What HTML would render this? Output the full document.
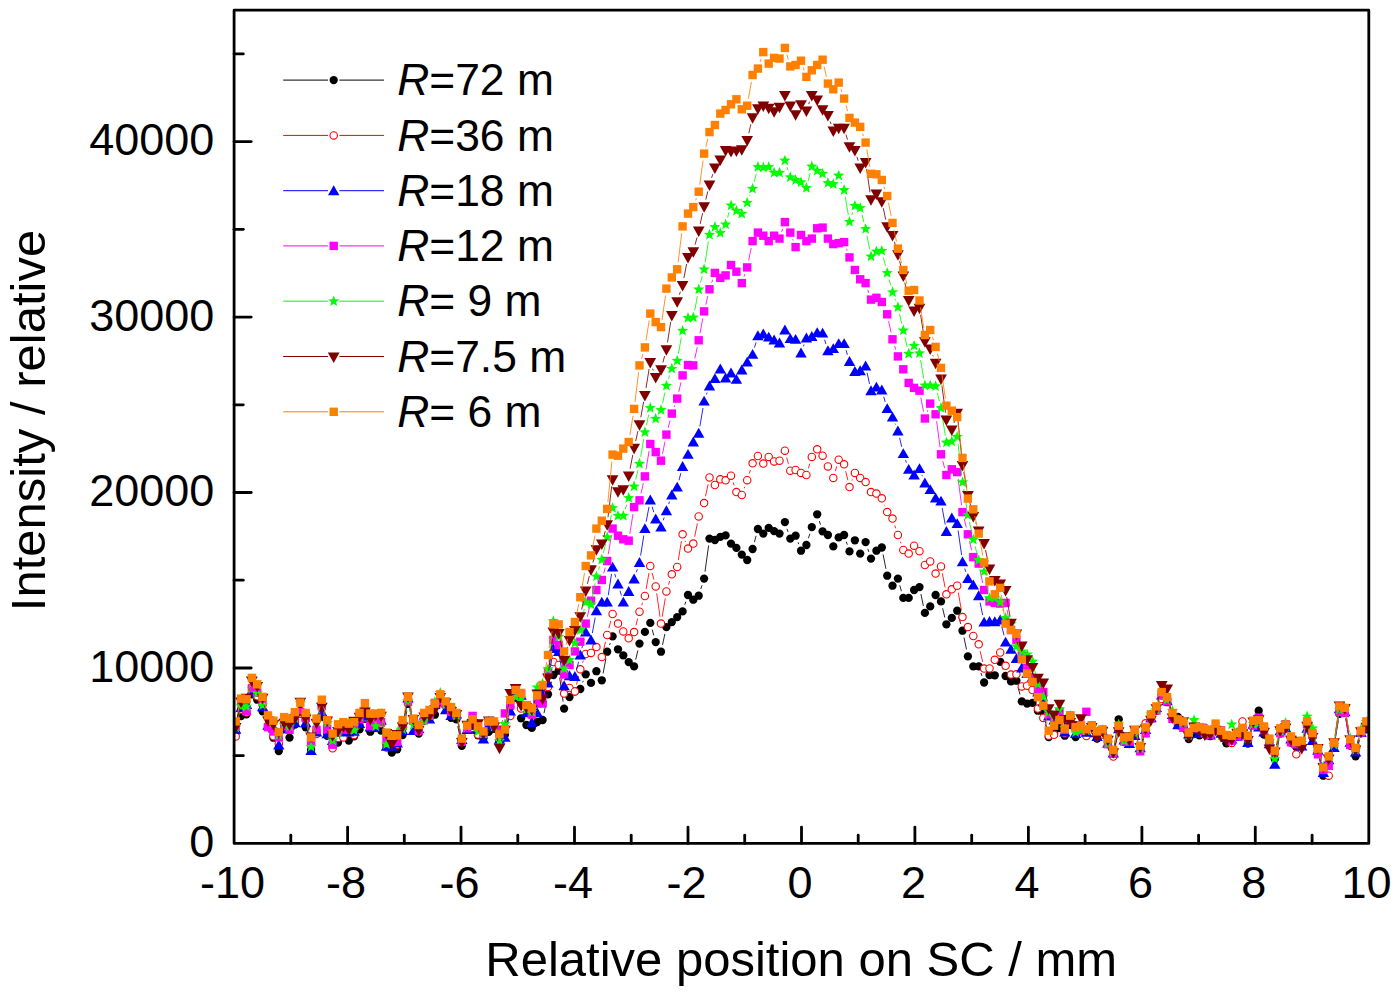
<!DOCTYPE html>
<html><head><meta charset="utf-8"><title>Intensity profiles</title>
<style>html,body{margin:0;padding:0;background:#fff;}svg{display:block}text{font-family:"Liberation Sans",sans-serif;fill:#000}</style></head><body>
<svg width="1400" height="994" viewBox="0 0 1400 994">
<rect width="1400" height="994" fill="#fff"/>
<defs><clipPath id="cp"><rect x="234.1" y="10.2" width="1134.7" height="833.2"/></clipPath></defs>
<g clip-path="url(#cp)">
<path d="M237.8 726.4L239 722.7M248.3 707.5L250 701M265 717.9L265.6 719.3M280.4 744.3L282.5 735.2M302.8 719.9L303.2 720.8M307.3 734.2L309.5 743.2M313 743.3L314.5 737.8M318.9 724.5L319.4 723.4M323.8 723.6L325.3 729.1M383.6 737.1L384 738.1M399.7 742.7L400.1 741.6M403.8 728.2L406.8 710.7M410.2 710.5L411.1 713.1M415.9 726.3L416.2 727.1M457.8 726.1L460.4 738.9M463.9 739.1L465.2 734.7M506.2 727.9L508.9 714M517.4 704.5L519.3 711.5M544 713.1L546.5 701.2M549.9 687.6L551.5 681.7M559.7 677.6L563.1 701.7M582.7 682.4L583.3 680.9M603.1 673.4L605.9 658.6M609.5 645.1L610.3 643M635.7 659.6L637.9 650.4M652.2 629.6L653.8 635.4M662.5 644.9L664.9 633.9M684.8 604.7L685.8 601.7M700.8 589L702 585.3M705 571.7L708.6 545.5M754.4 542.2L756.1 535.8M787 528.8L788.1 531.9M798 542.3L798.7 544.1M808.4 538.3L809.8 533.8M819.3 521L820.5 524.7M846.3 541.7L847.3 544.7M867.8 548.8L868.8 551.9M883.1 554.4L885.9 568.8M899.8 585.3L901.4 591.2M920.9 594L923.4 606M942.6 608.2L944.8 617.5M959 617.5L960.7 623.9M964 637.6L966.5 649.5M980.9 673L981.9 675.9M1002.7 668.3L1003.1 669.5M1018.1 687.5L1020 694.6M1044.8 718.8L1047.2 730.3M1114.4 744.7L1117.5 726.2M1120.3 726.1L1122.5 735.3M1137.4 741.7L1137.7 742.6M1142.3 742.4L1143.5 738.8M1148.1 725.5L1148.5 724.3M1158.5 704.2L1159.6 701M1169.3 708.8L1170.3 712M1249.6 736.7L1251.5 729.2M1260.2 717.5L1262.5 727.8M1271.5 748L1272.8 752.3M1276.2 752.2L1278.8 740.2M1288.1 735.1L1288.5 736.1M1303.6 737.5L1305.2 731.9M1314.9 743.9L1315.5 745.8M1319.5 759.2L1321.7 768.9M1330.7 756.7L1332 752.3M1335.2 738.7L1338.3 720.7M1345.9 718.7L1349.1 738.7M1357.2 749.5L1359.4 740.1" stroke="#000000" stroke-width="0.85" fill="none"/>
<g>
<circle cx="235.7" cy="733.1" r="4.15" fill="#000000"/>
<circle cx="241.1" cy="716" r="4.15" fill="#000000"/>
<circle cx="246.5" cy="714.3" r="4.15" fill="#000000"/>
<circle cx="251.9" cy="694.3" r="4.15" fill="#000000"/>
<circle cx="257.2" cy="699.7" r="4.15" fill="#000000"/>
<circle cx="262.6" cy="711.3" r="4.15" fill="#000000"/>
<circle cx="268" cy="725.9" r="4.15" fill="#000000"/>
<circle cx="273.4" cy="737.7" r="4.15" fill="#000000"/>
<circle cx="278.8" cy="751.1" r="4.15" fill="#000000"/>
<circle cx="284.2" cy="728.4" r="4.15" fill="#000000"/>
<circle cx="289.5" cy="737.6" r="4.15" fill="#000000"/>
<circle cx="294.9" cy="724.5" r="4.15" fill="#000000"/>
<circle cx="300.3" cy="713.4" r="4.15" fill="#000000"/>
<circle cx="305.7" cy="727.3" r="4.15" fill="#000000"/>
<circle cx="311.1" cy="750" r="4.15" fill="#000000"/>
<circle cx="316.5" cy="731.1" r="4.15" fill="#000000"/>
<circle cx="321.8" cy="716.9" r="4.15" fill="#000000"/>
<circle cx="327.2" cy="735.8" r="4.15" fill="#000000"/>
<circle cx="332.6" cy="745.8" r="4.15" fill="#000000"/>
<circle cx="338" cy="742.5" r="4.15" fill="#000000"/>
<circle cx="343.4" cy="735.6" r="4.15" fill="#000000"/>
<circle cx="348.8" cy="740.5" r="4.15" fill="#000000"/>
<circle cx="354.1" cy="736.4" r="4.15" fill="#000000"/>
<circle cx="359.5" cy="729.4" r="4.15" fill="#000000"/>
<circle cx="364.9" cy="718.9" r="4.15" fill="#000000"/>
<circle cx="370.3" cy="731.7" r="4.15" fill="#000000"/>
<circle cx="375.7" cy="726.3" r="4.15" fill="#000000"/>
<circle cx="381.1" cy="730.6" r="4.15" fill="#000000"/>
<circle cx="386.5" cy="744.7" r="4.15" fill="#000000"/>
<circle cx="391.8" cy="752.5" r="4.15" fill="#000000"/>
<circle cx="397.2" cy="749.3" r="4.15" fill="#000000"/>
<circle cx="402.6" cy="735.1" r="4.15" fill="#000000"/>
<circle cx="408" cy="703.8" r="4.15" fill="#000000"/>
<circle cx="413.4" cy="719.8" r="4.15" fill="#000000"/>
<circle cx="418.8" cy="733.6" r="4.15" fill="#000000"/>
<circle cx="424.1" cy="720.5" r="4.15" fill="#000000"/>
<circle cx="429.5" cy="713.8" r="4.15" fill="#000000"/>
<circle cx="434.9" cy="714.7" r="4.15" fill="#000000"/>
<circle cx="440.3" cy="701.4" r="4.15" fill="#000000"/>
<circle cx="445.7" cy="705.7" r="4.15" fill="#000000"/>
<circle cx="451.1" cy="717.9" r="4.15" fill="#000000"/>
<circle cx="456.4" cy="719.3" r="4.15" fill="#000000"/>
<circle cx="461.8" cy="745.8" r="4.15" fill="#000000"/>
<circle cx="467.2" cy="728" r="4.15" fill="#000000"/>
<circle cx="472.6" cy="728.9" r="4.15" fill="#000000"/>
<circle cx="478" cy="735.3" r="4.15" fill="#000000"/>
<circle cx="483.4" cy="738.3" r="4.15" fill="#000000"/>
<circle cx="488.7" cy="731.9" r="4.15" fill="#000000"/>
<circle cx="494.1" cy="728.8" r="4.15" fill="#000000"/>
<circle cx="499.5" cy="741.1" r="4.15" fill="#000000"/>
<circle cx="504.9" cy="734.8" r="4.15" fill="#000000"/>
<circle cx="510.3" cy="707.1" r="4.15" fill="#000000"/>
<circle cx="515.7" cy="697.8" r="4.15" fill="#000000"/>
<circle cx="521.1" cy="718.3" r="4.15" fill="#000000"/>
<circle cx="526.4" cy="725" r="4.15" fill="#000000"/>
<circle cx="531.8" cy="727.9" r="4.15" fill="#000000"/>
<circle cx="537.2" cy="722" r="4.15" fill="#000000"/>
<circle cx="542.6" cy="720" r="4.15" fill="#000000"/>
<circle cx="548" cy="694.3" r="4.15" fill="#000000"/>
<circle cx="553.4" cy="675" r="4.15" fill="#000000"/>
<circle cx="558.7" cy="670.7" r="4.15" fill="#000000"/>
<circle cx="564.1" cy="708.6" r="4.15" fill="#000000"/>
<circle cx="569.5" cy="697.1" r="4.15" fill="#000000"/>
<circle cx="574.9" cy="691.4" r="4.15" fill="#000000"/>
<circle cx="580.3" cy="689" r="4.15" fill="#000000"/>
<circle cx="585.7" cy="674.3" r="4.15" fill="#000000"/>
<circle cx="591" cy="682.9" r="4.15" fill="#000000"/>
<circle cx="596.4" cy="671.2" r="4.15" fill="#000000"/>
<circle cx="601.8" cy="680.3" r="4.15" fill="#000000"/>
<circle cx="607.2" cy="651.7" r="4.15" fill="#000000"/>
<circle cx="612.6" cy="636.4" r="4.15" fill="#000000"/>
<circle cx="618" cy="649.3" r="4.15" fill="#000000"/>
<circle cx="623.3" cy="655.4" r="4.15" fill="#000000"/>
<circle cx="628.7" cy="662.1" r="4.15" fill="#000000"/>
<circle cx="634.1" cy="666.4" r="4.15" fill="#000000"/>
<circle cx="639.5" cy="643.6" r="4.15" fill="#000000"/>
<circle cx="644.9" cy="631.9" r="4.15" fill="#000000"/>
<circle cx="650.3" cy="622.9" r="4.15" fill="#000000"/>
<circle cx="655.7" cy="642.1" r="4.15" fill="#000000"/>
<circle cx="661" cy="651.7" r="4.15" fill="#000000"/>
<circle cx="666.4" cy="627.1" r="4.15" fill="#000000"/>
<circle cx="671.8" cy="622.1" r="4.15" fill="#000000"/>
<circle cx="677.2" cy="617.1" r="4.15" fill="#000000"/>
<circle cx="682.6" cy="611.4" r="4.15" fill="#000000"/>
<circle cx="688" cy="595" r="4.15" fill="#000000"/>
<circle cx="693.3" cy="599.7" r="4.15" fill="#000000"/>
<circle cx="698.7" cy="595.7" r="4.15" fill="#000000"/>
<circle cx="704.1" cy="578.6" r="4.15" fill="#000000"/>
<circle cx="709.5" cy="538.6" r="4.15" fill="#000000"/>
<circle cx="714.9" cy="540" r="4.15" fill="#000000"/>
<circle cx="720.3" cy="536.9" r="4.15" fill="#000000"/>
<circle cx="725.6" cy="535.4" r="4.15" fill="#000000"/>
<circle cx="731" cy="543.6" r="4.15" fill="#000000"/>
<circle cx="736.4" cy="547.9" r="4.15" fill="#000000"/>
<circle cx="741.8" cy="554.6" r="4.15" fill="#000000"/>
<circle cx="747.2" cy="560" r="4.15" fill="#000000"/>
<circle cx="752.6" cy="549" r="4.15" fill="#000000"/>
<circle cx="757.9" cy="529" r="4.15" fill="#000000"/>
<circle cx="763.3" cy="533.6" r="4.15" fill="#000000"/>
<circle cx="768.7" cy="527.9" r="4.15" fill="#000000"/>
<circle cx="774.1" cy="531.1" r="4.15" fill="#000000"/>
<circle cx="779.5" cy="533.6" r="4.15" fill="#000000"/>
<circle cx="784.9" cy="522.1" r="4.15" fill="#000000"/>
<circle cx="790.3" cy="538.6" r="4.15" fill="#000000"/>
<circle cx="795.6" cy="535.7" r="4.15" fill="#000000"/>
<circle cx="801" cy="550.7" r="4.15" fill="#000000"/>
<circle cx="806.4" cy="545" r="4.15" fill="#000000"/>
<circle cx="811.8" cy="527.1" r="4.15" fill="#000000"/>
<circle cx="817.2" cy="514.3" r="4.15" fill="#000000"/>
<circle cx="822.6" cy="531.4" r="4.15" fill="#000000"/>
<circle cx="827.9" cy="535" r="4.15" fill="#000000"/>
<circle cx="833.3" cy="546.4" r="4.15" fill="#000000"/>
<circle cx="838.7" cy="537.4" r="4.15" fill="#000000"/>
<circle cx="844.1" cy="535" r="4.15" fill="#000000"/>
<circle cx="849.5" cy="551.4" r="4.15" fill="#000000"/>
<circle cx="854.9" cy="540.3" r="4.15" fill="#000000"/>
<circle cx="860.2" cy="553.6" r="4.15" fill="#000000"/>
<circle cx="865.6" cy="542.1" r="4.15" fill="#000000"/>
<circle cx="871" cy="558.6" r="4.15" fill="#000000"/>
<circle cx="876.4" cy="550.7" r="4.15" fill="#000000"/>
<circle cx="881.8" cy="547.5" r="4.15" fill="#000000"/>
<circle cx="887.2" cy="575.7" r="4.15" fill="#000000"/>
<circle cx="892.5" cy="585.7" r="4.15" fill="#000000"/>
<circle cx="897.9" cy="578.6" r="4.15" fill="#000000"/>
<circle cx="903.3" cy="597.9" r="4.15" fill="#000000"/>
<circle cx="908.7" cy="597.9" r="4.15" fill="#000000"/>
<circle cx="914.1" cy="590" r="4.15" fill="#000000"/>
<circle cx="919.5" cy="587.1" r="4.15" fill="#000000"/>
<circle cx="924.9" cy="612.9" r="4.15" fill="#000000"/>
<circle cx="930.2" cy="606.4" r="4.15" fill="#000000"/>
<circle cx="935.6" cy="595" r="4.15" fill="#000000"/>
<circle cx="941" cy="601.4" r="4.15" fill="#000000"/>
<circle cx="946.4" cy="624.3" r="4.15" fill="#000000"/>
<circle cx="951.8" cy="617.9" r="4.15" fill="#000000"/>
<circle cx="957.2" cy="610.7" r="4.15" fill="#000000"/>
<circle cx="962.5" cy="630.7" r="4.15" fill="#000000"/>
<circle cx="967.9" cy="656.4" r="4.15" fill="#000000"/>
<circle cx="973.3" cy="666.4" r="4.15" fill="#000000"/>
<circle cx="978.7" cy="666.4" r="4.15" fill="#000000"/>
<circle cx="984.1" cy="682.5" r="4.15" fill="#000000"/>
<circle cx="989.5" cy="675" r="4.15" fill="#000000"/>
<circle cx="994.8" cy="675.3" r="4.15" fill="#000000"/>
<circle cx="1000.2" cy="661.8" r="4.15" fill="#000000"/>
<circle cx="1005.6" cy="676" r="4.15" fill="#000000"/>
<circle cx="1011" cy="681.4" r="4.15" fill="#000000"/>
<circle cx="1016.4" cy="680.7" r="4.15" fill="#000000"/>
<circle cx="1021.8" cy="701.4" r="4.15" fill="#000000"/>
<circle cx="1027.1" cy="703.6" r="4.15" fill="#000000"/>
<circle cx="1032.5" cy="702.9" r="4.15" fill="#000000"/>
<circle cx="1037.9" cy="710.7" r="4.15" fill="#000000"/>
<circle cx="1043.3" cy="712" r="4.15" fill="#000000"/>
<circle cx="1048.7" cy="737.1" r="4.15" fill="#000000"/>
<circle cx="1054.1" cy="732.9" r="4.15" fill="#000000"/>
<circle cx="1059.5" cy="728" r="4.15" fill="#000000"/>
<circle cx="1064.8" cy="735.7" r="4.15" fill="#000000"/>
<circle cx="1070.2" cy="725" r="4.15" fill="#000000"/>
<circle cx="1075.6" cy="737.1" r="4.15" fill="#000000"/>
<circle cx="1081" cy="727.1" r="4.15" fill="#000000"/>
<circle cx="1086.4" cy="732" r="4.15" fill="#000000"/>
<circle cx="1091.8" cy="733.2" r="4.15" fill="#000000"/>
<circle cx="1097.1" cy="738.5" r="4.15" fill="#000000"/>
<circle cx="1102.5" cy="732.6" r="4.15" fill="#000000"/>
<circle cx="1107.9" cy="739" r="4.15" fill="#000000"/>
<circle cx="1113.3" cy="751.6" r="4.15" fill="#000000"/>
<circle cx="1118.7" cy="719.3" r="4.15" fill="#000000"/>
<circle cx="1124.1" cy="742.1" r="4.15" fill="#000000"/>
<circle cx="1129.4" cy="736.7" r="4.15" fill="#000000"/>
<circle cx="1134.8" cy="735.2" r="4.15" fill="#000000"/>
<circle cx="1140.2" cy="749.1" r="4.15" fill="#000000"/>
<circle cx="1145.6" cy="732.1" r="4.15" fill="#000000"/>
<circle cx="1151" cy="717.8" r="4.15" fill="#000000"/>
<circle cx="1156.4" cy="710.8" r="4.15" fill="#000000"/>
<circle cx="1161.7" cy="694.4" r="4.15" fill="#000000"/>
<circle cx="1167.1" cy="702.2" r="4.15" fill="#000000"/>
<circle cx="1172.5" cy="718.6" r="4.15" fill="#000000"/>
<circle cx="1177.9" cy="717" r="4.15" fill="#000000"/>
<circle cx="1183.3" cy="727.9" r="4.15" fill="#000000"/>
<circle cx="1188.7" cy="739" r="4.15" fill="#000000"/>
<circle cx="1194.1" cy="733.2" r="4.15" fill="#000000"/>
<circle cx="1199.4" cy="735.4" r="4.15" fill="#000000"/>
<circle cx="1204.8" cy="734.4" r="4.15" fill="#000000"/>
<circle cx="1210.2" cy="736" r="4.15" fill="#000000"/>
<circle cx="1215.6" cy="729.1" r="4.15" fill="#000000"/>
<circle cx="1221" cy="734.2" r="4.15" fill="#000000"/>
<circle cx="1226.4" cy="743.3" r="4.15" fill="#000000"/>
<circle cx="1231.7" cy="739.3" r="4.15" fill="#000000"/>
<circle cx="1237.1" cy="736.6" r="4.15" fill="#000000"/>
<circle cx="1242.5" cy="734.6" r="4.15" fill="#000000"/>
<circle cx="1247.9" cy="743.5" r="4.15" fill="#000000"/>
<circle cx="1253.3" cy="722.5" r="4.15" fill="#000000"/>
<circle cx="1258.7" cy="710.7" r="4.15" fill="#000000"/>
<circle cx="1264" cy="734.6" r="4.15" fill="#000000"/>
<circle cx="1269.4" cy="741.3" r="4.15" fill="#000000"/>
<circle cx="1274.8" cy="759" r="4.15" fill="#000000"/>
<circle cx="1280.2" cy="733.4" r="4.15" fill="#000000"/>
<circle cx="1285.6" cy="728.5" r="4.15" fill="#000000"/>
<circle cx="1291" cy="742.6" r="4.15" fill="#000000"/>
<circle cx="1296.3" cy="747" r="4.15" fill="#000000"/>
<circle cx="1301.7" cy="744.3" r="4.15" fill="#000000"/>
<circle cx="1307.1" cy="725.2" r="4.15" fill="#000000"/>
<circle cx="1312.5" cy="737.3" r="4.15" fill="#000000"/>
<circle cx="1317.9" cy="752.4" r="4.15" fill="#000000"/>
<circle cx="1323.3" cy="775.7" r="4.15" fill="#000000"/>
<circle cx="1328.7" cy="763.4" r="4.15" fill="#000000"/>
<circle cx="1334" cy="745.6" r="4.15" fill="#000000"/>
<circle cx="1339.4" cy="713.8" r="4.15" fill="#000000"/>
<circle cx="1344.8" cy="711.8" r="4.15" fill="#000000"/>
<circle cx="1350.2" cy="745.6" r="4.15" fill="#000000"/>
<circle cx="1355.6" cy="756.3" r="4.15" fill="#000000"/>
<circle cx="1361" cy="733.3" r="4.15" fill="#000000"/>
<circle cx="1366.3" cy="729.3" r="4.15" fill="#000000"/>
</g>
<path d="M237.1 729.6L239.7 716.5M247.9 705.6L250.4 694M264.4 711.6L266.2 718.7M280.4 736.7L282.6 727.2M307.1 726.3L309.6 738.3M317.9 727.2L320.4 714.7M323.3 714.7L325.8 727.1M329.7 740.5L330.1 741.7M382.6 730.4L384.9 740.6M399.4 738.2L400.5 734.7M403.9 721.1L406.7 706.6M409.6 706.6L411.7 715M421.3 725.3L421.6 724.5M457.9 721.9L460.3 732.7M496.6 728.7L497 729.8M507.3 723.9L507.8 722.6M511.7 709.2L514.2 697.5M517.7 697.4L519 701.8M539.4 696.5L540.4 693.7M549.4 680.2L551.9 668.8M560 671.9L562.8 686.7M576.5 684.6L578.6 676.1M582.6 662.7L583.3 660.6M603.5 650.3L605.5 641.8M608.9 628.2L610.8 620.8M635.9 625.3L637.7 618.5M641.8 605.1L642.6 602.6M646.1 589.1L649 572.9M652.1 572.8L653.9 579.6M656.7 593.3L660 616.7M662.2 616.7L665.3 598.3M668.5 584.7L669.7 581M678.3 560.1L681.4 541.2M685 540.9L685.5 542M694.7 536.7L697.4 523.3M705.5 496.2L708.1 484.3M733.2 482.4L734.2 485.4M744.2 488.4L744.8 486.8M749.3 473.5L750.4 470M786.7 457.5L788.4 463.9M808.4 468.3L809.8 463.6M835.3 471.2L836.7 466.4M845.7 471.1L847.9 480.3M852 480.6L852.4 479.4M884.3 504.8L884.6 505.6M894.7 525.3L895.7 528.3M900.3 541.6L901 543.4M922 557.7L922.3 558.5M942.3 573.3L945.1 587.4M958.3 592.6L961.4 610.2M980.2 651.1L982.6 661.8M1034.5 696.7L1036 701.9M1045.3 724.6L1046.7 729M1056.4 728.2L1057.1 726.3M1067 726.8L1068 723.6M1110 746.5L1111.2 750M1114.7 749.8L1117.3 737.2M1141.8 739.5L1144 730.1M1169.4 705.9L1170.3 708.5M1239.5 729.8L1240.1 728M1244.5 728.1L1245.9 732.6M1250.3 732.7L1250.8 731.4M1266.3 736.1L1267.2 738.9M1276.7 746.5L1278.3 740.4M1287.7 732.5L1288.8 736.1M1303.9 734.7L1304.9 731.4M1314.9 741.6L1315.5 743.1M1319.6 756.4L1321.5 763.7M1329.8 768.8L1332.9 750.5M1335.1 736.7L1338.4 715.2M1345.9 718.1L1349.1 738.2M1357.6 742.6L1358.9 738.5" stroke="#ff0000" stroke-width="0.85" fill="none"/>
<g>
<circle cx="235.7" cy="736.5" r="3.7" fill="#fff" stroke="#ff0000" stroke-width="1.1"/>
<circle cx="241.1" cy="709.6" r="3.7" fill="#fff" stroke="#ff0000" stroke-width="1.1"/>
<circle cx="246.5" cy="712.4" r="3.7" fill="#fff" stroke="#ff0000" stroke-width="1.1"/>
<circle cx="251.9" cy="687.2" r="3.7" fill="#fff" stroke="#ff0000" stroke-width="1.1"/>
<circle cx="257.2" cy="696.3" r="3.7" fill="#fff" stroke="#ff0000" stroke-width="1.1"/>
<circle cx="262.6" cy="704.8" r="3.7" fill="#fff" stroke="#ff0000" stroke-width="1.1"/>
<circle cx="268" cy="725.4" r="3.7" fill="#fff" stroke="#ff0000" stroke-width="1.1"/>
<circle cx="273.4" cy="736.2" r="3.7" fill="#fff" stroke="#ff0000" stroke-width="1.1"/>
<circle cx="278.8" cy="743.5" r="3.7" fill="#fff" stroke="#ff0000" stroke-width="1.1"/>
<circle cx="284.2" cy="720.3" r="3.7" fill="#fff" stroke="#ff0000" stroke-width="1.1"/>
<circle cx="289.5" cy="729.3" r="3.7" fill="#fff" stroke="#ff0000" stroke-width="1.1"/>
<circle cx="294.9" cy="722" r="3.7" fill="#fff" stroke="#ff0000" stroke-width="1.1"/>
<circle cx="300.3" cy="713.8" r="3.7" fill="#fff" stroke="#ff0000" stroke-width="1.1"/>
<circle cx="305.7" cy="719.4" r="3.7" fill="#fff" stroke="#ff0000" stroke-width="1.1"/>
<circle cx="311.1" cy="745.1" r="3.7" fill="#fff" stroke="#ff0000" stroke-width="1.1"/>
<circle cx="316.5" cy="734.1" r="3.7" fill="#fff" stroke="#ff0000" stroke-width="1.1"/>
<circle cx="321.8" cy="707.8" r="3.7" fill="#fff" stroke="#ff0000" stroke-width="1.1"/>
<circle cx="327.2" cy="734" r="3.7" fill="#fff" stroke="#ff0000" stroke-width="1.1"/>
<circle cx="332.6" cy="748.3" r="3.7" fill="#fff" stroke="#ff0000" stroke-width="1.1"/>
<circle cx="338" cy="737.9" r="3.7" fill="#fff" stroke="#ff0000" stroke-width="1.1"/>
<circle cx="343.4" cy="737.4" r="3.7" fill="#fff" stroke="#ff0000" stroke-width="1.1"/>
<circle cx="348.8" cy="731.6" r="3.7" fill="#fff" stroke="#ff0000" stroke-width="1.1"/>
<circle cx="354.1" cy="735" r="3.7" fill="#fff" stroke="#ff0000" stroke-width="1.1"/>
<circle cx="359.5" cy="724.2" r="3.7" fill="#fff" stroke="#ff0000" stroke-width="1.1"/>
<circle cx="364.9" cy="717.9" r="3.7" fill="#fff" stroke="#ff0000" stroke-width="1.1"/>
<circle cx="370.3" cy="727.6" r="3.7" fill="#fff" stroke="#ff0000" stroke-width="1.1"/>
<circle cx="375.7" cy="728" r="3.7" fill="#fff" stroke="#ff0000" stroke-width="1.1"/>
<circle cx="381.1" cy="723.5" r="3.7" fill="#fff" stroke="#ff0000" stroke-width="1.1"/>
<circle cx="386.5" cy="747.4" r="3.7" fill="#fff" stroke="#ff0000" stroke-width="1.1"/>
<circle cx="391.8" cy="746.6" r="3.7" fill="#fff" stroke="#ff0000" stroke-width="1.1"/>
<circle cx="397.2" cy="744.8" r="3.7" fill="#fff" stroke="#ff0000" stroke-width="1.1"/>
<circle cx="402.6" cy="728" r="3.7" fill="#fff" stroke="#ff0000" stroke-width="1.1"/>
<circle cx="408" cy="699.8" r="3.7" fill="#fff" stroke="#ff0000" stroke-width="1.1"/>
<circle cx="413.4" cy="721.8" r="3.7" fill="#fff" stroke="#ff0000" stroke-width="1.1"/>
<circle cx="418.8" cy="731.8" r="3.7" fill="#fff" stroke="#ff0000" stroke-width="1.1"/>
<circle cx="424.1" cy="718" r="3.7" fill="#fff" stroke="#ff0000" stroke-width="1.1"/>
<circle cx="429.5" cy="715.7" r="3.7" fill="#fff" stroke="#ff0000" stroke-width="1.1"/>
<circle cx="434.9" cy="705.9" r="3.7" fill="#fff" stroke="#ff0000" stroke-width="1.1"/>
<circle cx="440.3" cy="703.2" r="3.7" fill="#fff" stroke="#ff0000" stroke-width="1.1"/>
<circle cx="445.7" cy="702.5" r="3.7" fill="#fff" stroke="#ff0000" stroke-width="1.1"/>
<circle cx="451.1" cy="714.1" r="3.7" fill="#fff" stroke="#ff0000" stroke-width="1.1"/>
<circle cx="456.4" cy="715.1" r="3.7" fill="#fff" stroke="#ff0000" stroke-width="1.1"/>
<circle cx="461.8" cy="739.6" r="3.7" fill="#fff" stroke="#ff0000" stroke-width="1.1"/>
<circle cx="467.2" cy="728.6" r="3.7" fill="#fff" stroke="#ff0000" stroke-width="1.1"/>
<circle cx="472.6" cy="727.9" r="3.7" fill="#fff" stroke="#ff0000" stroke-width="1.1"/>
<circle cx="478" cy="734.5" r="3.7" fill="#fff" stroke="#ff0000" stroke-width="1.1"/>
<circle cx="483.4" cy="733.7" r="3.7" fill="#fff" stroke="#ff0000" stroke-width="1.1"/>
<circle cx="488.7" cy="725.7" r="3.7" fill="#fff" stroke="#ff0000" stroke-width="1.1"/>
<circle cx="494.1" cy="722.1" r="3.7" fill="#fff" stroke="#ff0000" stroke-width="1.1"/>
<circle cx="499.5" cy="736.3" r="3.7" fill="#fff" stroke="#ff0000" stroke-width="1.1"/>
<circle cx="504.9" cy="730.5" r="3.7" fill="#fff" stroke="#ff0000" stroke-width="1.1"/>
<circle cx="510.3" cy="716" r="3.7" fill="#fff" stroke="#ff0000" stroke-width="1.1"/>
<circle cx="515.7" cy="690.7" r="3.7" fill="#fff" stroke="#ff0000" stroke-width="1.1"/>
<circle cx="521.1" cy="708.5" r="3.7" fill="#fff" stroke="#ff0000" stroke-width="1.1"/>
<circle cx="526.4" cy="705.6" r="3.7" fill="#fff" stroke="#ff0000" stroke-width="1.1"/>
<circle cx="531.8" cy="715.5" r="3.7" fill="#fff" stroke="#ff0000" stroke-width="1.1"/>
<circle cx="537.2" cy="703.2" r="3.7" fill="#fff" stroke="#ff0000" stroke-width="1.1"/>
<circle cx="542.6" cy="687.1" r="3.7" fill="#fff" stroke="#ff0000" stroke-width="1.1"/>
<circle cx="548" cy="687" r="3.7" fill="#fff" stroke="#ff0000" stroke-width="1.1"/>
<circle cx="553.4" cy="662" r="3.7" fill="#fff" stroke="#ff0000" stroke-width="1.1"/>
<circle cx="558.7" cy="665" r="3.7" fill="#fff" stroke="#ff0000" stroke-width="1.1"/>
<circle cx="564.1" cy="693.6" r="3.7" fill="#fff" stroke="#ff0000" stroke-width="1.1"/>
<circle cx="569.5" cy="688" r="3.7" fill="#fff" stroke="#ff0000" stroke-width="1.1"/>
<circle cx="574.9" cy="691.4" r="3.7" fill="#fff" stroke="#ff0000" stroke-width="1.1"/>
<circle cx="580.3" cy="669.3" r="3.7" fill="#fff" stroke="#ff0000" stroke-width="1.1"/>
<circle cx="585.7" cy="654" r="3.7" fill="#fff" stroke="#ff0000" stroke-width="1.1"/>
<circle cx="591" cy="652.9" r="3.7" fill="#fff" stroke="#ff0000" stroke-width="1.1"/>
<circle cx="596.4" cy="647.1" r="3.7" fill="#fff" stroke="#ff0000" stroke-width="1.1"/>
<circle cx="601.8" cy="657.1" r="3.7" fill="#fff" stroke="#ff0000" stroke-width="1.1"/>
<circle cx="607.2" cy="635" r="3.7" fill="#fff" stroke="#ff0000" stroke-width="1.1"/>
<circle cx="612.6" cy="614" r="3.7" fill="#fff" stroke="#ff0000" stroke-width="1.1"/>
<circle cx="618" cy="623.6" r="3.7" fill="#fff" stroke="#ff0000" stroke-width="1.1"/>
<circle cx="623.3" cy="631.4" r="3.7" fill="#fff" stroke="#ff0000" stroke-width="1.1"/>
<circle cx="628.7" cy="638.3" r="3.7" fill="#fff" stroke="#ff0000" stroke-width="1.1"/>
<circle cx="634.1" cy="632.1" r="3.7" fill="#fff" stroke="#ff0000" stroke-width="1.1"/>
<circle cx="639.5" cy="611.7" r="3.7" fill="#fff" stroke="#ff0000" stroke-width="1.1"/>
<circle cx="644.9" cy="596" r="3.7" fill="#fff" stroke="#ff0000" stroke-width="1.1"/>
<circle cx="650.3" cy="566" r="3.7" fill="#fff" stroke="#ff0000" stroke-width="1.1"/>
<circle cx="655.7" cy="586.4" r="3.7" fill="#fff" stroke="#ff0000" stroke-width="1.1"/>
<circle cx="661" cy="623.6" r="3.7" fill="#fff" stroke="#ff0000" stroke-width="1.1"/>
<circle cx="666.4" cy="591.4" r="3.7" fill="#fff" stroke="#ff0000" stroke-width="1.1"/>
<circle cx="671.8" cy="574.3" r="3.7" fill="#fff" stroke="#ff0000" stroke-width="1.1"/>
<circle cx="677.2" cy="567" r="3.7" fill="#fff" stroke="#ff0000" stroke-width="1.1"/>
<circle cx="682.6" cy="534.3" r="3.7" fill="#fff" stroke="#ff0000" stroke-width="1.1"/>
<circle cx="688" cy="548.6" r="3.7" fill="#fff" stroke="#ff0000" stroke-width="1.1"/>
<circle cx="693.3" cy="543.6" r="3.7" fill="#fff" stroke="#ff0000" stroke-width="1.1"/>
<circle cx="698.7" cy="516.4" r="3.7" fill="#fff" stroke="#ff0000" stroke-width="1.1"/>
<circle cx="704.1" cy="503.1" r="3.7" fill="#fff" stroke="#ff0000" stroke-width="1.1"/>
<circle cx="709.5" cy="477.4" r="3.7" fill="#fff" stroke="#ff0000" stroke-width="1.1"/>
<circle cx="714.9" cy="485" r="3.7" fill="#fff" stroke="#ff0000" stroke-width="1.1"/>
<circle cx="720.3" cy="479.3" r="3.7" fill="#fff" stroke="#ff0000" stroke-width="1.1"/>
<circle cx="725.6" cy="480.3" r="3.7" fill="#fff" stroke="#ff0000" stroke-width="1.1"/>
<circle cx="731" cy="475.7" r="3.7" fill="#fff" stroke="#ff0000" stroke-width="1.1"/>
<circle cx="736.4" cy="492.1" r="3.7" fill="#fff" stroke="#ff0000" stroke-width="1.1"/>
<circle cx="741.8" cy="495" r="3.7" fill="#fff" stroke="#ff0000" stroke-width="1.1"/>
<circle cx="747.2" cy="480.2" r="3.7" fill="#fff" stroke="#ff0000" stroke-width="1.1"/>
<circle cx="752.6" cy="463.3" r="3.7" fill="#fff" stroke="#ff0000" stroke-width="1.1"/>
<circle cx="757.9" cy="456" r="3.7" fill="#fff" stroke="#ff0000" stroke-width="1.1"/>
<circle cx="763.3" cy="463.6" r="3.7" fill="#fff" stroke="#ff0000" stroke-width="1.1"/>
<circle cx="768.7" cy="456.9" r="3.7" fill="#fff" stroke="#ff0000" stroke-width="1.1"/>
<circle cx="774.1" cy="461.4" r="3.7" fill="#fff" stroke="#ff0000" stroke-width="1.1"/>
<circle cx="779.5" cy="460.7" r="3.7" fill="#fff" stroke="#ff0000" stroke-width="1.1"/>
<circle cx="784.9" cy="450.7" r="3.7" fill="#fff" stroke="#ff0000" stroke-width="1.1"/>
<circle cx="790.3" cy="470.7" r="3.7" fill="#fff" stroke="#ff0000" stroke-width="1.1"/>
<circle cx="795.6" cy="470" r="3.7" fill="#fff" stroke="#ff0000" stroke-width="1.1"/>
<circle cx="801" cy="472.9" r="3.7" fill="#fff" stroke="#ff0000" stroke-width="1.1"/>
<circle cx="806.4" cy="475" r="3.7" fill="#fff" stroke="#ff0000" stroke-width="1.1"/>
<circle cx="811.8" cy="456.9" r="3.7" fill="#fff" stroke="#ff0000" stroke-width="1.1"/>
<circle cx="817.2" cy="449.3" r="3.7" fill="#fff" stroke="#ff0000" stroke-width="1.1"/>
<circle cx="822.6" cy="455.7" r="3.7" fill="#fff" stroke="#ff0000" stroke-width="1.1"/>
<circle cx="827.9" cy="466.4" r="3.7" fill="#fff" stroke="#ff0000" stroke-width="1.1"/>
<circle cx="833.3" cy="477.9" r="3.7" fill="#fff" stroke="#ff0000" stroke-width="1.1"/>
<circle cx="838.7" cy="459.7" r="3.7" fill="#fff" stroke="#ff0000" stroke-width="1.1"/>
<circle cx="844.1" cy="464.3" r="3.7" fill="#fff" stroke="#ff0000" stroke-width="1.1"/>
<circle cx="849.5" cy="487.1" r="3.7" fill="#fff" stroke="#ff0000" stroke-width="1.1"/>
<circle cx="854.9" cy="472.9" r="3.7" fill="#fff" stroke="#ff0000" stroke-width="1.1"/>
<circle cx="860.2" cy="477.9" r="3.7" fill="#fff" stroke="#ff0000" stroke-width="1.1"/>
<circle cx="865.6" cy="482.1" r="3.7" fill="#fff" stroke="#ff0000" stroke-width="1.1"/>
<circle cx="871" cy="492.1" r="3.7" fill="#fff" stroke="#ff0000" stroke-width="1.1"/>
<circle cx="876.4" cy="493.6" r="3.7" fill="#fff" stroke="#ff0000" stroke-width="1.1"/>
<circle cx="881.8" cy="498.3" r="3.7" fill="#fff" stroke="#ff0000" stroke-width="1.1"/>
<circle cx="887.2" cy="512.1" r="3.7" fill="#fff" stroke="#ff0000" stroke-width="1.1"/>
<circle cx="892.5" cy="518.6" r="3.7" fill="#fff" stroke="#ff0000" stroke-width="1.1"/>
<circle cx="897.9" cy="535" r="3.7" fill="#fff" stroke="#ff0000" stroke-width="1.1"/>
<circle cx="903.3" cy="550" r="3.7" fill="#fff" stroke="#ff0000" stroke-width="1.1"/>
<circle cx="908.7" cy="553.6" r="3.7" fill="#fff" stroke="#ff0000" stroke-width="1.1"/>
<circle cx="914.1" cy="545.7" r="3.7" fill="#fff" stroke="#ff0000" stroke-width="1.1"/>
<circle cx="919.5" cy="551.2" r="3.7" fill="#fff" stroke="#ff0000" stroke-width="1.1"/>
<circle cx="924.9" cy="565" r="3.7" fill="#fff" stroke="#ff0000" stroke-width="1.1"/>
<circle cx="930.2" cy="561.4" r="3.7" fill="#fff" stroke="#ff0000" stroke-width="1.1"/>
<circle cx="935.6" cy="573.6" r="3.7" fill="#fff" stroke="#ff0000" stroke-width="1.1"/>
<circle cx="941" cy="566.4" r="3.7" fill="#fff" stroke="#ff0000" stroke-width="1.1"/>
<circle cx="946.4" cy="594.3" r="3.7" fill="#fff" stroke="#ff0000" stroke-width="1.1"/>
<circle cx="951.8" cy="589.3" r="3.7" fill="#fff" stroke="#ff0000" stroke-width="1.1"/>
<circle cx="957.2" cy="585.7" r="3.7" fill="#fff" stroke="#ff0000" stroke-width="1.1"/>
<circle cx="962.5" cy="617.1" r="3.7" fill="#fff" stroke="#ff0000" stroke-width="1.1"/>
<circle cx="967.9" cy="627.1" r="3.7" fill="#fff" stroke="#ff0000" stroke-width="1.1"/>
<circle cx="973.3" cy="636" r="3.7" fill="#fff" stroke="#ff0000" stroke-width="1.1"/>
<circle cx="978.7" cy="644.3" r="3.7" fill="#fff" stroke="#ff0000" stroke-width="1.1"/>
<circle cx="984.1" cy="668.6" r="3.7" fill="#fff" stroke="#ff0000" stroke-width="1.1"/>
<circle cx="989.5" cy="668.4" r="3.7" fill="#fff" stroke="#ff0000" stroke-width="1.1"/>
<circle cx="994.8" cy="659.8" r="3.7" fill="#fff" stroke="#ff0000" stroke-width="1.1"/>
<circle cx="1000.2" cy="652.5" r="3.7" fill="#fff" stroke="#ff0000" stroke-width="1.1"/>
<circle cx="1005.6" cy="665.8" r="3.7" fill="#fff" stroke="#ff0000" stroke-width="1.1"/>
<circle cx="1011" cy="674.6" r="3.7" fill="#fff" stroke="#ff0000" stroke-width="1.1"/>
<circle cx="1016.4" cy="674.3" r="3.7" fill="#fff" stroke="#ff0000" stroke-width="1.1"/>
<circle cx="1021.8" cy="686.4" r="3.7" fill="#fff" stroke="#ff0000" stroke-width="1.1"/>
<circle cx="1027.1" cy="685.7" r="3.7" fill="#fff" stroke="#ff0000" stroke-width="1.1"/>
<circle cx="1032.5" cy="690" r="3.7" fill="#fff" stroke="#ff0000" stroke-width="1.1"/>
<circle cx="1037.9" cy="708.6" r="3.7" fill="#fff" stroke="#ff0000" stroke-width="1.1"/>
<circle cx="1043.3" cy="717.9" r="3.7" fill="#fff" stroke="#ff0000" stroke-width="1.1"/>
<circle cx="1048.7" cy="735.7" r="3.7" fill="#fff" stroke="#ff0000" stroke-width="1.1"/>
<circle cx="1054.1" cy="734.8" r="3.7" fill="#fff" stroke="#ff0000" stroke-width="1.1"/>
<circle cx="1059.5" cy="719.7" r="3.7" fill="#fff" stroke="#ff0000" stroke-width="1.1"/>
<circle cx="1064.8" cy="733.4" r="3.7" fill="#fff" stroke="#ff0000" stroke-width="1.1"/>
<circle cx="1070.2" cy="717" r="3.7" fill="#fff" stroke="#ff0000" stroke-width="1.1"/>
<circle cx="1075.6" cy="727.8" r="3.7" fill="#fff" stroke="#ff0000" stroke-width="1.1"/>
<circle cx="1081" cy="731.3" r="3.7" fill="#fff" stroke="#ff0000" stroke-width="1.1"/>
<circle cx="1086.4" cy="736.1" r="3.7" fill="#fff" stroke="#ff0000" stroke-width="1.1"/>
<circle cx="1091.8" cy="732.2" r="3.7" fill="#fff" stroke="#ff0000" stroke-width="1.1"/>
<circle cx="1097.1" cy="735.2" r="3.7" fill="#fff" stroke="#ff0000" stroke-width="1.1"/>
<circle cx="1102.5" cy="734.4" r="3.7" fill="#fff" stroke="#ff0000" stroke-width="1.1"/>
<circle cx="1107.9" cy="739.8" r="3.7" fill="#fff" stroke="#ff0000" stroke-width="1.1"/>
<circle cx="1113.3" cy="756.6" r="3.7" fill="#fff" stroke="#ff0000" stroke-width="1.1"/>
<circle cx="1118.7" cy="730.3" r="3.7" fill="#fff" stroke="#ff0000" stroke-width="1.1"/>
<circle cx="1124.1" cy="741.5" r="3.7" fill="#fff" stroke="#ff0000" stroke-width="1.1"/>
<circle cx="1129.4" cy="744.1" r="3.7" fill="#fff" stroke="#ff0000" stroke-width="1.1"/>
<circle cx="1134.8" cy="734.7" r="3.7" fill="#fff" stroke="#ff0000" stroke-width="1.1"/>
<circle cx="1140.2" cy="746.3" r="3.7" fill="#fff" stroke="#ff0000" stroke-width="1.1"/>
<circle cx="1145.6" cy="723.3" r="3.7" fill="#fff" stroke="#ff0000" stroke-width="1.1"/>
<circle cx="1151" cy="717.5" r="3.7" fill="#fff" stroke="#ff0000" stroke-width="1.1"/>
<circle cx="1156.4" cy="710.5" r="3.7" fill="#fff" stroke="#ff0000" stroke-width="1.1"/>
<circle cx="1161.7" cy="699.1" r="3.7" fill="#fff" stroke="#ff0000" stroke-width="1.1"/>
<circle cx="1167.1" cy="699.2" r="3.7" fill="#fff" stroke="#ff0000" stroke-width="1.1"/>
<circle cx="1172.5" cy="715.2" r="3.7" fill="#fff" stroke="#ff0000" stroke-width="1.1"/>
<circle cx="1177.9" cy="724.5" r="3.7" fill="#fff" stroke="#ff0000" stroke-width="1.1"/>
<circle cx="1183.3" cy="726.9" r="3.7" fill="#fff" stroke="#ff0000" stroke-width="1.1"/>
<circle cx="1188.7" cy="736.1" r="3.7" fill="#fff" stroke="#ff0000" stroke-width="1.1"/>
<circle cx="1194.1" cy="727.3" r="3.7" fill="#fff" stroke="#ff0000" stroke-width="1.1"/>
<circle cx="1199.4" cy="728.4" r="3.7" fill="#fff" stroke="#ff0000" stroke-width="1.1"/>
<circle cx="1204.8" cy="727.7" r="3.7" fill="#fff" stroke="#ff0000" stroke-width="1.1"/>
<circle cx="1210.2" cy="732.1" r="3.7" fill="#fff" stroke="#ff0000" stroke-width="1.1"/>
<circle cx="1215.6" cy="727.7" r="3.7" fill="#fff" stroke="#ff0000" stroke-width="1.1"/>
<circle cx="1221" cy="733.4" r="3.7" fill="#fff" stroke="#ff0000" stroke-width="1.1"/>
<circle cx="1226.4" cy="737" r="3.7" fill="#fff" stroke="#ff0000" stroke-width="1.1"/>
<circle cx="1231.7" cy="742.9" r="3.7" fill="#fff" stroke="#ff0000" stroke-width="1.1"/>
<circle cx="1237.1" cy="736.4" r="3.7" fill="#fff" stroke="#ff0000" stroke-width="1.1"/>
<circle cx="1242.5" cy="721.4" r="3.7" fill="#fff" stroke="#ff0000" stroke-width="1.1"/>
<circle cx="1247.9" cy="739.3" r="3.7" fill="#fff" stroke="#ff0000" stroke-width="1.1"/>
<circle cx="1253.3" cy="724.9" r="3.7" fill="#fff" stroke="#ff0000" stroke-width="1.1"/>
<circle cx="1258.7" cy="721.2" r="3.7" fill="#fff" stroke="#ff0000" stroke-width="1.1"/>
<circle cx="1264" cy="729.5" r="3.7" fill="#fff" stroke="#ff0000" stroke-width="1.1"/>
<circle cx="1269.4" cy="745.6" r="3.7" fill="#fff" stroke="#ff0000" stroke-width="1.1"/>
<circle cx="1274.8" cy="753.2" r="3.7" fill="#fff" stroke="#ff0000" stroke-width="1.1"/>
<circle cx="1280.2" cy="733.6" r="3.7" fill="#fff" stroke="#ff0000" stroke-width="1.1"/>
<circle cx="1285.6" cy="725.8" r="3.7" fill="#fff" stroke="#ff0000" stroke-width="1.1"/>
<circle cx="1291" cy="742.8" r="3.7" fill="#fff" stroke="#ff0000" stroke-width="1.1"/>
<circle cx="1296.3" cy="754.3" r="3.7" fill="#fff" stroke="#ff0000" stroke-width="1.1"/>
<circle cx="1301.7" cy="741.3" r="3.7" fill="#fff" stroke="#ff0000" stroke-width="1.1"/>
<circle cx="1307.1" cy="724.8" r="3.7" fill="#fff" stroke="#ff0000" stroke-width="1.1"/>
<circle cx="1312.5" cy="735.1" r="3.7" fill="#fff" stroke="#ff0000" stroke-width="1.1"/>
<circle cx="1317.9" cy="749.6" r="3.7" fill="#fff" stroke="#ff0000" stroke-width="1.1"/>
<circle cx="1323.3" cy="770.5" r="3.7" fill="#fff" stroke="#ff0000" stroke-width="1.1"/>
<circle cx="1328.7" cy="775.7" r="3.7" fill="#fff" stroke="#ff0000" stroke-width="1.1"/>
<circle cx="1334" cy="743.6" r="3.7" fill="#fff" stroke="#ff0000" stroke-width="1.1"/>
<circle cx="1339.4" cy="708.2" r="3.7" fill="#fff" stroke="#ff0000" stroke-width="1.1"/>
<circle cx="1344.8" cy="711.1" r="3.7" fill="#fff" stroke="#ff0000" stroke-width="1.1"/>
<circle cx="1350.2" cy="745.1" r="3.7" fill="#fff" stroke="#ff0000" stroke-width="1.1"/>
<circle cx="1355.6" cy="749.3" r="3.7" fill="#fff" stroke="#ff0000" stroke-width="1.1"/>
<circle cx="1361" cy="731.8" r="3.7" fill="#fff" stroke="#ff0000" stroke-width="1.1"/>
<circle cx="1366.3" cy="726.4" r="3.7" fill="#fff" stroke="#ff0000" stroke-width="1.1"/>
</g>
<path d="M237.4 722.5L239.4 714.4M249 697.9L249.3 697.1M259.7 698.7L260.2 700.1M264.6 713.4L266.1 718.5M275.5 734.6L276.7 738.4M281 738.4L281.9 735.7M297.4 716.3L297.8 715.4M302.8 715.4L303.2 716.2M307 729.6L309.7 743.6M313 743.7L314.5 738.7M318.3 725.2L320 718.9M323.5 718.9L325.5 727M382.5 727.1L385 739.5M403.7 723.7L406.9 704.8M409.1 704.8L412.2 723.7M432 712.3L432.5 711M457.9 720.9L460.4 732.5M506.3 730.5L508.9 717.9M512.4 704.3L513.6 700.6M523.1 702L524.4 706M539.1 706L540.7 700.1M549.1 676.1L552.3 655.5M559.8 658.3L563 678.8M576.6 669.6L578.6 661.8M581.9 648.2L584.1 638.9M592.3 633.1L595.2 617.6M608.3 595.2L611.5 574M614.7 573.8L615.8 577.3M620 590.7L621.4 595.4M636.3 572.2L637.3 569.2M640.6 555.6L643.8 535.5M646.2 521.7L649 506.9M652.2 506.7L653.7 512.2M663.2 520.4L664.2 517.4M668.7 504.1L669.5 501.6M679 480.3L680.8 473.2M699.9 426.3L703 408M706.5 394.5L707.1 392.6M754.5 347.6L756 342.4M803.4 346.3L804 344.5M824.6 339.8L825.9 344M846.1 350.3L847.4 354.7M867.1 372.8L869.5 383.9M883.7 396.7L885.2 401.9M895.1 423.6L895.4 424.5M899.6 437.8L901.7 446.8M905.6 460.2L906.4 462.7M921.9 475.2L922.4 476.3M942.2 508L945.2 524.5M958.1 530.5L961.6 554.9M964.7 568.5L965.8 571.9M980.1 602.6L982.7 615.2M1001.9 626.8L1004 635.3M1034.9 683.6L1035.6 685.4M1045.8 708.5L1046.2 709.5M1061.7 722.6L1062.6 725.3M1114.8 746.2L1117.2 735.6M1142.2 741L1143.6 736.3M1169.7 707.2L1170 708.1M1249.9 735.6L1251.3 731M1271.2 750.5L1273 757.5M1275.9 757.4L1279.1 737.7M1303.8 739.4L1305.1 734.9M1319.5 757.1L1321.6 765.7M1335 740.5L1338.5 715.6M1346 718.6L1349 735.4M1357.4 745.4L1359.1 739.2" stroke="#0000ff" stroke-width="0.85" fill="none"/>
<g>
<path d="M235.7 723.9L241.4 733.8L230 733.8Z" fill="#0000ff"/>
<path d="M241.1 702.2L246.8 712.1L235.4 712.1Z" fill="#0000ff"/>
<path d="M246.5 699.1L252.2 709L240.8 709Z" fill="#0000ff"/>
<path d="M251.9 685.2L257.6 695.1L246.2 695.1Z" fill="#0000ff"/>
<path d="M257.2 686.8L262.9 696.7L251.5 696.7Z" fill="#0000ff"/>
<path d="M262.6 701.3L268.3 711.2L256.9 711.2Z" fill="#0000ff"/>
<path d="M268 719.8L273.7 729.7L262.3 729.7Z" fill="#0000ff"/>
<path d="M273.4 722.5L279.1 732.4L267.7 732.4Z" fill="#0000ff"/>
<path d="M278.8 739.6L284.5 749.5L273.1 749.5Z" fill="#0000ff"/>
<path d="M284.2 723.6L289.9 733.5L278.5 733.5Z" fill="#0000ff"/>
<path d="M289.5 719.7L295.2 729.6L283.8 729.6Z" fill="#0000ff"/>
<path d="M294.9 717.4L300.6 727.3L289.2 727.3Z" fill="#0000ff"/>
<path d="M300.3 703.4L306 713.3L294.6 713.3Z" fill="#0000ff"/>
<path d="M305.7 717.3L311.4 727.2L300 727.2Z" fill="#0000ff"/>
<path d="M311.1 745L316.8 754.9L305.4 754.9Z" fill="#0000ff"/>
<path d="M316.5 726.6L322.2 736.5L310.8 736.5Z" fill="#0000ff"/>
<path d="M321.8 706.7L327.5 716.6L316.1 716.6Z" fill="#0000ff"/>
<path d="M327.2 728.4L332.9 738.3L321.5 738.3Z" fill="#0000ff"/>
<path d="M332.6 735L338.3 744.9L326.9 744.9Z" fill="#0000ff"/>
<path d="M338 726.6L343.7 736.5L332.3 736.5Z" fill="#0000ff"/>
<path d="M343.4 726.2L349.1 736.1L337.7 736.1Z" fill="#0000ff"/>
<path d="M348.8 726.6L354.5 736.5L343.1 736.5Z" fill="#0000ff"/>
<path d="M354.1 725.8L359.8 735.7L348.4 735.7Z" fill="#0000ff"/>
<path d="M359.5 718.2L365.2 728.1L353.8 728.1Z" fill="#0000ff"/>
<path d="M364.9 710.9L370.6 720.8L359.2 720.8Z" fill="#0000ff"/>
<path d="M370.3 721.6L376 731.5L364.6 731.5Z" fill="#0000ff"/>
<path d="M375.7 722.1L381.4 732L370 732Z" fill="#0000ff"/>
<path d="M381.1 714.8L386.8 724.7L375.4 724.7Z" fill="#0000ff"/>
<path d="M386.5 740.9L392.2 750.8L380.8 750.8Z" fill="#0000ff"/>
<path d="M391.8 740.9L397.5 750.8L386.1 750.8Z" fill="#0000ff"/>
<path d="M397.2 737.7L402.9 747.6L391.5 747.6Z" fill="#0000ff"/>
<path d="M402.6 725.2L408.3 735.1L396.9 735.1Z" fill="#0000ff"/>
<path d="M408 692.5L413.7 702.4L402.3 702.4Z" fill="#0000ff"/>
<path d="M413.4 725.2L419.1 735.1L407.7 735.1Z" fill="#0000ff"/>
<path d="M418.8 723.4L424.5 733.3L413.1 733.3Z" fill="#0000ff"/>
<path d="M424.1 710.4L429.8 720.3L418.4 720.3Z" fill="#0000ff"/>
<path d="M429.5 713.5L435.2 723.4L423.8 723.4Z" fill="#0000ff"/>
<path d="M434.9 699.1L440.6 709L429.2 709Z" fill="#0000ff"/>
<path d="M440.3 692L446 701.9L434.6 701.9Z" fill="#0000ff"/>
<path d="M445.7 704.3L451.4 714.2L440 714.2Z" fill="#0000ff"/>
<path d="M451.1 710.2L456.8 720.1L445.4 720.1Z" fill="#0000ff"/>
<path d="M456.4 708.6L462.1 718.5L450.7 718.5Z" fill="#0000ff"/>
<path d="M461.8 734L467.5 743.9L456.1 743.9Z" fill="#0000ff"/>
<path d="M467.2 724.1L472.9 734L461.5 734Z" fill="#0000ff"/>
<path d="M472.6 720.1L478.3 730L466.9 730Z" fill="#0000ff"/>
<path d="M478 724L483.7 733.9L472.3 733.9Z" fill="#0000ff"/>
<path d="M483.4 733.7L489.1 743.6L477.7 743.6Z" fill="#0000ff"/>
<path d="M488.7 720.2L494.4 730.1L483 730.1Z" fill="#0000ff"/>
<path d="M494.1 721.7L499.8 731.6L488.4 731.6Z" fill="#0000ff"/>
<path d="M499.5 733.9L505.2 743.8L493.8 743.8Z" fill="#0000ff"/>
<path d="M504.9 731.9L510.6 741.8L499.2 741.8Z" fill="#0000ff"/>
<path d="M510.3 705.6L516 715.5L504.6 715.5Z" fill="#0000ff"/>
<path d="M515.7 688.5L521.4 698.4L510 698.4Z" fill="#0000ff"/>
<path d="M521.1 689.9L526.8 699.8L515.4 699.8Z" fill="#0000ff"/>
<path d="M526.4 707.3L532.1 717.2L520.7 717.2Z" fill="#0000ff"/>
<path d="M531.8 717.1L537.5 727L526.1 727Z" fill="#0000ff"/>
<path d="M537.2 707.3L542.9 717.2L531.5 717.2Z" fill="#0000ff"/>
<path d="M542.6 687.9L548.3 697.8L536.9 697.8Z" fill="#0000ff"/>
<path d="M548 677.6L553.7 687.5L542.3 687.5Z" fill="#0000ff"/>
<path d="M553.4 643.2L559.1 653.1L547.7 653.1Z" fill="#0000ff"/>
<path d="M558.7 646L564.4 655.9L553 655.9Z" fill="#0000ff"/>
<path d="M564.1 680.3L569.8 690.2L558.4 690.2Z" fill="#0000ff"/>
<path d="M569.5 670.3L575.2 680.2L563.8 680.2Z" fill="#0000ff"/>
<path d="M574.9 671L580.6 680.9L569.2 680.9Z" fill="#0000ff"/>
<path d="M580.3 649.6L586 659.5L574.6 659.5Z" fill="#0000ff"/>
<path d="M585.7 626.7L591.4 636.6L580 636.6Z" fill="#0000ff"/>
<path d="M591 634.6L596.7 644.5L585.3 644.5Z" fill="#0000ff"/>
<path d="M596.4 605.3L602.1 615.2L590.7 615.2Z" fill="#0000ff"/>
<path d="M601.8 596.7L607.5 606.6L596.1 606.6Z" fill="#0000ff"/>
<path d="M607.2 596.7L612.9 606.6L601.5 606.6Z" fill="#0000ff"/>
<path d="M612.6 561.7L618.3 571.6L606.9 571.6Z" fill="#0000ff"/>
<path d="M618 578.6L623.7 588.5L612.3 588.5Z" fill="#0000ff"/>
<path d="M623.3 596.7L629 606.6L617.6 606.6Z" fill="#0000ff"/>
<path d="M628.7 586L634.4 595.9L623 595.9Z" fill="#0000ff"/>
<path d="M634.1 573.5L639.8 583.4L628.4 583.4Z" fill="#0000ff"/>
<path d="M639.5 557.1L645.2 567L633.8 567Z" fill="#0000ff"/>
<path d="M644.9 523.2L650.6 533.1L639.2 533.1Z" fill="#0000ff"/>
<path d="M650.3 494.6L656 504.5L644.6 504.5Z" fill="#0000ff"/>
<path d="M655.7 513.5L661.4 523.4L650 523.4Z" fill="#0000ff"/>
<path d="M661 521.7L666.7 531.6L655.3 531.6Z" fill="#0000ff"/>
<path d="M666.4 505.3L672.1 515.2L660.7 515.2Z" fill="#0000ff"/>
<path d="M671.8 489.6L677.5 499.5L666.1 499.5Z" fill="#0000ff"/>
<path d="M677.2 481.7L682.9 491.6L671.5 491.6Z" fill="#0000ff"/>
<path d="M682.6 461L688.3 470.9L676.9 470.9Z" fill="#0000ff"/>
<path d="M688 448.9L693.7 458.8L682.3 458.8Z" fill="#0000ff"/>
<path d="M693.3 436.6L699 446.5L687.6 446.5Z" fill="#0000ff"/>
<path d="M698.7 427.8L704.4 437.7L693 437.7Z" fill="#0000ff"/>
<path d="M704.1 395.7L709.8 405.6L698.4 405.6Z" fill="#0000ff"/>
<path d="M709.5 380.6L715.2 390.5L703.8 390.5Z" fill="#0000ff"/>
<path d="M714.9 373.2L720.6 383.1L709.2 383.1Z" fill="#0000ff"/>
<path d="M720.3 363.5L726 373.4L714.6 373.4Z" fill="#0000ff"/>
<path d="M725.6 372.5L731.3 382.4L719.9 382.4Z" fill="#0000ff"/>
<path d="M731 367.5L736.7 377.4L725.3 377.4Z" fill="#0000ff"/>
<path d="M736.4 373.9L742.1 383.8L730.7 383.8Z" fill="#0000ff"/>
<path d="M741.8 364.6L747.5 374.5L736.1 374.5Z" fill="#0000ff"/>
<path d="M747.2 356.7L752.9 366.6L741.5 366.6Z" fill="#0000ff"/>
<path d="M752.6 348.9L758.3 358.8L746.9 358.8Z" fill="#0000ff"/>
<path d="M757.9 330.3L763.6 340.2L752.2 340.2Z" fill="#0000ff"/>
<path d="M763.3 328.6L769 338.5L757.6 338.5Z" fill="#0000ff"/>
<path d="M768.7 331.7L774.4 341.6L763 341.6Z" fill="#0000ff"/>
<path d="M774.1 334.6L779.8 344.5L768.4 344.5Z" fill="#0000ff"/>
<path d="M779.5 337.5L785.2 347.4L773.8 347.4Z" fill="#0000ff"/>
<path d="M784.9 324.6L790.6 334.5L779.2 334.5Z" fill="#0000ff"/>
<path d="M790.3 333.2L796 343.1L784.6 343.1Z" fill="#0000ff"/>
<path d="M795.6 333.9L801.3 343.8L789.9 343.8Z" fill="#0000ff"/>
<path d="M801 347.5L806.7 357.4L795.3 357.4Z" fill="#0000ff"/>
<path d="M806.4 332.5L812.1 342.4L800.7 342.4Z" fill="#0000ff"/>
<path d="M811.8 331L817.5 340.9L806.1 340.9Z" fill="#0000ff"/>
<path d="M817.2 327.2L822.9 337.1L811.5 337.1Z" fill="#0000ff"/>
<path d="M822.6 327.7L828.3 337.6L816.9 337.6Z" fill="#0000ff"/>
<path d="M827.9 345.3L833.6 355.2L822.2 355.2Z" fill="#0000ff"/>
<path d="M833.3 343.2L839 353.1L827.6 353.1Z" fill="#0000ff"/>
<path d="M838.7 338.2L844.4 348.1L833 348.1Z" fill="#0000ff"/>
<path d="M844.1 338.2L849.8 348.1L838.4 348.1Z" fill="#0000ff"/>
<path d="M849.5 356L855.2 365.9L843.8 365.9Z" fill="#0000ff"/>
<path d="M854.9 366L860.6 375.9L849.2 375.9Z" fill="#0000ff"/>
<path d="M860.2 365.3L865.9 375.2L854.5 375.2Z" fill="#0000ff"/>
<path d="M865.6 360.6L871.3 370.5L859.9 370.5Z" fill="#0000ff"/>
<path d="M871 385.3L876.7 395.2L865.3 395.2Z" fill="#0000ff"/>
<path d="M876.4 381.7L882.1 391.6L870.7 391.6Z" fill="#0000ff"/>
<path d="M881.8 384.6L887.5 394.5L876.1 394.5Z" fill="#0000ff"/>
<path d="M887.2 403.2L892.9 413.1L881.5 413.1Z" fill="#0000ff"/>
<path d="M892.5 411.7L898.2 421.6L886.8 421.6Z" fill="#0000ff"/>
<path d="M897.9 425.6L903.6 435.5L892.2 435.5Z" fill="#0000ff"/>
<path d="M903.3 448.2L909 458.1L897.6 458.1Z" fill="#0000ff"/>
<path d="M908.7 463.9L914.4 473.8L903 473.8Z" fill="#0000ff"/>
<path d="M914.1 469.6L919.8 479.5L908.4 479.5Z" fill="#0000ff"/>
<path d="M919.5 463.2L925.2 473.1L913.8 473.1Z" fill="#0000ff"/>
<path d="M924.9 477.5L930.6 487.4L919.2 487.4Z" fill="#0000ff"/>
<path d="M930.2 484.2L935.9 494.1L924.5 494.1Z" fill="#0000ff"/>
<path d="M935.6 492.5L941.3 502.4L929.9 502.4Z" fill="#0000ff"/>
<path d="M941 495.7L946.7 505.6L935.3 505.6Z" fill="#0000ff"/>
<path d="M946.4 526L952.1 535.9L940.7 535.9Z" fill="#0000ff"/>
<path d="M951.8 512.5L957.5 522.4L946.1 522.4Z" fill="#0000ff"/>
<path d="M957.2 518.2L962.9 528.1L951.5 528.1Z" fill="#0000ff"/>
<path d="M962.5 556.4L968.2 566.3L956.8 566.3Z" fill="#0000ff"/>
<path d="M967.9 573.2L973.6 583.1L962.2 583.1Z" fill="#0000ff"/>
<path d="M973.3 579.6L979 589.5L967.6 589.5Z" fill="#0000ff"/>
<path d="M978.7 590.3L984.4 600.2L973 600.2Z" fill="#0000ff"/>
<path d="M984.1 616.7L989.8 626.6L978.4 626.6Z" fill="#0000ff"/>
<path d="M989.5 616L995.2 625.9L983.8 625.9Z" fill="#0000ff"/>
<path d="M994.8 616.3L1000.5 626.2L989.1 626.2Z" fill="#0000ff"/>
<path d="M1000.2 614.6L1005.9 624.5L994.5 624.5Z" fill="#0000ff"/>
<path d="M1005.6 636.7L1011.3 646.6L999.9 646.6Z" fill="#0000ff"/>
<path d="M1011 643.9L1016.7 653.8L1005.3 653.8Z" fill="#0000ff"/>
<path d="M1016.4 653.2L1022.1 663.1L1010.7 663.1Z" fill="#0000ff"/>
<path d="M1021.8 662.5L1027.5 672.4L1016.1 672.4Z" fill="#0000ff"/>
<path d="M1027.1 668.2L1032.8 678.1L1021.4 678.1Z" fill="#0000ff"/>
<path d="M1032.5 671.6L1038.2 681.5L1026.8 681.5Z" fill="#0000ff"/>
<path d="M1037.9 686.6L1043.6 696.5L1032.2 696.5Z" fill="#0000ff"/>
<path d="M1043.3 696.6L1049 706.5L1037.6 706.5Z" fill="#0000ff"/>
<path d="M1048.7 710.6L1054.4 720.5L1043 720.5Z" fill="#0000ff"/>
<path d="M1054.1 714.6L1059.8 724.5L1048.4 724.5Z" fill="#0000ff"/>
<path d="M1059.5 710.6L1065.2 720.5L1053.8 720.5Z" fill="#0000ff"/>
<path d="M1064.8 726.5L1070.5 736.4L1059.1 736.4Z" fill="#0000ff"/>
<path d="M1070.2 716.2L1075.9 726.1L1064.5 726.1Z" fill="#0000ff"/>
<path d="M1075.6 728.2L1081.3 738.1L1069.9 738.1Z" fill="#0000ff"/>
<path d="M1081 723.8L1086.7 733.7L1075.3 733.7Z" fill="#0000ff"/>
<path d="M1086.4 726.9L1092.1 736.8L1080.7 736.8Z" fill="#0000ff"/>
<path d="M1091.8 720.7L1097.5 730.6L1086.1 730.6Z" fill="#0000ff"/>
<path d="M1097.1 731.2L1102.8 741.1L1091.4 741.1Z" fill="#0000ff"/>
<path d="M1102.5 726.2L1108.2 736.1L1096.8 736.1Z" fill="#0000ff"/>
<path d="M1107.9 737.8L1113.6 747.7L1102.2 747.7Z" fill="#0000ff"/>
<path d="M1113.3 747.6L1119 757.5L1107.6 757.5Z" fill="#0000ff"/>
<path d="M1118.7 723.4L1124.4 733.3L1113 733.3Z" fill="#0000ff"/>
<path d="M1124.1 734.6L1129.8 744.5L1118.4 744.5Z" fill="#0000ff"/>
<path d="M1129.4 738.2L1135.1 748.1L1123.7 748.1Z" fill="#0000ff"/>
<path d="M1134.8 730.2L1140.5 740.1L1129.1 740.1Z" fill="#0000ff"/>
<path d="M1140.2 742.4L1145.9 752.3L1134.5 752.3Z" fill="#0000ff"/>
<path d="M1145.6 724.2L1151.3 734.1L1139.9 734.1Z" fill="#0000ff"/>
<path d="M1151 712.4L1156.7 722.3L1145.3 722.3Z" fill="#0000ff"/>
<path d="M1156.4 702.2L1162.1 712.1L1150.7 712.1Z" fill="#0000ff"/>
<path d="M1161.7 689.5L1167.4 699.4L1156 699.4Z" fill="#0000ff"/>
<path d="M1167.1 695.3L1172.8 705.2L1161.4 705.2Z" fill="#0000ff"/>
<path d="M1172.5 709.2L1178.2 719.1L1166.8 719.1Z" fill="#0000ff"/>
<path d="M1177.9 719.3L1183.6 729.2L1172.2 729.2Z" fill="#0000ff"/>
<path d="M1183.3 719.7L1189 729.6L1177.6 729.6Z" fill="#0000ff"/>
<path d="M1188.7 728.5L1194.4 738.4L1183 738.4Z" fill="#0000ff"/>
<path d="M1194.1 724.3L1199.8 734.2L1188.4 734.2Z" fill="#0000ff"/>
<path d="M1199.4 728.1L1205.1 738L1193.7 738Z" fill="#0000ff"/>
<path d="M1204.8 726.4L1210.5 736.3L1199.1 736.3Z" fill="#0000ff"/>
<path d="M1210.2 729.6L1215.9 739.5L1204.5 739.5Z" fill="#0000ff"/>
<path d="M1215.6 721.1L1221.3 731L1209.9 731Z" fill="#0000ff"/>
<path d="M1221 727.8L1226.7 737.7L1215.3 737.7Z" fill="#0000ff"/>
<path d="M1226.4 732L1232.1 741.9L1220.7 741.9Z" fill="#0000ff"/>
<path d="M1231.7 733.7L1237.4 743.6L1226 743.6Z" fill="#0000ff"/>
<path d="M1237.1 730.9L1242.8 740.8L1231.4 740.8Z" fill="#0000ff"/>
<path d="M1242.5 729.4L1248.2 739.3L1236.8 739.3Z" fill="#0000ff"/>
<path d="M1247.9 737L1253.6 746.9L1242.2 746.9Z" fill="#0000ff"/>
<path d="M1253.3 718.8L1259 728.7L1247.6 728.7Z" fill="#0000ff"/>
<path d="M1258.7 721.6L1264.4 731.5L1253 731.5Z" fill="#0000ff"/>
<path d="M1264 726.7L1269.7 736.6L1258.3 736.6Z" fill="#0000ff"/>
<path d="M1269.4 738.3L1275.1 748.2L1263.7 748.2Z" fill="#0000ff"/>
<path d="M1274.8 758.9L1280.5 768.8L1269.1 768.8Z" fill="#0000ff"/>
<path d="M1280.2 725.4L1285.9 735.3L1274.5 735.3Z" fill="#0000ff"/>
<path d="M1285.6 722.4L1291.3 732.3L1279.9 732.3Z" fill="#0000ff"/>
<path d="M1291 733.5L1296.7 743.4L1285.3 743.4Z" fill="#0000ff"/>
<path d="M1296.3 737.5L1302 747.4L1290.6 747.4Z" fill="#0000ff"/>
<path d="M1301.7 740.7L1307.4 750.6L1296 750.6Z" fill="#0000ff"/>
<path d="M1307.1 722.8L1312.8 732.7L1301.4 732.7Z" fill="#0000ff"/>
<path d="M1312.5 735.2L1318.2 745.1L1306.8 745.1Z" fill="#0000ff"/>
<path d="M1317.9 744.9L1323.6 754.8L1312.2 754.8Z" fill="#0000ff"/>
<path d="M1323.3 767.1L1329 777L1317.6 777Z" fill="#0000ff"/>
<path d="M1328.7 754.4L1334.4 764.3L1323 764.3Z" fill="#0000ff"/>
<path d="M1334 742L1339.7 751.9L1328.3 751.9Z" fill="#0000ff"/>
<path d="M1339.4 703.3L1345.1 713.2L1333.7 713.2Z" fill="#0000ff"/>
<path d="M1344.8 706.3L1350.5 716.2L1339.1 716.2Z" fill="#0000ff"/>
<path d="M1350.2 736.9L1355.9 746.8L1344.5 746.8Z" fill="#0000ff"/>
<path d="M1355.6 746.7L1361.3 756.6L1349.9 756.6Z" fill="#0000ff"/>
<path d="M1361 727L1366.7 736.9L1355.3 736.9Z" fill="#0000ff"/>
<path d="M1366.3 723L1372 732.9L1360.6 732.9Z" fill="#0000ff"/>
</g>
<path d="M237.3 719L239.5 709.1M248.1 704.2L250.2 695.1M263.9 705.4L266.7 720.4M307.2 724.8L309.5 734.9M318 723.1L320.3 712.7M323.4 712.7L325.6 722.1M329.5 735.6L330.4 738.1M367.2 717.4L368 719.5M383.2 728.8L384.4 732.6M399.4 735.1L400.4 732.2M404.1 718.7L406.5 708.4M409.9 708.3L411.5 713.9M457.8 721.5L460.5 734.8M501.7 723.3L502.7 720.1M512.6 698.6L513.4 696.1M543.8 696.6L546.8 678.9M549.1 665.1L552.2 646.9M560 651.9L562.9 667.4M582.3 635L583.7 630.3M587.3 616.8L589.4 607.5M603.7 573.3L605.3 567.7M608.3 554.1L611.4 535.5M629.8 533.8L633 514M641 493.5L643.3 483.2M646 469.5L649.1 450.9M662.5 453.8L665 441.5M668.2 427.8L670.1 420.4M674.2 407L674.8 405.2M678.8 391.8L681 382.2M694.8 358.6L697.3 347.1M700 333.4L702.8 318.3M705.8 304.6L707.8 296.1M711.7 282.6L712.7 279.6M744.1 276.5L744.9 274M748.6 260.5L751.2 248M781.7 231.9L782.7 228.8M792.7 239.2L793.2 240.5M846.4 248.7L847.2 250.8M867.8 289.8L868.8 292.9M888.6 321.1L891.1 332.5M894.7 346L895.8 349.7M920.8 397.6L923.5 411.6M927.2 411.9L927.9 410.2M936.6 421.2L940.1 447.4M942.8 461.1L944.6 468.2M958.1 479L961.6 505.2M964.2 518.9L966.3 527.5M969.5 541.1L971.7 550.3M980.1 570.5L982.7 583.1M1007 609.8L1009.6 623.1M1018.7 646.6L1019.5 649.1M1044.9 698.8L1047 707.5M1061.5 718.7L1062.8 723.1M1067.3 723.2L1067.8 722M1082.9 724L1084.5 718.5M1105.1 736.9L1105.4 737.7M1114.7 746.6L1117.2 734.9M1136.6 736.9L1138.5 744.5M1142.2 744.6L1143.6 740.1M1148 726.8L1148.6 725M1158.7 703.8L1159.4 701.9M1169.2 708.1L1170.5 712.2M1266.5 736.6L1266.9 737.6M1276.8 744.5L1278.2 739.9M1287.6 730.9L1289 735.5M1303.7 735.7L1305.1 731M1314.4 741.5L1316 747.5M1320.2 760.9L1321 763.3M1330.3 759.1L1332.4 750.3M1335.2 736.6L1338.2 718.7M1346 719.9L1349 738M1357.8 741.8L1358.7 739.2" stroke="#ff00ff" stroke-width="0.85" fill="none"/>
<g>
<rect x="231.5" y="721.6" width="8.4" height="8.4" fill="#ff00ff"/>
<rect x="236.9" y="698.1" width="8.4" height="8.4" fill="#ff00ff"/>
<rect x="242.3" y="706.9" width="8.4" height="8.4" fill="#ff00ff"/>
<rect x="247.7" y="684.1" width="8.4" height="8.4" fill="#ff00ff"/>
<rect x="253" y="688.4" width="8.4" height="8.4" fill="#ff00ff"/>
<rect x="258.4" y="694.3" width="8.4" height="8.4" fill="#ff00ff"/>
<rect x="263.8" y="723" width="8.4" height="8.4" fill="#ff00ff"/>
<rect x="269.2" y="727.3" width="8.4" height="8.4" fill="#ff00ff"/>
<rect x="274.6" y="733.1" width="8.4" height="8.4" fill="#ff00ff"/>
<rect x="280" y="722" width="8.4" height="8.4" fill="#ff00ff"/>
<rect x="285.3" y="725.6" width="8.4" height="8.4" fill="#ff00ff"/>
<rect x="290.7" y="712.2" width="8.4" height="8.4" fill="#ff00ff"/>
<rect x="296.1" y="707.9" width="8.4" height="8.4" fill="#ff00ff"/>
<rect x="301.5" y="713.8" width="8.4" height="8.4" fill="#ff00ff"/>
<rect x="306.9" y="737.5" width="8.4" height="8.4" fill="#ff00ff"/>
<rect x="312.3" y="725.7" width="8.4" height="8.4" fill="#ff00ff"/>
<rect x="317.6" y="701.7" width="8.4" height="8.4" fill="#ff00ff"/>
<rect x="323" y="724.8" width="8.4" height="8.4" fill="#ff00ff"/>
<rect x="328.4" y="740.5" width="8.4" height="8.4" fill="#ff00ff"/>
<rect x="333.8" y="727.3" width="8.4" height="8.4" fill="#ff00ff"/>
<rect x="339.2" y="725.3" width="8.4" height="8.4" fill="#ff00ff"/>
<rect x="344.6" y="725.6" width="8.4" height="8.4" fill="#ff00ff"/>
<rect x="349.9" y="723.3" width="8.4" height="8.4" fill="#ff00ff"/>
<rect x="355.3" y="714.7" width="8.4" height="8.4" fill="#ff00ff"/>
<rect x="360.7" y="706.6" width="8.4" height="8.4" fill="#ff00ff"/>
<rect x="366.1" y="721.9" width="8.4" height="8.4" fill="#ff00ff"/>
<rect x="371.5" y="716.6" width="8.4" height="8.4" fill="#ff00ff"/>
<rect x="376.9" y="717.9" width="8.4" height="8.4" fill="#ff00ff"/>
<rect x="382.3" y="735.1" width="8.4" height="8.4" fill="#ff00ff"/>
<rect x="387.6" y="737.9" width="8.4" height="8.4" fill="#ff00ff"/>
<rect x="393" y="737.6" width="8.4" height="8.4" fill="#ff00ff"/>
<rect x="398.4" y="721.4" width="8.4" height="8.4" fill="#ff00ff"/>
<rect x="403.8" y="697.3" width="8.4" height="8.4" fill="#ff00ff"/>
<rect x="409.2" y="716.5" width="8.4" height="8.4" fill="#ff00ff"/>
<rect x="414.6" y="726.4" width="8.4" height="8.4" fill="#ff00ff"/>
<rect x="419.9" y="715.9" width="8.4" height="8.4" fill="#ff00ff"/>
<rect x="425.3" y="711.5" width="8.4" height="8.4" fill="#ff00ff"/>
<rect x="430.7" y="698.7" width="8.4" height="8.4" fill="#ff00ff"/>
<rect x="436.1" y="697.9" width="8.4" height="8.4" fill="#ff00ff"/>
<rect x="441.5" y="700" width="8.4" height="8.4" fill="#ff00ff"/>
<rect x="446.9" y="707.6" width="8.4" height="8.4" fill="#ff00ff"/>
<rect x="452.2" y="710.4" width="8.4" height="8.4" fill="#ff00ff"/>
<rect x="457.6" y="737.5" width="8.4" height="8.4" fill="#ff00ff"/>
<rect x="463" y="724" width="8.4" height="8.4" fill="#ff00ff"/>
<rect x="468.4" y="711.7" width="8.4" height="8.4" fill="#ff00ff"/>
<rect x="473.8" y="722.8" width="8.4" height="8.4" fill="#ff00ff"/>
<rect x="479.2" y="729.6" width="8.4" height="8.4" fill="#ff00ff"/>
<rect x="484.5" y="717.2" width="8.4" height="8.4" fill="#ff00ff"/>
<rect x="489.9" y="720.1" width="8.4" height="8.4" fill="#ff00ff"/>
<rect x="495.3" y="725.8" width="8.4" height="8.4" fill="#ff00ff"/>
<rect x="500.7" y="709.2" width="8.4" height="8.4" fill="#ff00ff"/>
<rect x="506.1" y="701" width="8.4" height="8.4" fill="#ff00ff"/>
<rect x="511.5" y="685.3" width="8.4" height="8.4" fill="#ff00ff"/>
<rect x="516.9" y="690" width="8.4" height="8.4" fill="#ff00ff"/>
<rect x="522.2" y="701" width="8.4" height="8.4" fill="#ff00ff"/>
<rect x="527.6" y="710.2" width="8.4" height="8.4" fill="#ff00ff"/>
<rect x="533" y="699.2" width="8.4" height="8.4" fill="#ff00ff"/>
<rect x="538.4" y="699.3" width="8.4" height="8.4" fill="#ff00ff"/>
<rect x="543.8" y="667.8" width="8.4" height="8.4" fill="#ff00ff"/>
<rect x="549.2" y="635.8" width="8.4" height="8.4" fill="#ff00ff"/>
<rect x="554.5" y="640.8" width="8.4" height="8.4" fill="#ff00ff"/>
<rect x="559.9" y="670.1" width="8.4" height="8.4" fill="#ff00ff"/>
<rect x="565.3" y="660.8" width="8.4" height="8.4" fill="#ff00ff"/>
<rect x="570.7" y="647.2" width="8.4" height="8.4" fill="#ff00ff"/>
<rect x="576.1" y="637.5" width="8.4" height="8.4" fill="#ff00ff"/>
<rect x="581.5" y="619.4" width="8.4" height="8.4" fill="#ff00ff"/>
<rect x="586.8" y="596.5" width="8.4" height="8.4" fill="#ff00ff"/>
<rect x="592.2" y="585.8" width="8.4" height="8.4" fill="#ff00ff"/>
<rect x="597.6" y="575.8" width="8.4" height="8.4" fill="#ff00ff"/>
<rect x="603" y="556.8" width="8.4" height="8.4" fill="#ff00ff"/>
<rect x="608.4" y="524.4" width="8.4" height="8.4" fill="#ff00ff"/>
<rect x="613.8" y="531.5" width="8.4" height="8.4" fill="#ff00ff"/>
<rect x="619.1" y="535.1" width="8.4" height="8.4" fill="#ff00ff"/>
<rect x="624.5" y="536.5" width="8.4" height="8.4" fill="#ff00ff"/>
<rect x="629.9" y="502.9" width="8.4" height="8.4" fill="#ff00ff"/>
<rect x="635.3" y="496.1" width="8.4" height="8.4" fill="#ff00ff"/>
<rect x="640.7" y="472.2" width="8.4" height="8.4" fill="#ff00ff"/>
<rect x="646.1" y="439.8" width="8.4" height="8.4" fill="#ff00ff"/>
<rect x="651.5" y="447.9" width="8.4" height="8.4" fill="#ff00ff"/>
<rect x="656.8" y="456.5" width="8.4" height="8.4" fill="#ff00ff"/>
<rect x="662.2" y="430.4" width="8.4" height="8.4" fill="#ff00ff"/>
<rect x="667.6" y="409.4" width="8.4" height="8.4" fill="#ff00ff"/>
<rect x="673" y="394.4" width="8.4" height="8.4" fill="#ff00ff"/>
<rect x="678.4" y="371.2" width="8.4" height="8.4" fill="#ff00ff"/>
<rect x="683.8" y="360.8" width="8.4" height="8.4" fill="#ff00ff"/>
<rect x="689.1" y="361.2" width="8.4" height="8.4" fill="#ff00ff"/>
<rect x="694.5" y="336.1" width="8.4" height="8.4" fill="#ff00ff"/>
<rect x="699.9" y="307.2" width="8.4" height="8.4" fill="#ff00ff"/>
<rect x="705.3" y="285.1" width="8.4" height="8.4" fill="#ff00ff"/>
<rect x="710.7" y="268.7" width="8.4" height="8.4" fill="#ff00ff"/>
<rect x="716.1" y="273.7" width="8.4" height="8.4" fill="#ff00ff"/>
<rect x="721.4" y="271.2" width="8.4" height="8.4" fill="#ff00ff"/>
<rect x="726.8" y="260.8" width="8.4" height="8.4" fill="#ff00ff"/>
<rect x="732.2" y="267.5" width="8.4" height="8.4" fill="#ff00ff"/>
<rect x="737.6" y="278.9" width="8.4" height="8.4" fill="#ff00ff"/>
<rect x="743" y="263.2" width="8.4" height="8.4" fill="#ff00ff"/>
<rect x="748.4" y="236.9" width="8.4" height="8.4" fill="#ff00ff"/>
<rect x="753.7" y="228.4" width="8.4" height="8.4" fill="#ff00ff"/>
<rect x="759.1" y="231.5" width="8.4" height="8.4" fill="#ff00ff"/>
<rect x="764.5" y="236.9" width="8.4" height="8.4" fill="#ff00ff"/>
<rect x="769.9" y="231.5" width="8.4" height="8.4" fill="#ff00ff"/>
<rect x="775.3" y="234.4" width="8.4" height="8.4" fill="#ff00ff"/>
<rect x="780.7" y="217.9" width="8.4" height="8.4" fill="#ff00ff"/>
<rect x="786.1" y="228.4" width="8.4" height="8.4" fill="#ff00ff"/>
<rect x="791.4" y="242.9" width="8.4" height="8.4" fill="#ff00ff"/>
<rect x="796.8" y="230.8" width="8.4" height="8.4" fill="#ff00ff"/>
<rect x="802.2" y="236.9" width="8.4" height="8.4" fill="#ff00ff"/>
<rect x="807.6" y="234.4" width="8.4" height="8.4" fill="#ff00ff"/>
<rect x="813" y="224.1" width="8.4" height="8.4" fill="#ff00ff"/>
<rect x="818.4" y="223.4" width="8.4" height="8.4" fill="#ff00ff"/>
<rect x="823.7" y="234.4" width="8.4" height="8.4" fill="#ff00ff"/>
<rect x="829.1" y="239.9" width="8.4" height="8.4" fill="#ff00ff"/>
<rect x="834.5" y="238.9" width="8.4" height="8.4" fill="#ff00ff"/>
<rect x="839.9" y="237.9" width="8.4" height="8.4" fill="#ff00ff"/>
<rect x="845.3" y="253.2" width="8.4" height="8.4" fill="#ff00ff"/>
<rect x="850.7" y="265.8" width="8.4" height="8.4" fill="#ff00ff"/>
<rect x="856" y="275.1" width="8.4" height="8.4" fill="#ff00ff"/>
<rect x="861.4" y="278.9" width="8.4" height="8.4" fill="#ff00ff"/>
<rect x="866.8" y="295.4" width="8.4" height="8.4" fill="#ff00ff"/>
<rect x="872.2" y="293.6" width="8.4" height="8.4" fill="#ff00ff"/>
<rect x="877.6" y="297.8" width="8.4" height="8.4" fill="#ff00ff"/>
<rect x="883" y="310.1" width="8.4" height="8.4" fill="#ff00ff"/>
<rect x="888.3" y="335.1" width="8.4" height="8.4" fill="#ff00ff"/>
<rect x="893.7" y="352.2" width="8.4" height="8.4" fill="#ff00ff"/>
<rect x="899.1" y="365.1" width="8.4" height="8.4" fill="#ff00ff"/>
<rect x="904.5" y="378.7" width="8.4" height="8.4" fill="#ff00ff"/>
<rect x="909.9" y="383.7" width="8.4" height="8.4" fill="#ff00ff"/>
<rect x="915.3" y="386.5" width="8.4" height="8.4" fill="#ff00ff"/>
<rect x="920.7" y="414.3" width="8.4" height="8.4" fill="#ff00ff"/>
<rect x="926" y="399.4" width="8.4" height="8.4" fill="#ff00ff"/>
<rect x="931.4" y="410.1" width="8.4" height="8.4" fill="#ff00ff"/>
<rect x="936.8" y="450.1" width="8.4" height="8.4" fill="#ff00ff"/>
<rect x="942.2" y="470.8" width="8.4" height="8.4" fill="#ff00ff"/>
<rect x="947.6" y="465.1" width="8.4" height="8.4" fill="#ff00ff"/>
<rect x="953" y="467.9" width="8.4" height="8.4" fill="#ff00ff"/>
<rect x="958.3" y="507.9" width="8.4" height="8.4" fill="#ff00ff"/>
<rect x="963.7" y="530.1" width="8.4" height="8.4" fill="#ff00ff"/>
<rect x="969.1" y="552.9" width="8.4" height="8.4" fill="#ff00ff"/>
<rect x="974.5" y="559.4" width="8.4" height="8.4" fill="#ff00ff"/>
<rect x="979.9" y="585.8" width="8.4" height="8.4" fill="#ff00ff"/>
<rect x="985.3" y="597.2" width="8.4" height="8.4" fill="#ff00ff"/>
<rect x="990.6" y="598.7" width="8.4" height="8.4" fill="#ff00ff"/>
<rect x="996" y="599.4" width="8.4" height="8.4" fill="#ff00ff"/>
<rect x="1001.4" y="598.7" width="8.4" height="8.4" fill="#ff00ff"/>
<rect x="1006.8" y="625.8" width="8.4" height="8.4" fill="#ff00ff"/>
<rect x="1012.2" y="635.8" width="8.4" height="8.4" fill="#ff00ff"/>
<rect x="1017.6" y="651.5" width="8.4" height="8.4" fill="#ff00ff"/>
<rect x="1022.9" y="663.8" width="8.4" height="8.4" fill="#ff00ff"/>
<rect x="1028.3" y="673.8" width="8.4" height="8.4" fill="#ff00ff"/>
<rect x="1033.7" y="684.5" width="8.4" height="8.4" fill="#ff00ff"/>
<rect x="1039.1" y="687.8" width="8.4" height="8.4" fill="#ff00ff"/>
<rect x="1044.5" y="710.1" width="8.4" height="8.4" fill="#ff00ff"/>
<rect x="1049.9" y="713.8" width="8.4" height="8.4" fill="#ff00ff"/>
<rect x="1055.3" y="707.8" width="8.4" height="8.4" fill="#ff00ff"/>
<rect x="1060.6" y="725.6" width="8.4" height="8.4" fill="#ff00ff"/>
<rect x="1066" y="711.3" width="8.4" height="8.4" fill="#ff00ff"/>
<rect x="1071.4" y="724.1" width="8.4" height="8.4" fill="#ff00ff"/>
<rect x="1076.8" y="726.5" width="8.4" height="8.4" fill="#ff00ff"/>
<rect x="1082.2" y="707.6" width="8.4" height="8.4" fill="#ff00ff"/>
<rect x="1087.6" y="721.2" width="8.4" height="8.4" fill="#ff00ff"/>
<rect x="1092.9" y="728.4" width="8.4" height="8.4" fill="#ff00ff"/>
<rect x="1098.3" y="726.2" width="8.4" height="8.4" fill="#ff00ff"/>
<rect x="1103.7" y="740" width="8.4" height="8.4" fill="#ff00ff"/>
<rect x="1109.1" y="749.3" width="8.4" height="8.4" fill="#ff00ff"/>
<rect x="1114.5" y="723.8" width="8.4" height="8.4" fill="#ff00ff"/>
<rect x="1119.9" y="737.3" width="8.4" height="8.4" fill="#ff00ff"/>
<rect x="1125.2" y="737.4" width="8.4" height="8.4" fill="#ff00ff"/>
<rect x="1130.6" y="726" width="8.4" height="8.4" fill="#ff00ff"/>
<rect x="1136" y="747.1" width="8.4" height="8.4" fill="#ff00ff"/>
<rect x="1141.4" y="729.2" width="8.4" height="8.4" fill="#ff00ff"/>
<rect x="1146.8" y="714.2" width="8.4" height="8.4" fill="#ff00ff"/>
<rect x="1152.2" y="706.2" width="8.4" height="8.4" fill="#ff00ff"/>
<rect x="1157.5" y="691.1" width="8.4" height="8.4" fill="#ff00ff"/>
<rect x="1162.9" y="697.2" width="8.4" height="8.4" fill="#ff00ff"/>
<rect x="1168.3" y="714.7" width="8.4" height="8.4" fill="#ff00ff"/>
<rect x="1173.7" y="715.4" width="8.4" height="8.4" fill="#ff00ff"/>
<rect x="1179.1" y="723.4" width="8.4" height="8.4" fill="#ff00ff"/>
<rect x="1184.5" y="728.2" width="8.4" height="8.4" fill="#ff00ff"/>
<rect x="1189.9" y="724.1" width="8.4" height="8.4" fill="#ff00ff"/>
<rect x="1195.2" y="723.1" width="8.4" height="8.4" fill="#ff00ff"/>
<rect x="1200.6" y="729" width="8.4" height="8.4" fill="#ff00ff"/>
<rect x="1206" y="730.5" width="8.4" height="8.4" fill="#ff00ff"/>
<rect x="1211.4" y="725.5" width="8.4" height="8.4" fill="#ff00ff"/>
<rect x="1216.8" y="726.1" width="8.4" height="8.4" fill="#ff00ff"/>
<rect x="1222.2" y="731.1" width="8.4" height="8.4" fill="#ff00ff"/>
<rect x="1227.5" y="736.5" width="8.4" height="8.4" fill="#ff00ff"/>
<rect x="1232.9" y="732.1" width="8.4" height="8.4" fill="#ff00ff"/>
<rect x="1238.3" y="724.6" width="8.4" height="8.4" fill="#ff00ff"/>
<rect x="1243.7" y="733.3" width="8.4" height="8.4" fill="#ff00ff"/>
<rect x="1249.1" y="721.4" width="8.4" height="8.4" fill="#ff00ff"/>
<rect x="1254.5" y="713.4" width="8.4" height="8.4" fill="#ff00ff"/>
<rect x="1259.8" y="725.9" width="8.4" height="8.4" fill="#ff00ff"/>
<rect x="1265.2" y="740" width="8.4" height="8.4" fill="#ff00ff"/>
<rect x="1270.6" y="747" width="8.4" height="8.4" fill="#ff00ff"/>
<rect x="1276" y="729" width="8.4" height="8.4" fill="#ff00ff"/>
<rect x="1281.4" y="720" width="8.4" height="8.4" fill="#ff00ff"/>
<rect x="1286.8" y="738" width="8.4" height="8.4" fill="#ff00ff"/>
<rect x="1292.1" y="740.1" width="8.4" height="8.4" fill="#ff00ff"/>
<rect x="1297.5" y="738.2" width="8.4" height="8.4" fill="#ff00ff"/>
<rect x="1302.9" y="720.1" width="8.4" height="8.4" fill="#ff00ff"/>
<rect x="1308.3" y="730.5" width="8.4" height="8.4" fill="#ff00ff"/>
<rect x="1313.7" y="750.1" width="8.4" height="8.4" fill="#ff00ff"/>
<rect x="1319.1" y="765.7" width="8.4" height="8.4" fill="#ff00ff"/>
<rect x="1324.5" y="761.7" width="8.4" height="8.4" fill="#ff00ff"/>
<rect x="1329.8" y="739.3" width="8.4" height="8.4" fill="#ff00ff"/>
<rect x="1335.2" y="707.6" width="8.4" height="8.4" fill="#ff00ff"/>
<rect x="1340.6" y="708.8" width="8.4" height="8.4" fill="#ff00ff"/>
<rect x="1346" y="740.7" width="8.4" height="8.4" fill="#ff00ff"/>
<rect x="1351.4" y="744.2" width="8.4" height="8.4" fill="#ff00ff"/>
<rect x="1356.8" y="728.4" width="8.4" height="8.4" fill="#ff00ff"/>
<rect x="1362.1" y="723" width="8.4" height="8.4" fill="#ff00ff"/>
</g>
<path d="M237.4 720.7L239.4 713M247.8 699.6L250.5 685.5M254.3 685.2L254.8 686.7M297.3 711.6L297.9 709.7M306.9 722.2L309.9 739.8M312.5 739.9L315 728.5M318.6 715L319.7 711.7M323.9 711.7L325.2 715.9M329.3 729.3L330.6 733.6M382.3 720.5L385.2 737.3M403.9 722.2L406.6 708.3M409.6 708.3L411.8 718M458 722.4L460.3 732.4M464.2 732.6L464.9 730.7M496.6 733.1L497 734.3M501.6 734.2L502.8 730.7M506.3 717.1L508.9 704.9M533.3 704.9L535.7 694.1M545 677.1L545.6 675.6M548.8 662L552.6 628M555.6 627.6L556.5 630M559.9 643.5L563 661.7M571.6 653.3L572.8 649.6M581.6 623.1L584.3 609M592.4 597.4L595.1 583.3M598.6 569.7L599.7 566.3M603.4 552.8L605.6 543.9M608.5 530.2L611.3 514.8M625.4 509L626.7 504.6M635.7 479.6L637.9 470.4M640.7 456.7L643.7 439M646.4 425.3L648.7 414.7M662.6 403.2L664.9 392.5M668.5 379L669.7 375.3M678.4 353.8L681.3 337.6M694.7 310.5L697.4 296.2M700.5 282.5L702.3 276.1M705.2 262.4L708.4 241.5M727.6 217.6L729.1 212.1M749.7 196.1L750.1 195.1M754.2 181.8L756.3 173.7M787 167.2L788.1 170.4M808.1 181.1L810.1 173.2M841.1 182.1L841.7 183.4M845.3 196.9L848.3 214.8M851.7 215.1L852.6 212.3M862 214.7L863.9 222.1M867 235.8L869.7 249.5M883.4 257.5L885.5 266.1M889.1 279.6L890.7 285.4M894.9 298.7L895.6 300.5M899.5 313.9L901.7 323.5M904.9 337.1L907.1 346.8M920.6 360L923.7 378.5M937.3 392.9L939.3 401.1M942.1 414.8L945.3 435.6M958 443.7L961.7 475.1M963.7 489L966.8 508.1M969.4 521.8L971.8 532.7M975.1 546.3L976.9 553.2M985.5 578.3L988.1 591M1002.5 608.7L1003.4 611.3M1012.6 630.8L1014.7 639.6M1034.2 668.2L1036.3 677.2M1045.7 703.6L1046.3 705.4M1061.4 715.7L1062.9 720.9M1072.4 722.4L1073.4 725.4M1114.7 744.6L1117.3 731.2M1120.8 731L1121.9 734.2M1137.2 740L1137.8 741.8M1142 741.6L1143.8 734.7M1158.4 703.1L1159.7 698.9M1191 728.5L1191.7 726.6M1250.3 732L1250.9 730.4M1271.5 747.7L1272.8 751.9M1276.1 751.7L1278.9 737.6M1288 729.4L1288.6 730.9M1303.1 735.9L1305.7 723.3M1314.3 735.1L1316.1 742.1M1319.9 755.5L1321.2 759.6M1335.1 737.8L1338.4 716.5M1346 714.7L1349 731.2M1357.3 743.1L1359.2 736.1" stroke="#00ff00" stroke-width="0.85" fill="none"/>
<g>
<polygon points="235.7,721.7 237.2,725.6 241.3,725.8 238.1,728.4 239.2,732.4 235.7,730.1 232.2,732.4 233.3,728.4 230.1,725.8 234.2,725.6" fill="#00ff00"/>
<polygon points="241.1,700.5 242.6,704.3 246.7,704.5 243.5,707.1 244.6,711.1 241.1,708.9 237.6,711.1 238.7,707.1 235.5,704.5 239.6,704.3" fill="#00ff00"/>
<polygon points="246.5,700.7 247.9,704.5 252.1,704.7 248.8,707.3 249.9,711.3 246.5,709.1 243,711.3 244.1,707.3 240.9,704.7 245,704.5" fill="#00ff00"/>
<polygon points="251.9,672.9 253.3,676.7 257.5,676.9 254.2,679.5 255.3,683.5 251.9,681.3 248.4,683.5 249.5,679.5 246.2,676.9 250.4,676.7" fill="#00ff00"/>
<polygon points="257.2,687.5 258.7,691.4 262.8,691.6 259.6,694.2 260.7,698.2 257.2,695.9 253.8,698.2 254.9,694.2 251.6,691.6 255.8,691.4" fill="#00ff00"/>
<polygon points="262.6,699.3 264.1,703.2 268.2,703.4 265,706 266.1,710 262.6,707.7 259.2,710 260.2,706 257,703.4 261.2,703.2" fill="#00ff00"/>
<polygon points="268,712.3 269.5,716.2 273.6,716.4 270.4,719 271.5,723 268,720.7 264.5,723 265.6,719 262.4,716.4 266.5,716.2" fill="#00ff00"/>
<polygon points="273.4,717.2 274.9,721 279,721.2 275.8,723.8 276.9,727.8 273.4,725.6 269.9,727.8 271,723.8 267.8,721.2 271.9,721" fill="#00ff00"/>
<polygon points="278.8,729.3 280.2,733.2 284.4,733.4 281.1,736 282.2,740 278.8,737.7 275.3,740 276.4,736 273.2,733.4 277.3,733.2" fill="#00ff00"/>
<polygon points="284.2,718.7 285.6,722.6 289.8,722.8 286.5,725.4 287.6,729.4 284.2,727.1 280.7,729.4 281.8,725.4 278.5,722.8 282.7,722.6" fill="#00ff00"/>
<polygon points="289.5,720.5 291,724.4 295.2,724.6 291.9,727.1 293,731.1 289.5,728.9 286.1,731.1 287.2,727.1 283.9,724.6 288.1,724.4" fill="#00ff00"/>
<polygon points="294.9,712.4 296.4,716.2 300.5,716.4 297.3,719 298.4,723 294.9,720.8 291.5,723 292.5,719 289.3,716.4 293.5,716.2" fill="#00ff00"/>
<polygon points="300.3,697.3 301.8,701.2 305.9,701.4 302.7,704 303.8,708 300.3,705.7 296.8,708 297.9,704 294.7,701.4 298.8,701.2" fill="#00ff00"/>
<polygon points="305.7,709.5 307.2,713.4 311.3,713.6 308.1,716.2 309.2,720.2 305.7,717.9 302.2,720.2 303.3,716.2 300.1,713.6 304.2,713.4" fill="#00ff00"/>
<polygon points="311.1,740.9 312.5,744.8 316.7,745 313.5,747.6 314.5,751.6 311.1,749.3 307.6,751.6 308.7,747.6 305.5,745 309.6,744.8" fill="#00ff00"/>
<polygon points="316.5,715.9 317.9,719.8 322.1,720 318.8,722.6 319.9,726.6 316.5,724.3 313,726.6 314.1,722.6 310.8,720 315,719.8" fill="#00ff00"/>
<polygon points="321.8,699.3 323.3,703.1 327.5,703.3 324.2,705.9 325.3,709.9 321.8,707.7 318.4,709.9 319.5,705.9 316.2,703.3 320.4,703.1" fill="#00ff00"/>
<polygon points="327.2,716.8 328.7,720.7 332.8,720.9 329.6,723.5 330.7,727.5 327.2,725.2 323.8,727.5 324.9,723.5 321.6,720.9 325.8,720.7" fill="#00ff00"/>
<polygon points="332.6,734.5 334.1,738.4 338.2,738.6 335,741.2 336.1,745.2 332.6,742.9 329.1,745.2 330.2,741.2 327,738.6 331.1,738.4" fill="#00ff00"/>
<polygon points="338,727 339.5,730.9 343.6,731.1 340.4,733.7 341.5,737.7 338,735.4 334.5,737.7 335.6,733.7 332.4,731.1 336.5,730.9" fill="#00ff00"/>
<polygon points="343.4,720.1 344.8,723.9 349,724.1 345.8,726.7 346.8,730.7 343.4,728.5 339.9,730.7 341,726.7 337.8,724.1 341.9,723.9" fill="#00ff00"/>
<polygon points="348.8,717.2 350.2,721.1 354.4,721.3 351.1,723.9 352.2,727.9 348.8,725.6 345.3,727.9 346.4,723.9 343.2,721.3 347.3,721.1" fill="#00ff00"/>
<polygon points="354.1,724.4 355.6,728.2 359.8,728.4 356.5,731 357.6,735 354.1,732.8 350.7,735 351.8,731 348.5,728.4 352.7,728.2" fill="#00ff00"/>
<polygon points="359.5,710.6 361,714.5 365.1,714.7 361.9,717.3 363,721.3 359.5,719 356.1,721.3 357.2,717.3 353.9,714.7 358.1,714.5" fill="#00ff00"/>
<polygon points="364.9,705.2 366.4,709 370.5,709.2 367.3,711.8 368.4,715.8 364.9,713.6 361.4,715.8 362.5,711.8 359.3,709.2 363.4,709" fill="#00ff00"/>
<polygon points="370.3,711.1 371.8,715 375.9,715.2 372.7,717.8 373.8,721.8 370.3,719.5 366.8,721.8 367.9,717.8 364.7,715.2 368.8,715" fill="#00ff00"/>
<polygon points="375.7,720.3 377.2,724.2 381.3,724.4 378.1,727 379.2,731 375.7,728.7 372.2,731 373.3,727 370.1,724.4 374.2,724.2" fill="#00ff00"/>
<polygon points="381.1,707.8 382.5,711.7 386.7,711.9 383.4,714.5 384.5,718.5 381.1,716.2 377.6,718.5 378.7,714.5 375.5,711.9 379.6,711.7" fill="#00ff00"/>
<polygon points="386.5,738.4 387.9,742.2 392.1,742.4 388.8,745 389.9,749 386.5,746.8 383,749 384.1,745 380.8,742.4 385,742.2" fill="#00ff00"/>
<polygon points="391.8,733.7 393.3,737.6 397.4,737.8 394.2,740.4 395.3,744.4 391.8,742.1 388.4,744.4 389.5,740.4 386.2,737.8 390.4,737.6" fill="#00ff00"/>
<polygon points="397.2,726.4 398.7,730.2 402.8,730.4 399.6,733 400.7,737 397.2,734.8 393.8,737 394.8,733 391.6,730.4 395.8,730.2" fill="#00ff00"/>
<polygon points="402.6,723.3 404.1,727.2 408.2,727.4 405,730 406.1,734 402.6,731.7 399.1,734 400.2,730 397,727.4 401.1,727.2" fill="#00ff00"/>
<polygon points="408,695.7 409.5,699.5 413.6,699.7 410.4,702.3 411.5,706.3 408,704.1 404.5,706.3 405.6,702.3 402.4,699.7 406.5,699.5" fill="#00ff00"/>
<polygon points="413.4,719 414.8,722.9 419,723.1 415.7,725.7 416.8,729.7 413.4,727.4 409.9,729.7 411,725.7 407.8,723.1 411.9,722.9" fill="#00ff00"/>
<polygon points="418.8,720.1 420.2,724 424.4,724.2 421.1,726.8 422.2,730.8 418.8,728.5 415.3,730.8 416.4,726.8 413.1,724.2 417.3,724" fill="#00ff00"/>
<polygon points="424.1,714.8 425.6,718.7 429.8,718.9 426.5,721.5 427.6,725.5 424.1,723.2 420.7,725.5 421.8,721.5 418.5,718.9 422.7,718.7" fill="#00ff00"/>
<polygon points="429.5,709.1 431,713 435.1,713.2 431.9,715.8 433,719.8 429.5,717.5 426.1,719.8 427.1,715.8 423.9,713.2 428.1,713" fill="#00ff00"/>
<polygon points="434.9,695.9 436.4,699.8 440.5,700 437.3,702.6 438.4,706.6 434.9,704.3 431.4,706.6 432.5,702.6 429.3,700 433.4,699.8" fill="#00ff00"/>
<polygon points="440.3,687.1 441.8,690.9 445.9,691.1 442.7,693.7 443.8,697.7 440.3,695.5 436.8,697.7 437.9,693.7 434.7,691.1 438.8,690.9" fill="#00ff00"/>
<polygon points="445.7,698.8 447.1,702.7 451.3,702.9 448.1,705.5 449.1,709.5 445.7,707.2 442.2,709.5 443.3,705.5 440.1,702.9 444.2,702.7" fill="#00ff00"/>
<polygon points="451.1,702.1 452.5,706 456.7,706.2 453.4,708.8 454.5,712.8 451.1,710.5 447.6,712.8 448.7,708.8 445.4,706.2 449.6,706" fill="#00ff00"/>
<polygon points="456.4,709.8 457.9,713.6 462.1,713.8 458.8,716.4 459.9,720.4 456.4,718.2 453,720.4 454.1,716.4 450.8,713.8 455,713.6" fill="#00ff00"/>
<polygon points="461.8,733.4 463.3,737.3 467.4,737.5 464.2,740.1 465.3,744.1 461.8,741.8 458.4,744.1 459.5,740.1 456.2,737.5 460.4,737.3" fill="#00ff00"/>
<polygon points="467.2,718.4 468.7,722.2 472.8,722.4 469.6,725 470.7,729 467.2,726.8 463.7,729 464.8,725 461.6,722.4 465.7,722.2" fill="#00ff00"/>
<polygon points="472.6,717.5 474.1,721.3 478.2,721.5 475,724.1 476.1,728.1 472.6,725.9 469.1,728.1 470.2,724.1 467,721.5 471.1,721.3" fill="#00ff00"/>
<polygon points="478,725.6 479.4,729.5 483.6,729.7 480.4,732.3 481.4,736.3 478,734 474.5,736.3 475.6,732.3 472.4,729.7 476.5,729.5" fill="#00ff00"/>
<polygon points="483.4,728.2 484.8,732 489,732.2 485.7,734.8 486.8,738.8 483.4,736.6 479.9,738.8 481,734.8 477.8,732.2 481.9,732" fill="#00ff00"/>
<polygon points="488.7,715.5 490.2,719.4 494.4,719.6 491.1,722.2 492.2,726.2 488.7,723.9 485.3,726.2 486.4,722.2 483.1,719.6 487.3,719.4" fill="#00ff00"/>
<polygon points="494.1,720.8 495.6,724.7 499.7,724.9 496.5,727.5 497.6,731.5 494.1,729.2 490.7,731.5 491.8,727.5 488.5,724.9 492.7,724.7" fill="#00ff00"/>
<polygon points="499.5,735 501,738.9 505.1,739.1 501.9,741.7 503,745.7 499.5,743.4 496,745.7 497.1,741.7 493.9,739.1 498,738.9" fill="#00ff00"/>
<polygon points="504.9,718.2 506.4,722.1 510.5,722.3 507.3,724.9 508.4,728.9 504.9,726.6 501.4,728.9 502.5,724.9 499.3,722.3 503.4,722.1" fill="#00ff00"/>
<polygon points="510.3,692.2 511.8,696.1 515.9,696.3 512.7,698.9 513.8,702.9 510.3,700.6 506.8,702.9 507.9,698.9 504.7,696.3 508.8,696.1" fill="#00ff00"/>
<polygon points="515.7,691.2 517.1,695.1 521.3,695.3 518,697.9 519.1,701.9 515.7,699.6 512.2,701.9 513.3,697.9 510.1,695.3 514.2,695.1" fill="#00ff00"/>
<polygon points="521.1,692.4 522.5,696.3 526.7,696.5 523.4,699.1 524.5,703.1 521.1,700.8 517.6,703.1 518.7,699.1 515.4,696.5 519.6,696.3" fill="#00ff00"/>
<polygon points="526.4,703.5 527.9,707.4 532,707.6 528.8,710.2 529.9,714.2 526.4,711.9 523,714.2 524.1,710.2 520.8,707.6 525,707.4" fill="#00ff00"/>
<polygon points="531.8,705.9 533.3,709.8 537.4,710 534.2,712.6 535.3,716.6 531.8,714.3 528.4,716.6 529.4,712.6 526.2,710 530.4,709.8" fill="#00ff00"/>
<polygon points="537.2,681.5 538.7,685.4 542.8,685.6 539.6,688.2 540.7,692.2 537.2,689.9 533.7,692.2 534.8,688.2 531.6,685.6 535.7,685.4" fill="#00ff00"/>
<polygon points="542.6,677.9 544.1,681.8 548.2,682 545,684.6 546.1,688.6 542.6,686.3 539.1,688.6 540.2,684.6 537,682 541.1,681.8" fill="#00ff00"/>
<polygon points="548,663.2 549.4,667.1 553.6,667.3 550.3,669.9 551.4,673.9 548,671.6 544.5,673.9 545.6,669.9 542.4,667.3 546.5,667.1" fill="#00ff00"/>
<polygon points="553.4,615.2 554.8,619.1 559,619.3 555.7,621.9 556.8,625.9 553.4,623.6 549.9,625.9 551,621.9 547.7,619.3 551.9,619.1" fill="#00ff00"/>
<polygon points="558.7,630.8 560.2,634.7 564.4,634.9 561.1,637.5 562.2,641.5 558.7,639.2 555.3,641.5 556.4,637.5 553.1,634.9 557.3,634.7" fill="#00ff00"/>
<polygon points="564.1,662.8 565.6,666.7 569.7,666.9 566.5,669.5 567.6,673.5 564.1,671.2 560.7,673.5 561.7,669.5 558.5,666.9 562.7,666.7" fill="#00ff00"/>
<polygon points="569.5,654.2 571,658.1 575.1,658.3 571.9,660.9 573,664.9 569.5,662.6 566,664.9 567.1,660.9 563.9,658.3 568,658.1" fill="#00ff00"/>
<polygon points="574.9,637.1 576.4,641 580.5,641.2 577.3,643.8 578.4,647.8 574.9,645.5 571.4,647.8 572.5,643.8 569.3,641.2 573.4,641" fill="#00ff00"/>
<polygon points="580.3,624.2 581.7,628.1 585.9,628.3 582.7,630.9 583.7,634.9 580.3,632.6 576.8,634.9 577.9,630.9 574.7,628.3 578.8,628.1" fill="#00ff00"/>
<polygon points="585.7,596.3 587.1,600.2 591.3,600.4 588,603 589.1,607 585.7,604.7 582.2,607 583.3,603 580,600.4 584.2,600.2" fill="#00ff00"/>
<polygon points="591,598.5 592.5,602.4 596.7,602.6 593.4,605.2 594.5,609.2 591,606.9 587.6,609.2 588.7,605.2 585.4,602.6 589.6,602.4" fill="#00ff00"/>
<polygon points="596.4,570.6 597.9,574.5 602,574.7 598.8,577.3 599.9,581.3 596.4,579 593,581.3 594.1,577.3 590.8,574.7 595,574.5" fill="#00ff00"/>
<polygon points="601.8,553.8 603.3,557.7 607.4,557.9 604.2,560.5 605.3,564.5 601.8,562.2 598.3,564.5 599.4,560.5 596.2,557.9 600.3,557.7" fill="#00ff00"/>
<polygon points="607.2,531.3 608.7,535.2 612.8,535.4 609.6,538 610.7,542 607.2,539.7 603.7,542 604.8,538 601.6,535.4 605.7,535.2" fill="#00ff00"/>
<polygon points="612.6,502.1 614,506 618.2,506.2 615,508.8 616,512.8 612.6,510.5 609.1,512.8 610.2,508.8 607,506.2 611.1,506" fill="#00ff00"/>
<polygon points="618,509.9 619.4,513.8 623.6,514 620.3,516.6 621.4,520.6 618,518.3 614.5,520.6 615.6,516.6 612.4,514 616.5,513.8" fill="#00ff00"/>
<polygon points="623.3,509.9 624.8,513.8 629,514 625.7,516.6 626.8,520.6 623.3,518.3 619.9,520.6 621,516.6 617.7,514 621.9,513.8" fill="#00ff00"/>
<polygon points="628.7,492.1 630.2,496 634.3,496.2 631.1,498.8 632.2,502.8 628.7,500.5 625.3,502.8 626.4,498.8 623.1,496.2 627.3,496" fill="#00ff00"/>
<polygon points="634.1,480.6 635.6,484.5 639.7,484.7 636.5,487.3 637.6,491.3 634.1,489 630.6,491.3 631.7,487.3 628.5,484.7 632.6,484.5" fill="#00ff00"/>
<polygon points="639.5,457.8 641,461.7 645.1,461.9 641.9,464.5 643,468.5 639.5,466.2 636,468.5 637.1,464.5 633.9,461.9 638,461.7" fill="#00ff00"/>
<polygon points="644.9,426.3 646.4,430.2 650.5,430.4 647.3,433 648.4,437 644.9,434.7 641.4,437 642.5,433 639.3,430.4 643.4,430.2" fill="#00ff00"/>
<polygon points="650.3,402.1 651.7,406 655.9,406.2 652.6,408.8 653.7,412.8 650.3,410.5 646.8,412.8 647.9,408.8 644.7,406.2 648.8,406" fill="#00ff00"/>
<polygon points="655.7,412.8 657.1,416.7 661.3,416.9 658,419.5 659.1,423.5 655.7,421.2 652.2,423.5 653.3,419.5 650,416.9 654.2,416.7" fill="#00ff00"/>
<polygon points="661,404.2 662.5,408.1 666.6,408.3 663.4,410.9 664.5,414.9 661,412.6 657.6,414.9 658.7,410.9 655.4,408.3 659.6,408.1" fill="#00ff00"/>
<polygon points="666.4,379.9 667.9,383.8 672,384 668.8,386.6 669.9,390.6 666.4,388.3 663,390.6 664,386.6 660.8,384 665,383.8" fill="#00ff00"/>
<polygon points="671.8,362.8 673.3,366.7 677.4,366.9 674.2,369.5 675.3,373.5 671.8,371.2 668.3,373.5 669.4,369.5 666.2,366.9 670.3,366.7" fill="#00ff00"/>
<polygon points="677.2,354.9 678.7,358.8 682.8,359 679.6,361.6 680.7,365.6 677.2,363.3 673.7,365.6 674.8,361.6 671.6,359 675.7,358.8" fill="#00ff00"/>
<polygon points="682.6,324.9 684,328.8 688.2,329 684.9,331.6 686,335.6 682.6,333.3 679.1,335.6 680.2,331.6 677,329 681.1,328.8" fill="#00ff00"/>
<polygon points="688,312.1 689.4,316 693.6,316.2 690.3,318.8 691.4,322.8 688,320.5 684.5,322.8 685.6,318.8 682.3,316.2 686.5,316" fill="#00ff00"/>
<polygon points="693.3,311.6 694.8,315.5 699,315.7 695.7,318.3 696.8,322.3 693.3,320 689.9,322.3 691,318.3 687.7,315.7 691.9,315.5" fill="#00ff00"/>
<polygon points="698.7,283.5 700.2,287.4 704.3,287.6 701.1,290.2 702.2,294.2 698.7,291.9 695.3,294.2 696.3,290.2 693.1,287.6 697.3,287.4" fill="#00ff00"/>
<polygon points="704.1,263.5 705.6,267.4 709.7,267.6 706.5,270.2 707.6,274.2 704.1,271.9 700.6,274.2 701.7,270.2 698.5,267.6 702.6,267.4" fill="#00ff00"/>
<polygon points="709.5,228.8 711,232.7 715.1,232.9 711.9,235.5 713,239.5 709.5,237.2 706,239.5 707.1,235.5 703.9,232.9 708,232.7" fill="#00ff00"/>
<polygon points="714.9,221.1 716.3,225 720.5,225.2 717.3,227.8 718.3,231.8 714.9,229.5 711.4,231.8 712.5,227.8 709.3,225.2 713.4,225" fill="#00ff00"/>
<polygon points="720.3,227.1 721.7,231 725.9,231.2 722.6,233.8 723.7,237.8 720.3,235.5 716.8,237.8 717.9,233.8 714.6,231.2 718.8,231" fill="#00ff00"/>
<polygon points="725.6,218.5 727.1,222.4 731.3,222.6 728,225.2 729.1,229.2 725.6,226.9 722.2,229.2 723.3,225.2 720,222.6 724.2,222.4" fill="#00ff00"/>
<polygon points="731,199.6 732.5,203.5 736.6,203.7 733.4,206.3 734.5,210.3 731,208 727.6,210.3 728.7,206.3 725.4,203.7 729.6,203.5" fill="#00ff00"/>
<polygon points="736.4,204.9 737.9,208.8 742,209 738.8,211.6 739.9,215.6 736.4,213.3 732.9,215.6 734,211.6 730.8,209 734.9,208.8" fill="#00ff00"/>
<polygon points="741.8,207.8 743.3,211.7 747.4,211.9 744.2,214.5 745.3,218.5 741.8,216.2 738.3,218.5 739.4,214.5 736.2,211.9 740.3,211.7" fill="#00ff00"/>
<polygon points="747.2,196.8 748.6,200.7 752.8,200.9 749.6,203.5 750.6,207.5 747.2,205.2 743.7,207.5 744.8,203.5 741.6,200.9 745.7,200.7" fill="#00ff00"/>
<polygon points="752.6,182.8 754,186.7 758.2,186.9 754.9,189.5 756,193.5 752.6,191.2 749.1,193.5 750.2,189.5 747,186.9 751.1,186.7" fill="#00ff00"/>
<polygon points="757.9,161.1 759.4,165 763.6,165.2 760.3,167.8 761.4,171.8 757.9,169.5 754.5,171.8 755.6,167.8 752.3,165.2 756.5,165" fill="#00ff00"/>
<polygon points="763.3,161.6 764.8,165.5 768.9,165.7 765.7,168.3 766.8,172.3 763.3,170 759.9,172.3 761,168.3 757.7,165.7 761.9,165.5" fill="#00ff00"/>
<polygon points="768.7,161.1 770.2,165 774.3,165.2 771.1,167.8 772.2,171.8 768.7,169.5 765.2,171.8 766.3,167.8 763.1,165.2 767.2,165" fill="#00ff00"/>
<polygon points="774.1,166.8 775.6,170.7 779.7,170.9 776.5,173.5 777.6,177.5 774.1,175.2 770.6,177.5 771.7,173.5 768.5,170.9 772.6,170.7" fill="#00ff00"/>
<polygon points="779.5,166.8 781,170.7 785.1,170.9 781.9,173.5 783,177.5 779.5,175.2 776,177.5 777.1,173.5 773.9,170.9 778,170.7" fill="#00ff00"/>
<polygon points="784.9,154.7 786.3,158.6 790.5,158.8 787.2,161.4 788.3,165.4 784.9,163.1 781.4,165.4 782.5,161.4 779.3,158.8 783.4,158.6" fill="#00ff00"/>
<polygon points="790.3,171.3 791.7,175.2 795.9,175.4 792.6,178 793.7,182 790.3,179.7 786.8,182 787.9,178 784.6,175.4 788.8,175.2" fill="#00ff00"/>
<polygon points="795.6,174.2 797.1,178.1 801.2,178.3 798,180.9 799.1,184.9 795.6,182.6 792.2,184.9 793.3,180.9 790,178.3 794.2,178.1" fill="#00ff00"/>
<polygon points="801,176.3 802.5,180.2 806.6,180.4 803.4,183 804.5,187 801,184.7 797.6,187 798.6,183 795.4,180.4 799.6,180.2" fill="#00ff00"/>
<polygon points="806.4,182.1 807.9,186 812,186.2 808.8,188.8 809.9,192.8 806.4,190.5 802.9,192.8 804,188.8 800.8,186.2 804.9,186" fill="#00ff00"/>
<polygon points="811.8,160.6 813.3,164.5 817.4,164.7 814.2,167.3 815.3,171.3 811.8,169 808.3,171.3 809.4,167.3 806.2,164.7 810.3,164.5" fill="#00ff00"/>
<polygon points="817.2,164.9 818.6,168.8 822.8,169 819.5,171.6 820.6,175.6 817.2,173.3 813.7,175.6 814.8,171.6 811.6,169 815.7,168.8" fill="#00ff00"/>
<polygon points="822.6,167.8 824,171.7 828.2,171.9 824.9,174.5 826,178.5 822.6,176.2 819.1,178.5 820.2,174.5 816.9,171.9 821.1,171.7" fill="#00ff00"/>
<polygon points="827.9,177.1 829.4,181 833.6,181.2 830.3,183.8 831.4,187.8 827.9,185.5 824.5,187.8 825.6,183.8 822.3,181.2 826.5,181" fill="#00ff00"/>
<polygon points="833.3,178.2 834.8,182.1 838.9,182.3 835.7,184.9 836.8,188.9 833.3,186.6 829.9,188.9 830.9,184.9 827.7,182.3 831.9,182.1" fill="#00ff00"/>
<polygon points="838.7,169.7 840.2,173.6 844.3,173.8 841.1,176.4 842.2,180.4 838.7,178.1 835.2,180.4 836.3,176.4 833.1,173.8 837.2,173.6" fill="#00ff00"/>
<polygon points="844.1,184.2 845.6,188.1 849.7,188.3 846.5,190.9 847.6,194.9 844.1,192.6 840.6,194.9 841.7,190.9 838.5,188.3 842.6,188.1" fill="#00ff00"/>
<polygon points="849.5,215.9 850.9,219.8 855.1,220 851.9,222.6 852.9,226.6 849.5,224.3 846,226.6 847.1,222.6 843.9,220 848,219.8" fill="#00ff00"/>
<polygon points="854.9,199.9 856.3,203.8 860.5,204 857.2,206.6 858.3,210.6 854.9,208.3 851.4,210.6 852.5,206.6 849.2,204 853.4,203.8" fill="#00ff00"/>
<polygon points="860.2,202.1 861.7,206 865.9,206.2 862.6,208.8 863.7,212.8 860.2,210.5 856.8,212.8 857.9,208.8 854.6,206.2 858.8,206" fill="#00ff00"/>
<polygon points="865.6,223.1 867.1,227 871.2,227.2 868,229.8 869.1,233.8 865.6,231.5 862.2,233.8 863.3,229.8 860,227.2 864.2,227" fill="#00ff00"/>
<polygon points="871,250.6 872.5,254.5 876.6,254.7 873.4,257.3 874.5,261.3 871,259 867.5,261.3 868.6,257.3 865.4,254.7 869.5,254.5" fill="#00ff00"/>
<polygon points="876.4,245.6 877.9,249.5 882,249.7 878.8,252.3 879.9,256.3 876.4,254 872.9,256.3 874,252.3 870.8,249.7 874.9,249.5" fill="#00ff00"/>
<polygon points="881.8,244.9 883.2,248.8 887.4,249 884.2,251.6 885.2,255.6 881.8,253.3 878.3,255.6 879.4,251.6 876.2,249 880.3,248.8" fill="#00ff00"/>
<polygon points="887.2,267.1 888.6,271 892.8,271.2 889.5,273.8 890.6,277.8 887.2,275.5 883.7,277.8 884.8,273.8 881.6,271.2 885.7,271" fill="#00ff00"/>
<polygon points="892.5,286.3 894,290.2 898.2,290.4 894.9,293 896,297 892.5,294.7 889.1,297 890.2,293 886.9,290.4 891.1,290.2" fill="#00ff00"/>
<polygon points="897.9,301.3 899.4,305.2 903.5,305.4 900.3,308 901.4,312 897.9,309.7 894.5,312 895.6,308 892.3,305.4 896.5,305.2" fill="#00ff00"/>
<polygon points="903.3,324.5 904.8,328.4 908.9,328.6 905.7,331.2 906.8,335.2 903.3,332.9 899.8,335.2 900.9,331.2 897.7,328.6 901.8,328.4" fill="#00ff00"/>
<polygon points="908.7,347.8 910.2,351.7 914.3,351.9 911.1,354.5 912.2,358.5 908.7,356.2 905.2,358.5 906.3,354.5 903.1,351.9 907.2,351.7" fill="#00ff00"/>
<polygon points="914.1,339.9 915.6,343.8 919.7,344 916.5,346.6 917.6,350.6 914.1,348.3 910.6,350.6 911.7,346.6 908.5,344 912.6,343.8" fill="#00ff00"/>
<polygon points="919.5,347.3 920.9,351.2 925.1,351.4 921.8,354 922.9,358 919.5,355.7 916,358 917.1,354 913.9,351.4 918,351.2" fill="#00ff00"/>
<polygon points="924.9,379.6 926.3,383.5 930.5,383.7 927.2,386.3 928.3,390.3 924.9,388 921.4,390.3 922.5,386.3 919.2,383.7 923.4,383.5" fill="#00ff00"/>
<polygon points="930.2,379.6 931.7,383.5 935.8,383.7 932.6,386.3 933.7,390.3 930.2,388 926.8,390.3 927.9,386.3 924.6,383.7 928.8,383.5" fill="#00ff00"/>
<polygon points="935.6,380.3 937.1,384.2 941.2,384.4 938,387 939.1,391 935.6,388.7 932.2,391 933.2,387 930,384.4 934.2,384.2" fill="#00ff00"/>
<polygon points="941,402.1 942.5,406 946.6,406.2 943.4,408.8 944.5,412.8 941,410.5 937.5,412.8 938.6,408.8 935.4,406.2 939.5,406" fill="#00ff00"/>
<polygon points="946.4,436.7 947.9,440.6 952,440.8 948.8,443.4 949.9,447.4 946.4,445.1 942.9,447.4 944,443.4 940.8,440.8 944.9,440.6" fill="#00ff00"/>
<polygon points="951.8,435.6 953.2,439.5 957.4,439.7 954.1,442.3 955.2,446.3 951.8,444 948.3,446.3 949.4,442.3 946.2,439.7 950.3,439.5" fill="#00ff00"/>
<polygon points="957.2,430.9 958.6,434.8 962.8,435 959.5,437.6 960.6,441.6 957.2,439.3 953.7,441.6 954.8,437.6 951.5,435 955.7,434.8" fill="#00ff00"/>
<polygon points="962.5,476.3 964,480.2 968.2,480.4 964.9,483 966,487 962.5,484.7 959.1,487 960.2,483 956.9,480.4 961.1,480.2" fill="#00ff00"/>
<polygon points="967.9,509.2 969.4,513.1 973.5,513.3 970.3,515.9 971.4,519.9 967.9,517.6 964.5,519.9 965.5,515.9 962.3,513.3 966.5,513.1" fill="#00ff00"/>
<polygon points="973.3,533.7 974.8,537.6 978.9,537.8 975.7,540.4 976.8,544.4 973.3,542.1 969.8,544.4 970.9,540.4 967.7,537.8 971.8,537.6" fill="#00ff00"/>
<polygon points="978.7,554.2 980.2,558.1 984.3,558.3 981.1,560.9 982.2,564.9 978.7,562.6 975.2,564.9 976.3,560.9 973.1,558.3 977.2,558.1" fill="#00ff00"/>
<polygon points="984.1,565.6 985.5,569.5 989.7,569.7 986.5,572.3 987.5,576.3 984.1,574 980.6,576.3 981.7,572.3 978.5,569.7 982.6,569.5" fill="#00ff00"/>
<polygon points="989.5,592.1 990.9,596 995.1,596.2 991.8,598.8 992.9,602.8 989.5,600.5 986,602.8 987.1,598.8 983.8,596.2 988,596" fill="#00ff00"/>
<polygon points="994.8,592.1 996.3,596 1000.5,596.2 997.2,598.8 998.3,602.8 994.8,600.5 991.4,602.8 992.5,598.8 989.2,596.2 993.4,596" fill="#00ff00"/>
<polygon points="1000.2,596.3 1001.7,600.2 1005.8,600.4 1002.6,603 1003.7,607 1000.2,604.7 996.8,607 997.9,603 994.6,600.4 998.8,600.2" fill="#00ff00"/>
<polygon points="1005.6,612.1 1007.1,616 1011.2,616.2 1008,618.8 1009.1,622.8 1005.6,620.5 1002.1,622.8 1003.2,618.8 1000,616.2 1004.1,616" fill="#00ff00"/>
<polygon points="1011,618.2 1012.5,622.1 1016.6,622.3 1013.4,624.9 1014.5,628.9 1011,626.6 1007.5,628.9 1008.6,624.9 1005.4,622.3 1009.5,622.1" fill="#00ff00"/>
<polygon points="1016.4,640.6 1017.8,644.5 1022,644.7 1018.8,647.3 1019.8,651.3 1016.4,649 1012.9,651.3 1014,647.3 1010.8,644.7 1014.9,644.5" fill="#00ff00"/>
<polygon points="1021.8,645.6 1023.2,649.5 1027.4,649.7 1024.1,652.3 1025.2,656.3 1021.8,654 1018.3,656.3 1019.4,652.3 1016.2,649.7 1020.3,649.5" fill="#00ff00"/>
<polygon points="1027.1,648.5 1028.6,652.4 1032.8,652.6 1029.5,655.2 1030.6,659.2 1027.1,656.9 1023.7,659.2 1024.8,655.2 1021.5,652.6 1025.7,652.4" fill="#00ff00"/>
<polygon points="1032.5,655.6 1034,659.5 1038.1,659.7 1034.9,662.3 1036,666.3 1032.5,664 1029.1,666.3 1030.2,662.3 1026.9,659.7 1031.1,659.5" fill="#00ff00"/>
<polygon points="1037.9,678.2 1039.4,682.1 1043.5,682.3 1040.3,684.9 1041.4,688.9 1037.9,686.6 1034.4,688.9 1035.5,684.9 1032.3,682.3 1036.4,682.1" fill="#00ff00"/>
<polygon points="1043.3,691.2 1044.8,695.1 1048.9,695.3 1045.7,697.9 1046.8,701.9 1043.3,699.6 1039.8,701.9 1040.9,697.9 1037.7,695.3 1041.8,695.1" fill="#00ff00"/>
<polygon points="1048.7,706.2 1050.2,710.1 1054.3,710.3 1051.1,712.9 1052.2,716.9 1048.7,714.6 1045.2,716.9 1046.3,712.9 1043.1,710.3 1047.2,710.1" fill="#00ff00"/>
<polygon points="1054.1,711.2 1055.5,715.1 1059.7,715.3 1056.4,717.9 1057.5,721.9 1054.1,719.6 1050.6,721.9 1051.7,717.9 1048.5,715.3 1052.6,715.1" fill="#00ff00"/>
<polygon points="1059.5,703.2 1060.9,707.1 1065.1,707.3 1061.8,709.9 1062.9,713.9 1059.5,711.6 1056,713.9 1057.1,709.9 1053.8,707.3 1058,707.1" fill="#00ff00"/>
<polygon points="1064.8,721.8 1066.3,725.7 1070.4,725.9 1067.2,728.5 1068.3,732.5 1064.8,730.2 1061.4,732.5 1062.5,728.5 1059.2,725.9 1063.4,725.7" fill="#00ff00"/>
<polygon points="1070.2,710 1071.7,713.8 1075.8,714 1072.6,716.6 1073.7,720.6 1070.2,718.4 1066.8,720.6 1067.8,716.6 1064.6,714 1068.8,713.8" fill="#00ff00"/>
<polygon points="1075.6,726.3 1077.1,730.2 1081.2,730.4 1078,733 1079.1,737 1075.6,734.7 1072.1,737 1073.2,733 1070,730.4 1074.1,730.2" fill="#00ff00"/>
<polygon points="1081,724.4 1082.5,728.3 1086.6,728.5 1083.4,731.1 1084.5,735.1 1081,732.8 1077.5,735.1 1078.6,731.1 1075.4,728.5 1079.5,728.3" fill="#00ff00"/>
<polygon points="1086.4,724.9 1087.8,728.8 1092,729 1088.7,731.6 1089.8,735.6 1086.4,733.3 1082.9,735.6 1084,731.6 1080.8,729 1084.9,728.8" fill="#00ff00"/>
<polygon points="1091.8,721.3 1093.2,725.1 1097.4,725.3 1094.1,727.9 1095.2,731.9 1091.8,729.7 1088.3,731.9 1089.4,727.9 1086.1,725.3 1090.3,725.1" fill="#00ff00"/>
<polygon points="1097.1,726.4 1098.6,730.3 1102.8,730.5 1099.5,733.1 1100.6,737.1 1097.1,734.8 1093.7,737.1 1094.8,733.1 1091.5,730.5 1095.7,730.3" fill="#00ff00"/>
<polygon points="1102.5,724.1 1104,728 1108.1,728.2 1104.9,730.8 1106,734.8 1102.5,732.5 1099.1,734.8 1100.1,730.8 1096.9,728.2 1101.1,728" fill="#00ff00"/>
<polygon points="1107.9,737.5 1109.4,741.4 1113.5,741.6 1110.3,744.2 1111.4,748.2 1107.9,745.9 1104.4,748.2 1105.5,744.2 1102.3,741.6 1106.4,741.4" fill="#00ff00"/>
<polygon points="1113.3,745.7 1114.8,749.6 1118.9,749.8 1115.7,752.4 1116.8,756.4 1113.3,754.1 1109.8,756.4 1110.9,752.4 1107.7,749.8 1111.8,749.6" fill="#00ff00"/>
<polygon points="1118.7,718.5 1120.1,722.4 1124.3,722.6 1121.1,725.2 1122.1,729.2 1118.7,726.9 1115.2,729.2 1116.3,725.2 1113.1,722.6 1117.2,722.4" fill="#00ff00"/>
<polygon points="1124.1,735.1 1125.5,739 1129.7,739.2 1126.4,741.7 1127.5,745.7 1124.1,743.5 1120.6,745.7 1121.7,741.7 1118.4,739.2 1122.6,739" fill="#00ff00"/>
<polygon points="1129.4,731.6 1130.9,735.5 1135.1,735.7 1131.8,738.3 1132.9,742.3 1129.4,740 1126,742.3 1127.1,738.3 1123.8,735.7 1128,735.5" fill="#00ff00"/>
<polygon points="1134.8,727.6 1136.3,731.5 1140.4,731.7 1137.2,734.3 1138.3,738.3 1134.8,736 1131.4,738.3 1132.5,734.3 1129.2,731.7 1133.4,731.5" fill="#00ff00"/>
<polygon points="1140.2,742.5 1141.7,746.4 1145.8,746.6 1142.6,749.2 1143.7,753.2 1140.2,750.9 1136.7,753.2 1137.8,749.2 1134.6,746.6 1138.7,746.4" fill="#00ff00"/>
<polygon points="1145.6,722.1 1147.1,726 1151.2,726.2 1148,728.8 1149.1,732.8 1145.6,730.5 1142.1,732.8 1143.2,728.8 1140,726.2 1144.1,726" fill="#00ff00"/>
<polygon points="1151,708.5 1152.4,712.3 1156.6,712.5 1153.4,715.1 1154.4,719.1 1151,716.9 1147.5,719.1 1148.6,715.1 1145.4,712.5 1149.5,712.3" fill="#00ff00"/>
<polygon points="1156.4,704 1157.8,707.9 1162,708.1 1158.7,710.7 1159.8,714.7 1156.4,712.4 1152.9,714.7 1154,710.7 1150.8,708.1 1154.9,707.9" fill="#00ff00"/>
<polygon points="1161.7,686.4 1163.2,690.2 1167.4,690.4 1164.1,693 1165.2,697 1161.7,694.8 1158.3,697 1159.4,693 1156.1,690.4 1160.3,690.2" fill="#00ff00"/>
<polygon points="1167.1,693.8 1168.6,697.7 1172.7,697.9 1169.5,700.5 1170.6,704.5 1167.1,702.2 1163.7,704.5 1164.8,700.5 1161.5,697.9 1165.7,697.7" fill="#00ff00"/>
<polygon points="1172.5,705.2 1174,709.1 1178.1,709.3 1174.9,711.9 1176,715.9 1172.5,713.6 1169,715.9 1170.1,711.9 1166.9,709.3 1171,709.1" fill="#00ff00"/>
<polygon points="1177.9,713.6 1179.4,717.4 1183.5,717.6 1180.3,720.2 1181.4,724.2 1177.9,722 1174.4,724.2 1175.5,720.2 1172.3,717.6 1176.4,717.4" fill="#00ff00"/>
<polygon points="1183.3,716.8 1184.8,720.7 1188.9,720.9 1185.7,723.5 1186.8,727.5 1183.3,725.2 1179.8,727.5 1180.9,723.5 1177.7,720.9 1181.8,720.7" fill="#00ff00"/>
<polygon points="1188.7,729.3 1190.1,733.2 1194.3,733.4 1191,736 1192.1,740 1188.7,737.7 1185.2,740 1186.3,736 1183.1,733.4 1187.2,733.2" fill="#00ff00"/>
<polygon points="1194.1,714.2 1195.5,718.1 1199.7,718.3 1196.4,720.9 1197.5,724.9 1194.1,722.6 1190.6,724.9 1191.7,720.9 1188.4,718.3 1192.6,718.1" fill="#00ff00"/>
<polygon points="1199.4,721.7 1200.9,725.6 1205,725.8 1201.8,728.4 1202.9,732.4 1199.4,730.1 1196,732.4 1197.1,728.4 1193.8,725.8 1198,725.6" fill="#00ff00"/>
<polygon points="1204.8,726.7 1206.3,730.5 1210.4,730.7 1207.2,733.3 1208.3,737.3 1204.8,735.1 1201.4,737.3 1202.4,733.3 1199.2,730.7 1203.4,730.5" fill="#00ff00"/>
<polygon points="1210.2,724.7 1211.7,728.5 1215.8,728.7 1212.6,731.3 1213.7,735.3 1210.2,733.1 1206.7,735.3 1207.8,731.3 1204.6,728.7 1208.7,728.5" fill="#00ff00"/>
<polygon points="1215.6,721.9 1217.1,725.8 1221.2,726 1218,728.6 1219.1,732.6 1215.6,730.3 1212.1,732.6 1213.2,728.6 1210,726 1214.1,725.8" fill="#00ff00"/>
<polygon points="1221,729.7 1222.4,733.6 1226.6,733.8 1223.3,736.4 1224.4,740.4 1221,738.1 1217.5,740.4 1218.6,736.4 1215.4,733.8 1219.5,733.6" fill="#00ff00"/>
<polygon points="1226.4,730.8 1227.8,734.7 1232,734.9 1228.7,737.5 1229.8,741.5 1226.4,739.2 1222.9,741.5 1224,737.5 1220.7,734.9 1224.9,734.7" fill="#00ff00"/>
<polygon points="1231.7,718.5 1233.2,722.4 1237.4,722.6 1234.1,725.2 1235.2,729.2 1231.7,726.9 1228.3,729.2 1229.4,725.2 1226.1,722.6 1230.3,722.4" fill="#00ff00"/>
<polygon points="1237.1,726.3 1238.6,730.1 1242.7,730.3 1239.5,732.9 1240.6,736.9 1237.1,734.7 1233.7,736.9 1234.7,732.9 1231.5,730.3 1235.7,730.1" fill="#00ff00"/>
<polygon points="1242.5,726.7 1244,730.5 1248.1,730.7 1244.9,733.3 1246,737.3 1242.5,735.1 1239,737.3 1240.1,733.3 1236.9,730.7 1241,730.5" fill="#00ff00"/>
<polygon points="1247.9,732.7 1249.4,736.6 1253.5,736.8 1250.3,739.4 1251.4,743.4 1247.9,741.1 1244.4,743.4 1245.5,739.4 1242.3,736.8 1246.4,736.6" fill="#00ff00"/>
<polygon points="1253.3,718 1254.7,721.9 1258.9,722.1 1255.7,724.7 1256.7,728.7 1253.3,726.4 1249.8,728.7 1250.9,724.7 1247.7,722.1 1251.8,721.9" fill="#00ff00"/>
<polygon points="1258.7,717.7 1260.1,721.5 1264.3,721.7 1261,724.3 1262.1,728.3 1258.7,726.1 1255.2,728.3 1256.3,724.3 1253,721.7 1257.2,721.5" fill="#00ff00"/>
<polygon points="1264,723.3 1265.5,727.1 1269.7,727.3 1266.4,729.9 1267.5,733.9 1264,731.7 1260.6,733.9 1261.7,729.9 1258.4,727.3 1262.6,727.1" fill="#00ff00"/>
<polygon points="1269.4,735.2 1270.9,739 1275,739.2 1271.8,741.8 1272.9,745.8 1269.4,743.6 1266,745.8 1267.1,741.8 1263.8,739.2 1268,739" fill="#00ff00"/>
<polygon points="1274.8,752.8 1276.3,756.7 1280.4,756.9 1277.2,759.5 1278.3,763.5 1274.8,761.2 1271.3,763.5 1272.4,759.5 1269.2,756.9 1273.3,756.7" fill="#00ff00"/>
<polygon points="1280.2,725 1281.7,728.8 1285.8,729 1282.6,731.6 1283.7,735.6 1280.2,733.4 1276.7,735.6 1277.8,731.6 1274.6,729 1278.7,728.8" fill="#00ff00"/>
<polygon points="1285.6,717 1287,720.9 1291.2,721.1 1288,723.7 1289,727.7 1285.6,725.4 1282.1,727.7 1283.2,723.7 1280,721.1 1284.1,720.9" fill="#00ff00"/>
<polygon points="1291,731.7 1292.4,735.6 1296.6,735.8 1293.3,738.4 1294.4,742.4 1291,740.1 1287.5,742.4 1288.6,738.4 1285.4,735.8 1289.5,735.6" fill="#00ff00"/>
<polygon points="1296.3,735.8 1297.8,739.7 1302,739.9 1298.7,742.5 1299.8,746.5 1296.3,744.2 1292.9,746.5 1294,742.5 1290.7,739.9 1294.9,739.7" fill="#00ff00"/>
<polygon points="1301.7,737 1303.2,740.9 1307.3,741.1 1304.1,743.6 1305.2,747.6 1301.7,745.4 1298.3,747.6 1299.4,743.6 1296.1,741.1 1300.3,740.9" fill="#00ff00"/>
<polygon points="1307.1,710.6 1308.6,714.5 1312.7,714.7 1309.5,717.3 1310.6,721.3 1307.1,719 1303.6,721.3 1304.7,717.3 1301.5,714.7 1305.6,714.5" fill="#00ff00"/>
<polygon points="1312.5,722.5 1314,726.4 1318.1,726.6 1314.9,729.2 1316,733.2 1312.5,730.9 1309,733.2 1310.1,729.2 1306.9,726.6 1311,726.4" fill="#00ff00"/>
<polygon points="1317.9,743 1319.4,746.9 1323.5,747.1 1320.3,749.7 1321.4,753.7 1317.9,751.4 1314.4,753.7 1315.5,749.7 1312.3,747.1 1316.4,746.9" fill="#00ff00"/>
<polygon points="1323.3,760.5 1324.7,764.4 1328.9,764.6 1325.6,767.2 1326.7,771.2 1323.3,768.9 1319.8,771.2 1320.9,767.2 1317.7,764.6 1321.8,764.4" fill="#00ff00"/>
<polygon points="1328.7,751.3 1330.1,755.1 1334.3,755.3 1331,757.9 1332.1,761.9 1328.7,759.7 1325.2,761.9 1326.3,757.9 1323,755.3 1327.2,755.1" fill="#00ff00"/>
<polygon points="1334,738.9 1335.5,742.8 1339.6,743 1336.4,745.6 1337.5,749.6 1334,747.3 1330.6,749.6 1331.7,745.6 1328.4,743 1332.6,742.8" fill="#00ff00"/>
<polygon points="1339.4,703.8 1340.9,707.7 1345,707.9 1341.8,710.5 1342.9,714.5 1339.4,712.2 1336,714.5 1337,710.5 1333.8,707.9 1338,707.7" fill="#00ff00"/>
<polygon points="1344.8,702 1346.3,705.9 1350.4,706.1 1347.2,708.7 1348.3,712.7 1344.8,710.4 1341.3,712.7 1342.4,708.7 1339.2,706.1 1343.3,705.9" fill="#00ff00"/>
<polygon points="1350.2,732.3 1351.7,736.2 1355.8,736.4 1352.6,739 1353.7,743 1350.2,740.7 1346.7,743 1347.8,739 1344.6,736.4 1348.7,736.2" fill="#00ff00"/>
<polygon points="1355.6,744.1 1357,748 1361.2,748.2 1357.9,750.8 1359,754.8 1355.6,752.5 1352.1,754.8 1353.2,750.8 1350,748.2 1354.1,748" fill="#00ff00"/>
<polygon points="1361,723.6 1362.4,727.4 1366.6,727.6 1363.3,730.2 1364.4,734.2 1361,732 1357.5,734.2 1358.6,730.2 1355.3,727.6 1359.5,727.4" fill="#00ff00"/>
<polygon points="1366.3,716 1367.8,719.9 1372,720.1 1368.7,722.6 1369.8,726.6 1366.3,724.4 1362.9,726.6 1364,722.6 1360.7,720.1 1364.9,719.9" fill="#00ff00"/>
</g>
<path d="M237.1 720.2L239.6 708.3M248.6 691.1L249.8 687.3M264.2 704.7L266.4 713.7M297.1 711.6L298.1 708.6M302.5 708.6L303.5 712M307.7 725.4L309.1 730M313.6 730.2L313.9 729.3M318.7 716.2L319.6 713.4M324.4 713.3L324.7 714.1M329.6 727.2L330.2 728.8M383.2 722.4L384.4 726.3M403.8 719.7L406.8 703.4M409.6 703.3L411.7 712.1M457.8 720.9L460.5 735.2M463.9 735.4L465.1 731.6M495.8 733.4L497.8 741.1M501.5 741.2L502.9 736.6M505.9 722.9L509.3 699.9M517.8 694.7L518.9 698.3M534.1 702.8L535 700.2M544.3 691.8L546.2 684.3M548.8 670.5L552.5 638.7M560.1 639.9L562.8 653.1M565.9 653.2L567.7 646.8M581.7 609.5L584.2 597.6M587.4 583.9L589.3 576.1M592.9 562.5L594.6 556.1M603.7 536.9L605.3 531M608 517.3L611.7 486.3M630.1 468.8L632.8 454.8M635.7 441.1L637.9 431.1M640.8 417.4L643.6 401.9M646 388.1L649.1 369M652.6 368.7L653.3 370.5M662.9 362.5L664.6 356.1M667.5 342.4L670.7 321.9M679.4 294.7L680.4 291.7M683.9 278.1L686.6 264M695.1 244.6L697 237.5M700.2 223.9L702.6 213.2M705.8 199.6L707.8 191.4M711.6 177.9L712.8 174.2M748.8 133.2L750.9 124.2M808.7 104.1L809.5 101.6M830.2 121.6L831.1 124.1M846 134.6L847.5 139.7M856.9 156.7L858.2 160.8M866.6 168.9L870 192.4M883.3 208.2L885.7 219.6M894.4 241.7L896.1 247.6M899.6 261.1L901.6 268.9M904.8 282.5L907.2 293.2M920.6 314.8L923.7 334.5M932.7 355.2L933.2 356.3M937.9 369.5L938.7 372M941.9 385.5L945.5 412.6M953.9 422.9L955 419.6M957.9 419.9L961.8 458M963.8 471.9L966.7 488.1M969.7 501.8L971.6 509.2M975.7 522.6L976.3 524.1M985.5 550L988 561.8M1006.7 596.9L1009.9 616M1044.7 689.4L1047.3 701.4M1061.8 710.4L1062.5 712.4M1115 745.6L1116.9 738M1136.9 736.5L1138.1 740.5M1142.2 740.5L1143.6 735.4M1157.9 701.5L1160.2 691.8M1168.4 695.5L1171.2 710.7M1185.7 728L1186.2 729.3M1249.8 733.4L1251.3 728.4M1266.2 738.9L1267.2 741.8M1276.5 744.9L1278.5 737.1M1303.4 741.4L1305.5 732.6M1319.8 754.9L1321.4 760.5M1330.9 752L1331.8 749M1335.1 735.4L1338.4 712.5M1346 714.9L1349 732.5M1357.5 742.9L1359 738" stroke="#800000" stroke-width="0.85" fill="none"/>
<g>
<path d="M235.7 733.4L241.5 722.9L229.8 722.9Z" fill="#800000"/>
<path d="M241.1 707.9L246.9 697.4L235.2 697.4Z" fill="#800000"/>
<path d="M246.5 704.2L252.3 693.7L240.6 693.7Z" fill="#800000"/>
<path d="M251.9 687L257.7 676.5L246 676.5Z" fill="#800000"/>
<path d="M257.2 692.6L263.1 682.1L251.4 682.1Z" fill="#800000"/>
<path d="M262.6 704.3L268.5 693.8L256.8 693.8Z" fill="#800000"/>
<path d="M268 726.9L273.9 716.4L262.2 716.4Z" fill="#800000"/>
<path d="M273.4 730.4L279.2 719.9L267.5 719.9Z" fill="#800000"/>
<path d="M278.8 738.7L284.6 728.2L272.9 728.2Z" fill="#800000"/>
<path d="M284.2 729.2L290 718.7L278.3 718.7Z" fill="#800000"/>
<path d="M289.5 730.7L295.4 720.2L283.7 720.2Z" fill="#800000"/>
<path d="M294.9 724.6L300.8 714.1L289.1 714.1Z" fill="#800000"/>
<path d="M300.3 708.3L306.2 697.8L294.5 697.8Z" fill="#800000"/>
<path d="M305.7 725L311.5 714.5L299.8 714.5Z" fill="#800000"/>
<path d="M311.1 743.1L316.9 732.6L305.2 732.6Z" fill="#800000"/>
<path d="M316.5 729.2L322.3 718.7L310.6 718.7Z" fill="#800000"/>
<path d="M321.8 713.2L327.7 702.7L316 702.7Z" fill="#800000"/>
<path d="M327.2 727L333.1 716.5L321.4 716.5Z" fill="#800000"/>
<path d="M332.6 741.7L338.5 731.2L326.8 731.2Z" fill="#800000"/>
<path d="M338 737.4L343.8 726.9L332.1 726.9Z" fill="#800000"/>
<path d="M343.4 732.8L349.2 722.3L337.5 722.3Z" fill="#800000"/>
<path d="M348.8 735.7L354.6 725.2L342.9 725.2Z" fill="#800000"/>
<path d="M354.1 727.3L360 716.8L348.3 716.8Z" fill="#800000"/>
<path d="M359.5 723.2L365.4 712.7L353.7 712.7Z" fill="#800000"/>
<path d="M364.9 717.9L370.8 707.4L359.1 707.4Z" fill="#800000"/>
<path d="M370.3 725.2L376.2 714.7L364.4 714.7Z" fill="#800000"/>
<path d="M375.7 721.3L381.5 710.8L369.8 710.8Z" fill="#800000"/>
<path d="M381.1 722.2L386.9 711.7L375.2 711.7Z" fill="#800000"/>
<path d="M386.5 739.4L392.3 728.9L380.6 728.9Z" fill="#800000"/>
<path d="M391.8 750.2L397.7 739.7L386 739.7Z" fill="#800000"/>
<path d="M397.2 740.5L403.1 730L391.4 730Z" fill="#800000"/>
<path d="M402.6 733L408.5 722.5L396.8 722.5Z" fill="#800000"/>
<path d="M408 702.9L413.8 692.4L402.1 692.4Z" fill="#800000"/>
<path d="M413.4 725.4L419.2 714.9L407.5 714.9Z" fill="#800000"/>
<path d="M418.8 736.3L424.6 725.8L412.9 725.8Z" fill="#800000"/>
<path d="M424.1 722.9L430 712.4L418.3 712.4Z" fill="#800000"/>
<path d="M429.5 722.1L435.4 711.6L423.7 711.6Z" fill="#800000"/>
<path d="M434.9 715.7L440.8 705.2L429.1 705.2Z" fill="#800000"/>
<path d="M440.3 703.6L446.1 693.1L434.4 693.1Z" fill="#800000"/>
<path d="M445.7 708.7L451.5 698.2L439.8 698.2Z" fill="#800000"/>
<path d="M451.1 717.5L456.9 707L445.2 707Z" fill="#800000"/>
<path d="M456.4 720.4L462.3 709.9L450.6 709.9Z" fill="#800000"/>
<path d="M461.8 748.5L467.7 738L456 738Z" fill="#800000"/>
<path d="M467.2 731.3L473.1 720.8L461.4 720.8Z" fill="#800000"/>
<path d="M472.6 729.6L478.4 719.1L466.7 719.1Z" fill="#800000"/>
<path d="M478 729.8L483.8 719.3L472.1 719.3Z" fill="#800000"/>
<path d="M483.4 740L489.2 729.5L477.5 729.5Z" fill="#800000"/>
<path d="M488.7 727L494.6 716.5L482.9 716.5Z" fill="#800000"/>
<path d="M494.1 733L500 722.5L488.3 722.5Z" fill="#800000"/>
<path d="M499.5 754.3L505.4 743.8L493.7 743.8Z" fill="#800000"/>
<path d="M504.9 736.2L510.8 725.7L499.1 725.7Z" fill="#800000"/>
<path d="M510.3 699.4L516.1 688.9L504.4 688.9Z" fill="#800000"/>
<path d="M515.7 694.4L521.5 683.9L509.8 683.9Z" fill="#800000"/>
<path d="M521.1 711.4L526.9 700.9L515.2 700.9Z" fill="#800000"/>
<path d="M526.4 713.8L532.3 703.3L520.6 703.3Z" fill="#800000"/>
<path d="M531.8 715.8L537.7 705.3L526 705.3Z" fill="#800000"/>
<path d="M537.2 699.9L543.1 689.4L531.4 689.4Z" fill="#800000"/>
<path d="M542.6 705L548.4 694.5L536.7 694.5Z" fill="#800000"/>
<path d="M548 683.9L553.8 673.4L542.1 673.4Z" fill="#800000"/>
<path d="M553.4 638.1L559.2 627.6L547.5 627.6Z" fill="#800000"/>
<path d="M558.7 639.4L564.6 628.9L552.9 628.9Z" fill="#800000"/>
<path d="M564.1 666.4L570 655.9L558.3 655.9Z" fill="#800000"/>
<path d="M569.5 646.4L575.4 635.9L563.7 635.9Z" fill="#800000"/>
<path d="M574.9 636.4L580.7 625.9L569 625.9Z" fill="#800000"/>
<path d="M580.3 622.8L586.1 612.3L574.4 612.3Z" fill="#800000"/>
<path d="M585.7 597.1L591.5 586.6L579.8 586.6Z" fill="#800000"/>
<path d="M591 575.7L596.9 565.2L585.2 565.2Z" fill="#800000"/>
<path d="M596.4 555.7L602.3 545.2L590.6 545.2Z" fill="#800000"/>
<path d="M601.8 550L607.7 539.5L596 539.5Z" fill="#800000"/>
<path d="M607.2 530.7L613 520.2L601.3 520.2Z" fill="#800000"/>
<path d="M612.6 485.7L618.4 475.2L606.7 475.2Z" fill="#800000"/>
<path d="M618 497.8L623.8 487.3L612.1 487.3Z" fill="#800000"/>
<path d="M623.3 495.7L629.2 485.2L617.5 485.2Z" fill="#800000"/>
<path d="M628.7 482.1L634.6 471.6L622.9 471.6Z" fill="#800000"/>
<path d="M634.1 454.3L640 443.8L628.3 443.8Z" fill="#800000"/>
<path d="M639.5 430.7L645.4 420.2L633.6 420.2Z" fill="#800000"/>
<path d="M644.9 401.4L650.7 390.9L639 390.9Z" fill="#800000"/>
<path d="M650.3 368.5L656.1 358L644.4 358Z" fill="#800000"/>
<path d="M655.7 383.5L661.5 373L649.8 373Z" fill="#800000"/>
<path d="M661 375.7L666.9 365.2L655.2 365.2Z" fill="#800000"/>
<path d="M666.4 355.7L672.3 345.2L660.6 345.2Z" fill="#800000"/>
<path d="M671.8 321.4L677.7 310.9L666 310.9Z" fill="#800000"/>
<path d="M677.2 307.8L683 297.3L671.3 297.3Z" fill="#800000"/>
<path d="M682.6 291.4L688.4 280.9L676.7 280.9Z" fill="#800000"/>
<path d="M688 263.5L693.8 253L682.1 253Z" fill="#800000"/>
<path d="M693.3 257.8L699.2 247.3L687.5 247.3Z" fill="#800000"/>
<path d="M698.7 237.1L704.6 226.6L692.9 226.6Z" fill="#800000"/>
<path d="M704.1 212.8L710 202.3L698.3 202.3Z" fill="#800000"/>
<path d="M709.5 191L715.3 180.5L703.6 180.5Z" fill="#800000"/>
<path d="M714.9 173.9L720.7 163.4L709 163.4Z" fill="#800000"/>
<path d="M720.3 166L726.1 155.5L714.4 155.5Z" fill="#800000"/>
<path d="M725.6 156.4L731.5 145.9L719.8 145.9Z" fill="#800000"/>
<path d="M731 157.5L736.9 147L725.2 147Z" fill="#800000"/>
<path d="M736.4 157.1L742.3 146.6L730.6 146.6Z" fill="#800000"/>
<path d="M741.8 155.7L747.6 145.2L735.9 145.2Z" fill="#800000"/>
<path d="M747.2 146.4L753 135.9L741.3 135.9Z" fill="#800000"/>
<path d="M752.6 123.8L758.4 113.3L746.7 113.3Z" fill="#800000"/>
<path d="M757.9 114.7L763.8 104.2L752.1 104.2Z" fill="#800000"/>
<path d="M763.3 112.1L769.2 101.6L757.5 101.6Z" fill="#800000"/>
<path d="M768.7 114.3L774.6 103.8L762.9 103.8Z" fill="#800000"/>
<path d="M774.1 117.8L780 107.3L768.3 107.3Z" fill="#800000"/>
<path d="M779.5 113.3L785.3 102.8L773.6 102.8Z" fill="#800000"/>
<path d="M784.9 101.4L790.7 90.9L779 90.9Z" fill="#800000"/>
<path d="M790.3 112.1L796.1 101.6L784.4 101.6Z" fill="#800000"/>
<path d="M795.6 120.7L801.5 110.2L789.8 110.2Z" fill="#800000"/>
<path d="M801 110.7L806.9 100.2L795.2 100.2Z" fill="#800000"/>
<path d="M806.4 117.1L812.3 106.6L800.6 106.6Z" fill="#800000"/>
<path d="M811.8 101.4L817.6 90.9L805.9 90.9Z" fill="#800000"/>
<path d="M817.2 106.1L823 95.6L811.3 95.6Z" fill="#800000"/>
<path d="M822.6 115.7L828.4 105.2L816.7 105.2Z" fill="#800000"/>
<path d="M827.9 121.4L833.8 110.9L822.1 110.9Z" fill="#800000"/>
<path d="M833.3 137.1L839.2 126.6L827.5 126.6Z" fill="#800000"/>
<path d="M838.7 134.3L844.6 123.8L832.9 123.8Z" fill="#800000"/>
<path d="M844.1 134.3L849.9 123.8L838.2 123.8Z" fill="#800000"/>
<path d="M849.5 152.8L855.3 142.3L843.6 142.3Z" fill="#800000"/>
<path d="M854.9 156.4L860.7 145.9L849 145.9Z" fill="#800000"/>
<path d="M860.2 173.9L866.1 163.4L854.4 163.4Z" fill="#800000"/>
<path d="M865.6 168.4L871.5 157.9L859.8 157.9Z" fill="#800000"/>
<path d="M871 205.7L876.9 195.2L865.2 195.2Z" fill="#800000"/>
<path d="M876.4 200L882.2 189.5L870.5 189.5Z" fill="#800000"/>
<path d="M881.8 207.8L887.6 197.3L875.9 197.3Z" fill="#800000"/>
<path d="M887.2 232.8L893 222.3L881.3 222.3Z" fill="#800000"/>
<path d="M892.5 241.4L898.4 230.9L886.7 230.9Z" fill="#800000"/>
<path d="M897.9 260.7L903.8 250.2L892.1 250.2Z" fill="#800000"/>
<path d="M903.3 282.1L909.2 271.6L897.5 271.6Z" fill="#800000"/>
<path d="M908.7 306.4L914.6 295.9L902.9 295.9Z" fill="#800000"/>
<path d="M914.1 317.1L919.9 306.6L908.2 306.6Z" fill="#800000"/>
<path d="M919.5 314.3L925.3 303.8L913.6 303.8Z" fill="#800000"/>
<path d="M924.9 347.8L930.7 337.3L919 337.3Z" fill="#800000"/>
<path d="M930.2 355L936.1 344.5L924.4 344.5Z" fill="#800000"/>
<path d="M935.6 369.3L941.5 358.8L929.8 358.8Z" fill="#800000"/>
<path d="M941 385L946.9 374.5L935.2 374.5Z" fill="#800000"/>
<path d="M946.4 425.9L952.2 415.4L940.5 415.4Z" fill="#800000"/>
<path d="M951.8 436L957.6 425.5L945.9 425.5Z" fill="#800000"/>
<path d="M957.2 419.3L963 408.8L951.3 408.8Z" fill="#800000"/>
<path d="M962.5 471.4L968.4 460.9L956.7 460.9Z" fill="#800000"/>
<path d="M967.9 501.4L973.8 490.9L962.1 490.9Z" fill="#800000"/>
<path d="M973.3 522.4L979.2 511.9L967.5 511.9Z" fill="#800000"/>
<path d="M978.7 537.1L984.5 526.6L972.8 526.6Z" fill="#800000"/>
<path d="M984.1 549.6L989.9 539.1L978.2 539.1Z" fill="#800000"/>
<path d="M989.5 575L995.3 564.5L983.6 564.5Z" fill="#800000"/>
<path d="M994.8 586.4L1000.7 575.9L989 575.9Z" fill="#800000"/>
<path d="M1000.2 590L1006.1 579.5L994.4 579.5Z" fill="#800000"/>
<path d="M1005.6 596.4L1011.5 585.9L999.8 585.9Z" fill="#800000"/>
<path d="M1011 629.3L1016.8 618.8L1005.1 618.8Z" fill="#800000"/>
<path d="M1016.4 640L1022.2 629.5L1010.5 629.5Z" fill="#800000"/>
<path d="M1021.8 652.1L1027.6 641.6L1015.9 641.6Z" fill="#800000"/>
<path d="M1027.1 665.7L1033 655.2L1021.3 655.2Z" fill="#800000"/>
<path d="M1032.5 673.5L1038.4 663L1026.7 663Z" fill="#800000"/>
<path d="M1037.9 684.3L1043.8 673.8L1032.1 673.8Z" fill="#800000"/>
<path d="M1043.3 688.9L1049.1 678.4L1037.5 678.4Z" fill="#800000"/>
<path d="M1048.7 714.7L1054.5 704.2L1042.8 704.2Z" fill="#800000"/>
<path d="M1054.1 721.2L1059.9 710.7L1048.2 710.7Z" fill="#800000"/>
<path d="M1059.5 710.2L1065.3 699.7L1053.6 699.7Z" fill="#800000"/>
<path d="M1064.8 725.4L1070.7 714.9L1059 714.9Z" fill="#800000"/>
<path d="M1070.2 728.4L1076.1 717.9L1064.4 717.9Z" fill="#800000"/>
<path d="M1075.6 731.4L1081.5 720.9L1069.8 720.9Z" fill="#800000"/>
<path d="M1081 724.7L1086.8 714.2L1075.1 714.2Z" fill="#800000"/>
<path d="M1086.4 736.8L1092.2 726.3L1080.5 726.3Z" fill="#800000"/>
<path d="M1091.8 733.4L1097.6 722.9L1085.9 722.9Z" fill="#800000"/>
<path d="M1097.1 743.6L1103 733.1L1091.3 733.1Z" fill="#800000"/>
<path d="M1102.5 737.3L1108.4 726.8L1096.7 726.8Z" fill="#800000"/>
<path d="M1107.9 746.2L1113.8 735.7L1102.1 735.7Z" fill="#800000"/>
<path d="M1113.3 758.8L1119.1 748.3L1107.4 748.3Z" fill="#800000"/>
<path d="M1118.7 737.7L1124.5 727.2L1112.8 727.2Z" fill="#800000"/>
<path d="M1124.1 742.8L1129.9 732.3L1118.2 732.3Z" fill="#800000"/>
<path d="M1129.4 746L1135.3 735.5L1123.6 735.5Z" fill="#800000"/>
<path d="M1134.8 736.2L1140.7 725.7L1129 725.7Z" fill="#800000"/>
<path d="M1140.2 753.6L1146.1 743.1L1134.4 743.1Z" fill="#800000"/>
<path d="M1145.6 735.1L1151.4 724.6L1139.7 724.6Z" fill="#800000"/>
<path d="M1151 726.3L1156.8 715.8L1145.1 715.8Z" fill="#800000"/>
<path d="M1156.4 714.8L1162.2 704.3L1150.5 704.3Z" fill="#800000"/>
<path d="M1161.7 691.4L1167.6 680.9L1155.9 680.9Z" fill="#800000"/>
<path d="M1167.1 695L1173 684.5L1161.3 684.5Z" fill="#800000"/>
<path d="M1172.5 724L1178.4 713.5L1166.7 713.5Z" fill="#800000"/>
<path d="M1177.9 726.6L1183.8 716.1L1172.1 716.1Z" fill="#800000"/>
<path d="M1183.3 727.8L1189.1 717.3L1177.4 717.3Z" fill="#800000"/>
<path d="M1188.7 742.2L1194.5 731.7L1182.8 731.7Z" fill="#800000"/>
<path d="M1194.1 733L1199.9 722.5L1188.2 722.5Z" fill="#800000"/>
<path d="M1199.4 737L1205.3 726.5L1193.6 726.5Z" fill="#800000"/>
<path d="M1204.8 741L1210.7 730.5L1199 730.5Z" fill="#800000"/>
<path d="M1210.2 740.3L1216.1 729.8L1204.4 729.8Z" fill="#800000"/>
<path d="M1215.6 736.2L1221.4 725.7L1209.7 725.7Z" fill="#800000"/>
<path d="M1221 742.5L1226.8 732L1215.1 732Z" fill="#800000"/>
<path d="M1226.4 746.7L1232.2 736.2L1220.5 736.2Z" fill="#800000"/>
<path d="M1231.7 746L1237.6 735.5L1225.9 735.5Z" fill="#800000"/>
<path d="M1237.1 739.3L1243 728.8L1231.3 728.8Z" fill="#800000"/>
<path d="M1242.5 739.7L1248.4 729.2L1236.7 729.2Z" fill="#800000"/>
<path d="M1247.9 746.5L1253.7 736L1242 736Z" fill="#800000"/>
<path d="M1253.3 728L1259.1 717.5L1247.4 717.5Z" fill="#800000"/>
<path d="M1258.7 725.8L1264.5 715.3L1252.8 715.3Z" fill="#800000"/>
<path d="M1264 738.6L1269.9 728.1L1258.2 728.1Z" fill="#800000"/>
<path d="M1269.4 754.9L1275.3 744.4L1263.6 744.4Z" fill="#800000"/>
<path d="M1274.8 758.1L1280.7 747.6L1269 747.6Z" fill="#800000"/>
<path d="M1280.2 736.7L1286 726.2L1274.3 726.2Z" fill="#800000"/>
<path d="M1285.6 734L1291.4 723.5L1279.7 723.5Z" fill="#800000"/>
<path d="M1291 746.3L1296.8 735.8L1285.1 735.8Z" fill="#800000"/>
<path d="M1296.3 747.7L1302.2 737.2L1290.5 737.2Z" fill="#800000"/>
<path d="M1301.7 754.6L1307.6 744.1L1295.9 744.1Z" fill="#800000"/>
<path d="M1307.1 732.2L1313 721.7L1301.3 721.7Z" fill="#800000"/>
<path d="M1312.5 743.4L1318.4 732.9L1306.7 732.9Z" fill="#800000"/>
<path d="M1317.9 754.5L1323.7 744L1312 744Z" fill="#800000"/>
<path d="M1323.3 773.6L1329.1 763.1L1317.4 763.1Z" fill="#800000"/>
<path d="M1328.7 765L1334.5 754.5L1322.8 754.5Z" fill="#800000"/>
<path d="M1334 748.8L1339.9 738.3L1328.2 738.3Z" fill="#800000"/>
<path d="M1339.4 712L1345.3 701.5L1333.6 701.5Z" fill="#800000"/>
<path d="M1344.8 714.4L1350.7 703.9L1339 703.9Z" fill="#800000"/>
<path d="M1350.2 745.8L1356 735.3L1344.3 735.3Z" fill="#800000"/>
<path d="M1355.6 756L1361.4 745.5L1349.7 745.5Z" fill="#800000"/>
<path d="M1361 737.7L1366.8 727.2L1355.1 727.2Z" fill="#800000"/>
<path d="M1366.3 733.2L1372.2 722.7L1360.5 722.7Z" fill="#800000"/>
</g>
<path d="M237.3 714.6L239.5 705.4M248.2 692.5L250.1 684.7M264.6 703.6L266 708.7M281.1 725.5L281.8 723.7M307.2 719.7L309.6 730.6M313 730.7L314.5 725.3M318.4 711.9L319.9 706.4M323.6 706.5L325.5 713.5M382.9 719.7L384.6 725.8M399.5 728.8L400.3 726.6M404.2 713.2L406.4 703.7M409.7 703.7L411.7 711.8M457.9 719.8L460.4 731.7M506.2 722.4L509 706.9M543.8 678.1L546.7 661.9M549.2 648.1L552.1 631.3M560.1 631.3L562.8 644.6M566 644.8L567.6 638.7M576.4 615.2L578.8 604M581.5 590.3L584.5 572.9M592.4 548.5L595 535.5M607.9 501.9L611.9 461.6M629.9 435.1L633 415.8M635 402L638.6 372.3M641.5 358.7L642.9 354.1M646 340.5L649.2 320.5M662 320.2L665.5 295.5M678.1 262.4L681.7 233.3M695.7 200.5L696.4 198.3M699.7 184.8L703.1 160.5M705.8 146.8L707.8 138.9M748.4 98.8L751.4 81.9M760.1 61.9L761.2 58.8M786.8 54.6L788.3 59.7M803.2 67.3L804.2 70.3M824.1 66.5L826.4 76.8M840.9 89.2L841.9 92M846 105.3L847.6 111.2M862.5 133.5L863.4 136M866.8 149.5L869.8 166.9M884 186.6L884.9 189.4M888.5 202.9L891.2 216M894 229.8L896.5 241.7M899.6 255.4L901.6 263.2M905.1 276.8L906.9 283.9M920.5 307.4L923.8 328.1M932.4 336.7L933.5 340.2M937.4 353.7L939.3 361.1M942 374.8L945.4 398.8M958.1 424L961.6 451M963.5 464.8L967 491.7M974.8 516.1L977.2 526.8M980 540.5L982.8 555.6M986 569.2L987.5 574.7M1001.3 594.8L1004.6 616.7M1017.8 640.8L1020.3 652.5M1024.2 665.9L1024.7 667M1034.9 688.6L1035.6 690.5M1044.8 712.5L1047.2 723.9M1114.8 743.2L1117.2 732.5M1137.1 736.6L1137.9 739.1M1142.2 739L1143.6 734.1M1158.8 699.8L1159.3 698.7M1169.4 703.7L1170.3 706.3M1250.3 729.1L1250.9 727.3M1276.4 743.9L1278.6 735.1M1303.6 734L1305.2 728.1M1314.8 739.7L1315.6 742M1319.8 755.3L1321.3 760.7M1331.2 749.9L1331.5 749.1M1335.1 735.7L1338.4 713.3M1346 714.8L1349 732.4M1357.7 741.2L1358.9 737.4" stroke="#ff8000" stroke-width="0.85" fill="none"/>
<g>
<rect x="231.5" y="717.2" width="8.4" height="8.4" fill="#ff8000"/>
<rect x="236.9" y="694.4" width="8.4" height="8.4" fill="#ff8000"/>
<rect x="242.3" y="695.1" width="8.4" height="8.4" fill="#ff8000"/>
<rect x="247.7" y="673.7" width="8.4" height="8.4" fill="#ff8000"/>
<rect x="253" y="680.1" width="8.4" height="8.4" fill="#ff8000"/>
<rect x="258.4" y="692.7" width="8.4" height="8.4" fill="#ff8000"/>
<rect x="263.8" y="711.2" width="8.4" height="8.4" fill="#ff8000"/>
<rect x="269.2" y="716.5" width="8.4" height="8.4" fill="#ff8000"/>
<rect x="274.6" y="727.9" width="8.4" height="8.4" fill="#ff8000"/>
<rect x="280" y="712.9" width="8.4" height="8.4" fill="#ff8000"/>
<rect x="285.3" y="714.4" width="8.4" height="8.4" fill="#ff8000"/>
<rect x="290.7" y="707.9" width="8.4" height="8.4" fill="#ff8000"/>
<rect x="296.1" y="698.4" width="8.4" height="8.4" fill="#ff8000"/>
<rect x="301.5" y="708.7" width="8.4" height="8.4" fill="#ff8000"/>
<rect x="306.9" y="733.2" width="8.4" height="8.4" fill="#ff8000"/>
<rect x="312.3" y="714.4" width="8.4" height="8.4" fill="#ff8000"/>
<rect x="317.6" y="695.5" width="8.4" height="8.4" fill="#ff8000"/>
<rect x="323" y="716.1" width="8.4" height="8.4" fill="#ff8000"/>
<rect x="328.4" y="729.4" width="8.4" height="8.4" fill="#ff8000"/>
<rect x="333.8" y="720.1" width="8.4" height="8.4" fill="#ff8000"/>
<rect x="339.2" y="717.9" width="8.4" height="8.4" fill="#ff8000"/>
<rect x="344.6" y="719.4" width="8.4" height="8.4" fill="#ff8000"/>
<rect x="349.9" y="717.9" width="8.4" height="8.4" fill="#ff8000"/>
<rect x="355.3" y="708.7" width="8.4" height="8.4" fill="#ff8000"/>
<rect x="360.7" y="698.9" width="8.4" height="8.4" fill="#ff8000"/>
<rect x="366.1" y="709.4" width="8.4" height="8.4" fill="#ff8000"/>
<rect x="371.5" y="709.4" width="8.4" height="8.4" fill="#ff8000"/>
<rect x="376.9" y="708.7" width="8.4" height="8.4" fill="#ff8000"/>
<rect x="382.3" y="728.4" width="8.4" height="8.4" fill="#ff8000"/>
<rect x="387.6" y="731.5" width="8.4" height="8.4" fill="#ff8000"/>
<rect x="393" y="731.2" width="8.4" height="8.4" fill="#ff8000"/>
<rect x="398.4" y="715.8" width="8.4" height="8.4" fill="#ff8000"/>
<rect x="403.8" y="692.7" width="8.4" height="8.4" fill="#ff8000"/>
<rect x="409.2" y="714.4" width="8.4" height="8.4" fill="#ff8000"/>
<rect x="414.6" y="720.8" width="8.4" height="8.4" fill="#ff8000"/>
<rect x="419.9" y="708.7" width="8.4" height="8.4" fill="#ff8000"/>
<rect x="425.3" y="705.8" width="8.4" height="8.4" fill="#ff8000"/>
<rect x="430.7" y="699.4" width="8.4" height="8.4" fill="#ff8000"/>
<rect x="436.1" y="690.1" width="8.4" height="8.4" fill="#ff8000"/>
<rect x="441.5" y="697.2" width="8.4" height="8.4" fill="#ff8000"/>
<rect x="446.9" y="702.9" width="8.4" height="8.4" fill="#ff8000"/>
<rect x="452.2" y="708.7" width="8.4" height="8.4" fill="#ff8000"/>
<rect x="457.6" y="734.4" width="8.4" height="8.4" fill="#ff8000"/>
<rect x="463" y="721.5" width="8.4" height="8.4" fill="#ff8000"/>
<rect x="468.4" y="715.1" width="8.4" height="8.4" fill="#ff8000"/>
<rect x="473.8" y="722.2" width="8.4" height="8.4" fill="#ff8000"/>
<rect x="479.2" y="727.2" width="8.4" height="8.4" fill="#ff8000"/>
<rect x="484.5" y="717.2" width="8.4" height="8.4" fill="#ff8000"/>
<rect x="489.9" y="717.2" width="8.4" height="8.4" fill="#ff8000"/>
<rect x="495.3" y="730.1" width="8.4" height="8.4" fill="#ff8000"/>
<rect x="500.7" y="725.1" width="8.4" height="8.4" fill="#ff8000"/>
<rect x="506.1" y="695.8" width="8.4" height="8.4" fill="#ff8000"/>
<rect x="511.5" y="685.8" width="8.4" height="8.4" fill="#ff8000"/>
<rect x="516.9" y="688.7" width="8.4" height="8.4" fill="#ff8000"/>
<rect x="522.2" y="700.8" width="8.4" height="8.4" fill="#ff8000"/>
<rect x="527.6" y="704.1" width="8.4" height="8.4" fill="#ff8000"/>
<rect x="533" y="691.2" width="8.4" height="8.4" fill="#ff8000"/>
<rect x="538.4" y="680.8" width="8.4" height="8.4" fill="#ff8000"/>
<rect x="543.8" y="650.8" width="8.4" height="8.4" fill="#ff8000"/>
<rect x="549.2" y="620.2" width="8.4" height="8.4" fill="#ff8000"/>
<rect x="554.5" y="620.2" width="8.4" height="8.4" fill="#ff8000"/>
<rect x="559.9" y="647.3" width="8.4" height="8.4" fill="#ff8000"/>
<rect x="565.3" y="627.8" width="8.4" height="8.4" fill="#ff8000"/>
<rect x="570.7" y="617.8" width="8.4" height="8.4" fill="#ff8000"/>
<rect x="576.1" y="593" width="8.4" height="8.4" fill="#ff8000"/>
<rect x="581.5" y="561.8" width="8.4" height="8.4" fill="#ff8000"/>
<rect x="586.8" y="551.2" width="8.4" height="8.4" fill="#ff8000"/>
<rect x="592.2" y="524.4" width="8.4" height="8.4" fill="#ff8000"/>
<rect x="597.6" y="516.5" width="8.4" height="8.4" fill="#ff8000"/>
<rect x="603" y="504.7" width="8.4" height="8.4" fill="#ff8000"/>
<rect x="608.4" y="450.4" width="8.4" height="8.4" fill="#ff8000"/>
<rect x="613.8" y="451.5" width="8.4" height="8.4" fill="#ff8000"/>
<rect x="619.1" y="444.4" width="8.4" height="8.4" fill="#ff8000"/>
<rect x="624.5" y="437.8" width="8.4" height="8.4" fill="#ff8000"/>
<rect x="629.9" y="404.7" width="8.4" height="8.4" fill="#ff8000"/>
<rect x="635.3" y="361.2" width="8.4" height="8.4" fill="#ff8000"/>
<rect x="640.7" y="343.2" width="8.4" height="8.4" fill="#ff8000"/>
<rect x="646.1" y="309.4" width="8.4" height="8.4" fill="#ff8000"/>
<rect x="651.5" y="317.9" width="8.4" height="8.4" fill="#ff8000"/>
<rect x="656.8" y="322.9" width="8.4" height="8.4" fill="#ff8000"/>
<rect x="662.2" y="284.4" width="8.4" height="8.4" fill="#ff8000"/>
<rect x="667.6" y="273.2" width="8.4" height="8.4" fill="#ff8000"/>
<rect x="673" y="265.1" width="8.4" height="8.4" fill="#ff8000"/>
<rect x="678.4" y="222.2" width="8.4" height="8.4" fill="#ff8000"/>
<rect x="683.8" y="209.4" width="8.4" height="8.4" fill="#ff8000"/>
<rect x="689.1" y="202.9" width="8.4" height="8.4" fill="#ff8000"/>
<rect x="694.5" y="187.5" width="8.4" height="8.4" fill="#ff8000"/>
<rect x="699.9" y="149.4" width="8.4" height="8.4" fill="#ff8000"/>
<rect x="705.3" y="127.9" width="8.4" height="8.4" fill="#ff8000"/>
<rect x="710.7" y="120.8" width="8.4" height="8.4" fill="#ff8000"/>
<rect x="716.1" y="109.4" width="8.4" height="8.4" fill="#ff8000"/>
<rect x="721.4" y="105.8" width="8.4" height="8.4" fill="#ff8000"/>
<rect x="726.8" y="100.1" width="8.4" height="8.4" fill="#ff8000"/>
<rect x="732.2" y="95.1" width="8.4" height="8.4" fill="#ff8000"/>
<rect x="737.6" y="105.1" width="8.4" height="8.4" fill="#ff8000"/>
<rect x="743" y="101.5" width="8.4" height="8.4" fill="#ff8000"/>
<rect x="748.4" y="70.8" width="8.4" height="8.4" fill="#ff8000"/>
<rect x="753.7" y="64.4" width="8.4" height="8.4" fill="#ff8000"/>
<rect x="759.1" y="47.9" width="8.4" height="8.4" fill="#ff8000"/>
<rect x="764.5" y="59.4" width="8.4" height="8.4" fill="#ff8000"/>
<rect x="769.9" y="53.7" width="8.4" height="8.4" fill="#ff8000"/>
<rect x="775.3" y="54.4" width="8.4" height="8.4" fill="#ff8000"/>
<rect x="780.7" y="43.7" width="8.4" height="8.4" fill="#ff8000"/>
<rect x="786.1" y="62.2" width="8.4" height="8.4" fill="#ff8000"/>
<rect x="791.4" y="60.8" width="8.4" height="8.4" fill="#ff8000"/>
<rect x="796.8" y="56.5" width="8.4" height="8.4" fill="#ff8000"/>
<rect x="802.2" y="72.7" width="8.4" height="8.4" fill="#ff8000"/>
<rect x="807.6" y="66.1" width="8.4" height="8.4" fill="#ff8000"/>
<rect x="813" y="60.8" width="8.4" height="8.4" fill="#ff8000"/>
<rect x="818.4" y="55.5" width="8.4" height="8.4" fill="#ff8000"/>
<rect x="823.7" y="79.4" width="8.4" height="8.4" fill="#ff8000"/>
<rect x="829.1" y="85.1" width="8.4" height="8.4" fill="#ff8000"/>
<rect x="834.5" y="78.4" width="8.4" height="8.4" fill="#ff8000"/>
<rect x="839.9" y="94.4" width="8.4" height="8.4" fill="#ff8000"/>
<rect x="845.3" y="113.7" width="8.4" height="8.4" fill="#ff8000"/>
<rect x="850.7" y="118.4" width="8.4" height="8.4" fill="#ff8000"/>
<rect x="856" y="122.7" width="8.4" height="8.4" fill="#ff8000"/>
<rect x="861.4" y="138.4" width="8.4" height="8.4" fill="#ff8000"/>
<rect x="866.8" y="169.6" width="8.4" height="8.4" fill="#ff8000"/>
<rect x="872.2" y="170.1" width="8.4" height="8.4" fill="#ff8000"/>
<rect x="877.6" y="175.8" width="8.4" height="8.4" fill="#ff8000"/>
<rect x="883" y="191.8" width="8.4" height="8.4" fill="#ff8000"/>
<rect x="888.3" y="218.7" width="8.4" height="8.4" fill="#ff8000"/>
<rect x="893.7" y="244.4" width="8.4" height="8.4" fill="#ff8000"/>
<rect x="899.1" y="265.8" width="8.4" height="8.4" fill="#ff8000"/>
<rect x="904.5" y="286.5" width="8.4" height="8.4" fill="#ff8000"/>
<rect x="909.9" y="285.8" width="8.4" height="8.4" fill="#ff8000"/>
<rect x="915.3" y="296.3" width="8.4" height="8.4" fill="#ff8000"/>
<rect x="920.7" y="330.8" width="8.4" height="8.4" fill="#ff8000"/>
<rect x="926" y="325.8" width="8.4" height="8.4" fill="#ff8000"/>
<rect x="931.4" y="342.7" width="8.4" height="8.4" fill="#ff8000"/>
<rect x="936.8" y="363.7" width="8.4" height="8.4" fill="#ff8000"/>
<rect x="942.2" y="401.5" width="8.4" height="8.4" fill="#ff8000"/>
<rect x="947.6" y="406.5" width="8.4" height="8.4" fill="#ff8000"/>
<rect x="953" y="412.9" width="8.4" height="8.4" fill="#ff8000"/>
<rect x="958.3" y="453.7" width="8.4" height="8.4" fill="#ff8000"/>
<rect x="963.7" y="494.4" width="8.4" height="8.4" fill="#ff8000"/>
<rect x="969.1" y="505.1" width="8.4" height="8.4" fill="#ff8000"/>
<rect x="974.5" y="529.4" width="8.4" height="8.4" fill="#ff8000"/>
<rect x="979.9" y="558.3" width="8.4" height="8.4" fill="#ff8000"/>
<rect x="985.3" y="577.2" width="8.4" height="8.4" fill="#ff8000"/>
<rect x="990.6" y="590.1" width="8.4" height="8.4" fill="#ff8000"/>
<rect x="996" y="583.7" width="8.4" height="8.4" fill="#ff8000"/>
<rect x="1001.4" y="619.4" width="8.4" height="8.4" fill="#ff8000"/>
<rect x="1006.8" y="625.8" width="8.4" height="8.4" fill="#ff8000"/>
<rect x="1012.2" y="629.8" width="8.4" height="8.4" fill="#ff8000"/>
<rect x="1017.6" y="655.1" width="8.4" height="8.4" fill="#ff8000"/>
<rect x="1022.9" y="669.4" width="8.4" height="8.4" fill="#ff8000"/>
<rect x="1028.3" y="677.8" width="8.4" height="8.4" fill="#ff8000"/>
<rect x="1033.7" y="692.9" width="8.4" height="8.4" fill="#ff8000"/>
<rect x="1039.1" y="701.5" width="8.4" height="8.4" fill="#ff8000"/>
<rect x="1044.5" y="726.5" width="8.4" height="8.4" fill="#ff8000"/>
<rect x="1049.9" y="721.5" width="8.4" height="8.4" fill="#ff8000"/>
<rect x="1055.3" y="715.8" width="8.4" height="8.4" fill="#ff8000"/>
<rect x="1060.6" y="724.4" width="8.4" height="8.4" fill="#ff8000"/>
<rect x="1066" y="711.5" width="8.4" height="8.4" fill="#ff8000"/>
<rect x="1071.4" y="722.9" width="8.4" height="8.4" fill="#ff8000"/>
<rect x="1076.8" y="721.2" width="8.4" height="8.4" fill="#ff8000"/>
<rect x="1082.2" y="725.1" width="8.4" height="8.4" fill="#ff8000"/>
<rect x="1087.6" y="721.5" width="8.4" height="8.4" fill="#ff8000"/>
<rect x="1092.9" y="727.2" width="8.4" height="8.4" fill="#ff8000"/>
<rect x="1098.3" y="725.1" width="8.4" height="8.4" fill="#ff8000"/>
<rect x="1103.7" y="734.4" width="8.4" height="8.4" fill="#ff8000"/>
<rect x="1109.1" y="745.8" width="8.4" height="8.4" fill="#ff8000"/>
<rect x="1114.5" y="721.5" width="8.4" height="8.4" fill="#ff8000"/>
<rect x="1119.9" y="733.2" width="8.4" height="8.4" fill="#ff8000"/>
<rect x="1125.2" y="732.7" width="8.4" height="8.4" fill="#ff8000"/>
<rect x="1130.6" y="725.8" width="8.4" height="8.4" fill="#ff8000"/>
<rect x="1136" y="741.5" width="8.4" height="8.4" fill="#ff8000"/>
<rect x="1141.4" y="723.2" width="8.4" height="8.4" fill="#ff8000"/>
<rect x="1146.8" y="710.1" width="8.4" height="8.4" fill="#ff8000"/>
<rect x="1152.2" y="702.2" width="8.4" height="8.4" fill="#ff8000"/>
<rect x="1157.5" y="687.9" width="8.4" height="8.4" fill="#ff8000"/>
<rect x="1162.9" y="692.9" width="8.4" height="8.4" fill="#ff8000"/>
<rect x="1168.3" y="708.7" width="8.4" height="8.4" fill="#ff8000"/>
<rect x="1173.7" y="715.4" width="8.4" height="8.4" fill="#ff8000"/>
<rect x="1179.1" y="717.2" width="8.4" height="8.4" fill="#ff8000"/>
<rect x="1184.5" y="728.4" width="8.4" height="8.4" fill="#ff8000"/>
<rect x="1189.9" y="723.7" width="8.4" height="8.4" fill="#ff8000"/>
<rect x="1195.2" y="722.9" width="8.4" height="8.4" fill="#ff8000"/>
<rect x="1200.6" y="725.1" width="8.4" height="8.4" fill="#ff8000"/>
<rect x="1206" y="725.8" width="8.4" height="8.4" fill="#ff8000"/>
<rect x="1211.4" y="719.4" width="8.4" height="8.4" fill="#ff8000"/>
<rect x="1216.8" y="726.5" width="8.4" height="8.4" fill="#ff8000"/>
<rect x="1222.2" y="730.8" width="8.4" height="8.4" fill="#ff8000"/>
<rect x="1227.5" y="731.5" width="8.4" height="8.4" fill="#ff8000"/>
<rect x="1232.9" y="728.7" width="8.4" height="8.4" fill="#ff8000"/>
<rect x="1238.3" y="723.7" width="8.4" height="8.4" fill="#ff8000"/>
<rect x="1243.7" y="731.5" width="8.4" height="8.4" fill="#ff8000"/>
<rect x="1249.1" y="716.5" width="8.4" height="8.4" fill="#ff8000"/>
<rect x="1254.5" y="715.8" width="8.4" height="8.4" fill="#ff8000"/>
<rect x="1259.8" y="722.2" width="8.4" height="8.4" fill="#ff8000"/>
<rect x="1265.2" y="734.4" width="8.4" height="8.4" fill="#ff8000"/>
<rect x="1270.6" y="746.5" width="8.4" height="8.4" fill="#ff8000"/>
<rect x="1276" y="724.1" width="8.4" height="8.4" fill="#ff8000"/>
<rect x="1281.4" y="720.4" width="8.4" height="8.4" fill="#ff8000"/>
<rect x="1286.8" y="732.2" width="8.4" height="8.4" fill="#ff8000"/>
<rect x="1292.1" y="737.9" width="8.4" height="8.4" fill="#ff8000"/>
<rect x="1297.5" y="736.5" width="8.4" height="8.4" fill="#ff8000"/>
<rect x="1302.9" y="717.2" width="8.4" height="8.4" fill="#ff8000"/>
<rect x="1308.3" y="728.9" width="8.4" height="8.4" fill="#ff8000"/>
<rect x="1313.7" y="744.4" width="8.4" height="8.4" fill="#ff8000"/>
<rect x="1319.1" y="763.2" width="8.4" height="8.4" fill="#ff8000"/>
<rect x="1324.5" y="752.2" width="8.4" height="8.4" fill="#ff8000"/>
<rect x="1329.8" y="738.4" width="8.4" height="8.4" fill="#ff8000"/>
<rect x="1335.2" y="702.2" width="8.4" height="8.4" fill="#ff8000"/>
<rect x="1340.6" y="703.7" width="8.4" height="8.4" fill="#ff8000"/>
<rect x="1346" y="735.1" width="8.4" height="8.4" fill="#ff8000"/>
<rect x="1351.4" y="743.7" width="8.4" height="8.4" fill="#ff8000"/>
<rect x="1356.8" y="726.5" width="8.4" height="8.4" fill="#ff8000"/>
<rect x="1362.1" y="717.2" width="8.4" height="8.4" fill="#ff8000"/>
</g>
</g>
<g stroke="#000" stroke-width="2.8" fill="none" stroke-linecap="butt" stroke-linejoin="round">
<rect x="234.1" y="10.2" width="1134.7" height="833.2"/>
<path stroke-linecap="round" d="M290.8 843.4V835.2"/>
<path stroke-linecap="round" d="M347.6 843.4V827.1"/>
<path stroke-linecap="round" d="M404.3 843.4V835.2"/>
<path stroke-linecap="round" d="M461 843.4V827.1"/>
<path stroke-linecap="round" d="M517.8 843.4V835.2"/>
<path stroke-linecap="round" d="M574.5 843.4V827.1"/>
<path stroke-linecap="round" d="M631.2 843.4V835.2"/>
<path stroke-linecap="round" d="M688 843.4V827.1"/>
<path stroke-linecap="round" d="M744.7 843.4V835.2"/>
<path stroke-linecap="round" d="M801.5 843.4V827.1"/>
<path stroke-linecap="round" d="M858.2 843.4V835.2"/>
<path stroke-linecap="round" d="M914.9 843.4V827.1"/>
<path stroke-linecap="round" d="M971.7 843.4V835.2"/>
<path stroke-linecap="round" d="M1028.4 843.4V827.1"/>
<path stroke-linecap="round" d="M1085.1 843.4V835.2"/>
<path stroke-linecap="round" d="M1141.9 843.4V827.1"/>
<path stroke-linecap="round" d="M1198.6 843.4V835.2"/>
<path stroke-linecap="round" d="M1255.3 843.4V827.1"/>
<path stroke-linecap="round" d="M1312.1 843.4V835.2"/>
<path stroke-linecap="round" d="M234.1 755.7H243.3"/>
<path stroke-linecap="round" d="M234.1 668H251.2"/>
<path stroke-linecap="round" d="M234.1 580.2H243.3"/>
<path stroke-linecap="round" d="M234.1 492.5H251.2"/>
<path stroke-linecap="round" d="M234.1 404.8H243.3"/>
<path stroke-linecap="round" d="M234.1 317.1H251.2"/>
<path stroke-linecap="round" d="M234.1 229.3H243.3"/>
<path stroke-linecap="round" d="M234.1 141.6H251.2"/>
<path stroke-linecap="round" d="M234.1 53.9H243.3"/>
</g>
<g font-size="45" text-anchor="middle">
<text x="232.6" y="897.6">-10</text>
<text x="346.1" y="897.6">-8</text>
<text x="459.5" y="897.6">-6</text>
<text x="573" y="897.6">-4</text>
<text x="686.5" y="897.6">-2</text>
<text x="800" y="897.6">0</text>
<text x="913.4" y="897.6">2</text>
<text x="1026.9" y="897.6">4</text>
<text x="1140.4" y="897.6">6</text>
<text x="1253.8" y="897.6">8</text>
<text x="1366.6" y="897.6">10</text>
</g>
<g font-size="45" text-anchor="end">
<text x="214.3" y="856.9">0</text>
<text x="214.3" y="681.5">10000</text>
<text x="214.3" y="506">20000</text>
<text x="214.3" y="330.6">30000</text>
<text x="214.3" y="155.1">40000</text>
</g>
<text x="801.2" y="975.5" font-size="49" text-anchor="middle">Relative position on SC / mm</text>
<text transform="translate(45.3 420.5) rotate(-90)" font-size="49" text-anchor="middle">Intensity / relative</text>
<path d="M283.2 80.1H328M339.4 80.1H384" stroke="#000000" stroke-width="1" fill="none"/>
<circle cx="333.7" cy="80.1" r="4.15" fill="#000000"/>
<text x="397.2" y="95.3" font-size="44.4" xml:space="preserve"><tspan font-style="italic">R</tspan>=72 m</text>
<path d="M283.2 135.4H328M339.4 135.4H384" stroke="#ff0000" stroke-width="1" fill="none"/>
<circle cx="333.7" cy="135.4" r="3.7" fill="#fff" stroke="#ff0000" stroke-width="1.1"/>
<text x="397.2" y="150.6" font-size="44.4" xml:space="preserve"><tspan font-style="italic">R</tspan>=36 m</text>
<path d="M283.2 190.7H328M339.4 190.7H384" stroke="#0000ff" stroke-width="1" fill="none"/>
<path d="M333.7 185.3L339.4 195.2L328 195.2Z" fill="#0000ff"/>
<text x="397.2" y="205.9" font-size="44.4" xml:space="preserve"><tspan font-style="italic">R</tspan>=18 m</text>
<path d="M283.2 245.9H328M339.4 245.9H384" stroke="#ff00ff" stroke-width="1" fill="none"/>
<rect x="329.5" y="241.7" width="8.4" height="8.4" fill="#ff00ff"/>
<text x="397.2" y="261.1" font-size="44.4" xml:space="preserve"><tspan font-style="italic">R</tspan>=12 m</text>
<path d="M283.2 301.2H328M339.4 301.2H384" stroke="#00ff00" stroke-width="1" fill="none"/>
<polygon points="333.7,295.4 335.2,299.3 339.3,299.5 336.1,302.1 337.2,306.1 333.7,303.8 330.2,306.1 331.3,302.1 328.1,299.5 332.2,299.3" fill="#00ff00"/>
<text x="397.2" y="316.4" font-size="44.4" xml:space="preserve"><tspan font-style="italic">R</tspan>= 9 m</text>
<path d="M283.2 356.5H328M339.4 356.5H384" stroke="#800000" stroke-width="1" fill="none"/>
<path d="M333.7 362.9L339.6 352.4L327.8 352.4Z" fill="#800000"/>
<text x="397.2" y="371.7" font-size="44.4" xml:space="preserve"><tspan font-style="italic">R</tspan>=7.5 m</text>
<path d="M283.2 411.8H328M339.4 411.8H384" stroke="#ff8000" stroke-width="1" fill="none"/>
<rect x="329.5" y="407.6" width="8.4" height="8.4" fill="#ff8000"/>
<text x="397.2" y="427" font-size="44.4" xml:space="preserve"><tspan font-style="italic">R</tspan>= 6 m</text>
</svg></body></html>
